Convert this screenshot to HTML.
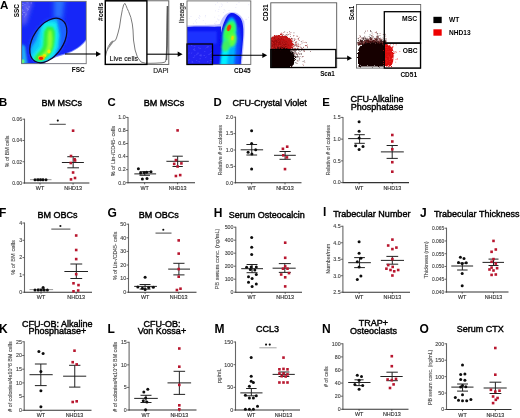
<!DOCTYPE html>
<html><head><meta charset="utf-8"><style>
html,body{margin:0;padding:0;background:#fff;}
svg{display:block;font-family:"Liberation Sans", sans-serif;}
.ttl{stroke:#000;stroke-width:0.42px;}
.tk{stroke:#444;stroke-width:0.12px;}
.gl{stroke:#333;stroke-width:0.15px;}
</style></head><body>
<svg width="520" height="418" viewBox="0 0 520 418">
<defs><filter id="soft" x="0" y="0" width="520" height="418" filterUnits="userSpaceOnUse"><feGaussianBlur stdDeviation="0.28"/></filter></defs>
<rect width="520" height="418" fill="#fff"/>
<g filter="url(#soft)">
<defs>
<filter id="b1" x="-50%" y="-50%" width="200%" height="200%"><feGaussianBlur stdDeviation="1.2"/></filter>
<filter id="b2" x="-50%" y="-50%" width="200%" height="200%"><feGaussianBlur stdDeviation="2.2"/></filter>
<filter id="b3" x="-50%" y="-50%" width="200%" height="200%"><feGaussianBlur stdDeviation="0.7"/></filter>
<filter id="b4" x="-50%" y="-50%" width="200%" height="200%"><feGaussianBlur stdDeviation="3.5"/></filter>
<filter id="b5" x="-50%" y="-50%" width="200%" height="200%"><feGaussianBlur stdDeviation="1.7"/></filter>
<filter id="rough" x="-20%" y="-20%" width="140%" height="140%"><feTurbulence type="fractalNoise" baseFrequency="0.9" numOctaves="2" seed="3" result="n"/><feDisplacementMap in="SourceGraphic" in2="n" scale="3.2" xChannelSelector="R" yChannelSelector="G"/></filter>
<clipPath id="c1"><rect x="21.5" y="1.2" width="64.5" height="62.5"/></clipPath>
<clipPath id="c1e"><ellipse cx="48.3" cy="40.5" rx="14.6" ry="24.2" transform="rotate(33.6 48.3 40.5)"/></clipPath>
<clipPath id="c3"><rect x="187" y="0.8" width="63.8" height="63.6"/></clipPath>
<clipPath id="c4"><rect x="270.8" y="2.8" width="65.2" height="64.7"/></clipPath>
<clipPath id="c5"><rect x="356.5" y="4.5" width="64" height="63.5"/></clipPath>
</defs>
<text x="-0.10" y="9.20" font-size="11.6" text-anchor="start" font-weight="bold" fill="#000" >A</text>
<g clip-path="url(#c1)">
<rect x="21.5" y="1.2" width="64.5" height="62.5" fill="#1428f8"/>
<path d="M54,-2 L65,-2 L62,22 L54,24 Z" fill="#2a70ff" filter="url(#b2)"/>
<path d="M21.5,1.2 L33,1.2 C31,8 29,14 26,24 L21.5,26 Z" fill="#5c5cf2" filter="url(#b2)"/>
<rect x="24.6" y="4.0" width="0.7" height="0.7" fill="#9a9af8"/><rect x="27.7" y="2.6" width="0.7" height="0.7" fill="#9a9af8"/><rect x="26.6" y="8.1" width="0.7" height="0.7" fill="#9a9af8"/><rect x="22.1" y="10.7" width="0.7" height="0.7" fill="#9a9af8"/><rect x="21.9" y="9.4" width="0.7" height="0.7" fill="#9a9af8"/><rect x="22.2" y="2.9" width="0.7" height="0.7" fill="#9a9af8"/><rect x="22.7" y="5.4" width="0.7" height="0.7" fill="#9a9af8"/><rect x="27.0" y="8.7" width="0.7" height="0.7" fill="#9a9af8"/><rect x="30.8" y="2.1" width="0.7" height="0.7" fill="#9a9af8"/><rect x="22.9" y="3.4" width="0.7" height="0.7" fill="#9a9af8"/><rect x="24.4" y="16.5" width="0.7" height="0.7" fill="#9a9af8"/><rect x="23.2" y="12.1" width="0.7" height="0.7" fill="#9a9af8"/><rect x="27.6" y="8.2" width="0.7" height="0.7" fill="#9a9af8"/><rect x="26.7" y="2.4" width="0.7" height="0.7" fill="#9a9af8"/><rect x="22.1" y="5.1" width="0.7" height="0.7" fill="#9a9af8"/><rect x="28.0" y="9.2" width="0.7" height="0.7" fill="#9a9af8"/><rect x="24.5" y="12.2" width="0.7" height="0.7" fill="#9a9af8"/><rect x="25.8" y="6.8" width="0.7" height="0.7" fill="#9a9af8"/><rect x="23.8" y="12.0" width="0.7" height="0.7" fill="#9a9af8"/><rect x="28.4" y="6.6" width="0.7" height="0.7" fill="#9a9af8"/><rect x="30.8" y="3.4" width="0.7" height="0.7" fill="#9a9af8"/><rect x="25.5" y="15.4" width="0.7" height="0.7" fill="#9a9af8"/><rect x="22.9" y="10.4" width="0.7" height="0.7" fill="#9a9af8"/><rect x="21.9" y="13.8" width="0.7" height="0.7" fill="#9a9af8"/><rect x="27.0" y="9.8" width="0.7" height="0.7" fill="#9a9af8"/><rect x="26.0" y="13.7" width="0.7" height="0.7" fill="#9a9af8"/><rect x="22.1" y="14.4" width="0.7" height="0.7" fill="#9a9af8"/><rect x="29.3" y="6.6" width="0.7" height="0.7" fill="#9a9af8"/><rect x="25.2" y="13.8" width="0.7" height="0.7" fill="#9a9af8"/><rect x="21.7" y="9.9" width="0.7" height="0.7" fill="#9a9af8"/>
<path d="M21.5,44 L25,46 L27.5,64 L21.5,64 Z" fill="#20b0f0" filter="url(#b1)"/>
<ellipse cx="23" cy="61.5" rx="1.5" ry="2.3" fill="#60f080" filter="url(#b3)"/>
<ellipse cx="48.3" cy="40.5" rx="16.5" ry="26" transform="rotate(33.6 48.3 40.5)" fill="#1a3cff" filter="url(#b1)"/>
<path d="M88,36.5 C82,46 74,50.5 65,53.5 C57,55.5 51,57 45,61 L41,66 L88,66 Z" fill="#7a86ff" filter="url(#b3)"/>
<path d="M88,38 C82,47 74,51.5 65,54.5 C58,56.5 52,58 46,62 L42,66 L88,66 Z" fill="#fff" filter="url(#b3)"/>
</g>
<g clip-path="url(#c1e)">
<rect x="20" y="10" width="60" height="60" fill="#1a62ff"/>
<path d="M44,19 L57,19 L60,35 L59,48 L55,56 L48,62 L36,64 L29,58 L31,48 L36,40 L40,28 Z" fill="#08c8fa" filter="url(#b5)"/>
<path d="M45,22 L56,23 L58,35 L57,47 L53,56 L45,61 L35,62 L32,57 L36,51 L40,46 L41,35 L42,27 Z" fill="#18eef0" filter="url(#b1)"/>
<path d="M47,26.5 L53,27 L55,32 L54.8,40 L54,46 L52.5,50.5 L50,54.5 L46.5,58 L42,61 L36,61.5 L34,58.5 L37,54 L41,50 L43,46 L43.5,40 L44,32 Z" fill="#30f040" filter="url(#b1)"/>
<path d="M48.5,30 L51.5,30.5 L52.5,38 L52,46 L50.5,51 L47,55.5 L42,58.5 L39,58 L42,54.5 L46,50 L47.5,45 L47.5,37 Z" fill="#90ff30" filter="url(#b1)"/>
<ellipse cx="49" cy="51.5" rx="1.6" ry="2" fill="#f0f000" filter="url(#b3)"/>
<ellipse cx="44.5" cy="55.5" rx="1.8" ry="1.5" fill="#e8f000" filter="url(#b3)"/>
<ellipse cx="41.5" cy="57.8" rx="3.4" ry="2.4" fill="#f0c000" filter="url(#b3)"/>
<ellipse cx="41" cy="58.3" rx="2.3" ry="1.6" fill="#f02800" filter="url(#b3)"/>
</g>
<rect x="21.6" y="1.3" width="64.6" height="62.4" fill="none" stroke="#666" stroke-width="0.8"/>
<ellipse cx="48.3" cy="40.5" rx="15.1" ry="24.7" transform="rotate(33.6 48.3 40.5)" fill="none" stroke="#0a0a28" stroke-width="1.2"/>
<line x1="65.00" y1="54.00" x2="97.00" y2="54.00" stroke="#000" stroke-width="1.1"/>
<path d="M96,51.3 L101,54 L96,56.7 Z" fill="#000"/>
<text transform="translate(19.4,10.7) rotate(-90)" font-size="6.4" font-weight="bold" text-anchor="middle">SSC</text>
<text x="78.30" y="71.80" font-size="6.5" text-anchor="middle" font-weight="bold" fill="#000" >FSC</text>
<rect x="105.3" y="0.8" width="63.5" height="63.6" fill="none" stroke="#555" stroke-width="0.9"/>
<path d="M105.6,56.0 L106.5,52.0 L108.3,46.5 L110.5,43.0 L112.0,41.3 L114.0,41.2 L115.3,40.5 L116.5,38.0 L118.0,33.0 L119.5,27.0 L121.0,17.0 L122.4,9.5 L123.6,5.0 L124.8,3.3 L126.0,5.5 L127.2,8.5 L128.6,11.5 L130.8,17.3 L132.3,24.0 L133.0,30.0 L133.5,40.0 L135.1,50.0 L137.4,57.0 L141.0,62.0 L145.5,63.2 L150.0,63.3 L155.0,63.2 L162.0,62.8 L165.2,62.0 L166.4,59.0 L167.0,45.0 L167.3,20.0 L167.5,8.0" fill="none" stroke="#7a7a7a" stroke-width="1"/>
<path d="M106.5,52 L108.5,47.2 L110.5,43 L112,41.3 L114,41.2 L112,44 L109,48 Z" fill="#888"/>
<path d="M166.4,60 L167,45 L167.3,20 L167.5,6" fill="none" stroke="#555" stroke-width="1.6"/>
<rect x="105.3" y="0.8" width="41.6" height="63.6" fill="none" stroke="#000" stroke-width="1.4"/>
<text x="109.60" y="61.10" font-size="6.9" text-anchor="start" font-weight="normal" fill="#000" class="gl">Live cells</text>
<line x1="146.90" y1="54.20" x2="178.00" y2="54.20" stroke="#000" stroke-width="1.1"/>
<path d="M177.7,51.6 L182.6,54.2 L177.7,56.8 Z" fill="#000"/>
<text transform="translate(103.4,11.8) rotate(-90)" font-size="6.6" font-weight="bold" text-anchor="middle">#cells</text>
<text x="161.00" y="72.90" font-size="6.6" text-anchor="middle" font-weight="normal" fill="#111" class="gl">DAPI</text>
<g clip-path="url(#c3)">
<rect x="187" y="0.8" width="64" height="64" fill="#fff"/>
<rect x="220.9" y="3.7" width="0.6" height="0.6" fill="#c8c8f4"/><rect x="217.1" y="18.7" width="0.6" height="0.6" fill="#c8c8f4"/><rect x="219.5" y="6.7" width="0.6" height="0.6" fill="#c8c8f4"/><rect x="228.7" y="21.0" width="0.6" height="0.6" fill="#c8c8f4"/><rect x="217.8" y="11.3" width="0.6" height="0.6" fill="#c8c8f4"/><rect x="234.2" y="21.3" width="0.6" height="0.6" fill="#c8c8f4"/><rect x="243.7" y="20.9" width="0.6" height="0.6" fill="#c8c8f4"/><rect x="224.7" y="10.6" width="0.6" height="0.6" fill="#c8c8f4"/><rect x="227.6" y="21.3" width="0.6" height="0.6" fill="#c8c8f4"/><rect x="248.5" y="4.5" width="0.6" height="0.6" fill="#c8c8f4"/><rect x="221.2" y="6.3" width="0.6" height="0.6" fill="#c8c8f4"/><rect x="223.2" y="12.2" width="0.6" height="0.6" fill="#c8c8f4"/><rect x="235.6" y="7.0" width="0.6" height="0.6" fill="#c8c8f4"/><rect x="215.1" y="10.6" width="0.6" height="0.6" fill="#c8c8f4"/><rect x="227.9" y="14.0" width="0.6" height="0.6" fill="#c8c8f4"/><rect x="248.4" y="16.9" width="0.6" height="0.6" fill="#c8c8f4"/><rect x="233.0" y="15.2" width="0.6" height="0.6" fill="#c8c8f4"/><rect x="238.7" y="2.2" width="0.6" height="0.6" fill="#c8c8f4"/><rect x="246.5" y="18.9" width="0.6" height="0.6" fill="#c8c8f4"/><rect x="245.6" y="19.4" width="0.6" height="0.6" fill="#c8c8f4"/><rect x="228.7" y="10.2" width="0.6" height="0.6" fill="#c8c8f4"/><rect x="218.6" y="15.6" width="0.6" height="0.6" fill="#c8c8f4"/><rect x="217.2" y="2.5" width="0.6" height="0.6" fill="#c8c8f4"/><rect x="222.3" y="4.7" width="0.6" height="0.6" fill="#c8c8f4"/><rect x="226.9" y="2.2" width="0.6" height="0.6" fill="#c8c8f4"/><rect x="215.0" y="4.5" width="0.6" height="0.6" fill="#c8c8f4"/><rect x="218.6" y="9.4" width="0.6" height="0.6" fill="#c8c8f4"/><rect x="215.9" y="21.1" width="0.6" height="0.6" fill="#c8c8f4"/><rect x="236.5" y="4.4" width="0.6" height="0.6" fill="#c8c8f4"/><rect x="223.8" y="9.0" width="0.6" height="0.6" fill="#c8c8f4"/><rect x="199.7" y="16.4" width="0.6" height="0.6" fill="#c8c8f4"/><rect x="215.2" y="25.9" width="0.6" height="0.6" fill="#c8c8f4"/><rect x="202.9" y="20.3" width="0.6" height="0.6" fill="#c8c8f4"/><rect x="190.7" y="16.1" width="0.6" height="0.6" fill="#c8c8f4"/><rect x="199.0" y="17.9" width="0.6" height="0.6" fill="#c8c8f4"/><rect x="214.5" y="16.8" width="0.6" height="0.6" fill="#c8c8f4"/><rect x="188.7" y="25.5" width="0.6" height="0.6" fill="#c8c8f4"/><rect x="204.9" y="16.6" width="0.6" height="0.6" fill="#c8c8f4"/><rect x="205.4" y="15.3" width="0.6" height="0.6" fill="#c8c8f4"/><rect x="204.9" y="25.8" width="0.6" height="0.6" fill="#c8c8f4"/><rect x="215.6" y="22.7" width="0.6" height="0.6" fill="#c8c8f4"/><rect x="196.4" y="19.0" width="0.6" height="0.6" fill="#c8c8f4"/><rect x="193.3" y="23.5" width="0.6" height="0.6" fill="#c8c8f4"/><rect x="205.0" y="23.6" width="0.6" height="0.6" fill="#c8c8f4"/><rect x="198.5" y="17.5" width="0.6" height="0.6" fill="#c8c8f4"/><rect x="214.0" y="25.8" width="0.6" height="0.6" fill="#c8c8f4"/><rect x="215.3" y="23.9" width="0.6" height="0.6" fill="#c8c8f4"/><rect x="214.2" y="23.1" width="0.6" height="0.6" fill="#c8c8f4"/><rect x="195.3" y="20.7" width="0.6" height="0.6" fill="#c8c8f4"/><rect x="199.4" y="15.3" width="0.6" height="0.6" fill="#c8c8f4"/><rect x="188.9" y="18.1" width="0.6" height="0.6" fill="#c8c8f4"/><rect x="196.3" y="22.6" width="0.6" height="0.6" fill="#c8c8f4"/><rect x="218.6" y="19.9" width="0.6" height="0.6" fill="#c8c8f4"/><rect x="218.0" y="25.9" width="0.6" height="0.6" fill="#c8c8f4"/><rect x="218.6" y="19.0" width="0.6" height="0.6" fill="#c8c8f4"/>
<path d="M187,25.5 C200,24.5 212,25.5 219.8,24 C222,17 226,12 232,12 C237,12 242,15 244.3,22 C245.5,30 243.8,45 241.8,66 L187,66 Z" fill="#c4c4ff" filter="url(#b3)"/>
<path d="M187,27 C200,26 212,27 221,26.5 L221,66 L187,66 Z" fill="#0c14f2"/>
<path d="M219,47 C220,36 222,26 225,20 C227,15.5 229,13 232,13 C235,13 238,15 240.5,18 C243,22 244,29 243,40 L240.5,66 L219,66 Z" fill="#0c14f2" filter="url(#b3)"/>
<path d="M187,31 L217,31 L217,44 L187,44 Z" fill="#1a32ff" filter="url(#b1)"/>
<path d="M228,66 C230,50 236,35 239,25 L241,40 L239.5,66 Z" fill="#1048ff" filter="url(#b1)"/>
<path d="M220.5,66 C221.5,50 224,30 229,19 C231,16 234,17 235,21 C237,32 236,50 234,66 Z" fill="#00b0ff" filter="url(#b1)"/>
<path d="M220.5,66 C221,56 223,48 225.5,43 L230,45 C228.5,52 227.5,58 227,66 Z" fill="#00f0ff" filter="url(#b1)"/>
<ellipse cx="229.5" cy="33" rx="6.2" ry="13" transform="rotate(15 229.5 33)" fill="#20f0a0" filter="url(#b1)"/>
<ellipse cx="229.5" cy="31" rx="4.6" ry="9" transform="rotate(18 229.5 31)" fill="#40ff40" filter="url(#b1)"/>
<ellipse cx="232" cy="40" rx="4.4" ry="7" transform="rotate(12 232 40)" fill="#60ff40" filter="url(#b1)"/>
<ellipse cx="226" cy="46" rx="4" ry="5.5" transform="rotate(15 226 46)" fill="#40f060" filter="url(#b1)"/>
<ellipse cx="229" cy="27.8" rx="1.9" ry="3.4" transform="rotate(20 229 27.8)" fill="#f03800" filter="url(#b3)"/>
<ellipse cx="232.5" cy="38" rx="1.4" ry="2.5" transform="rotate(12 232.5 38)" fill="#e8e000" filter="url(#b3)"/>
<rect x="187" y="44" width="25.5" height="20.5" fill="#2222f2"/>
<rect x="193.3" y="49.3" width="1.6" height="0.5" fill="#5050ff" transform="rotate(-36 193.3 49.3)"/><rect x="192.9" y="56.9" width="1.6" height="0.5" fill="#5050ff" transform="rotate(13 192.9 56.9)"/><rect x="208.2" y="54.1" width="1.6" height="0.5" fill="#5050ff" transform="rotate(-4 208.2 54.1)"/><rect x="207.2" y="46.6" width="1.6" height="0.5" fill="#5050ff" transform="rotate(-4 207.2 46.6)"/><rect x="209.8" y="59.9" width="1.6" height="0.5" fill="#5050ff" transform="rotate(3 209.8 59.9)"/><rect x="199.5" y="48.4" width="1.6" height="0.5" fill="#5050ff" transform="rotate(5 199.5 48.4)"/><rect x="196.0" y="60.2" width="1.6" height="0.5" fill="#5050ff" transform="rotate(18 196.0 60.2)"/><rect x="197.5" y="52.6" width="1.6" height="0.5" fill="#5050ff" transform="rotate(16 197.5 52.6)"/><rect x="205.4" y="48.2" width="1.6" height="0.5" fill="#5050ff" transform="rotate(-41 205.4 48.2)"/><rect x="191.6" y="62.2" width="1.6" height="0.5" fill="#5050ff" transform="rotate(6 191.6 62.2)"/><rect x="191.5" y="60.7" width="1.6" height="0.5" fill="#5050ff" transform="rotate(19 191.5 60.7)"/><rect x="203.8" y="51.7" width="1.6" height="0.5" fill="#5050ff" transform="rotate(-12 203.8 51.7)"/><rect x="191.1" y="45.3" width="1.6" height="0.5" fill="#5050ff" transform="rotate(18 191.1 45.3)"/><rect x="203.6" y="55.0" width="1.6" height="0.5" fill="#5050ff" transform="rotate(15 203.6 55.0)"/><rect x="198.4" y="61.6" width="1.6" height="0.5" fill="#5050ff" transform="rotate(8 198.4 61.6)"/><rect x="193.1" y="49.8" width="1.6" height="0.5" fill="#5050ff" transform="rotate(-29 193.1 49.8)"/><rect x="193.8" y="56.1" width="1.6" height="0.5" fill="#5050ff" transform="rotate(-32 193.8 56.1)"/><rect x="198.1" y="47.5" width="1.6" height="0.5" fill="#5050ff" transform="rotate(14 198.1 47.5)"/><rect x="196.5" y="53.7" width="1.6" height="0.5" fill="#5050ff" transform="rotate(-9 196.5 53.7)"/><rect x="209.7" y="53.0" width="1.6" height="0.5" fill="#5050ff" transform="rotate(14 209.7 53.0)"/><rect x="200.0" y="55.1" width="1.6" height="0.5" fill="#5050ff" transform="rotate(-13 200.0 55.1)"/><rect x="188.4" y="53.4" width="1.6" height="0.5" fill="#5050ff" transform="rotate(-37 188.4 53.4)"/><rect x="188.1" y="60.2" width="1.6" height="0.5" fill="#5050ff" transform="rotate(-38 188.1 60.2)"/><rect x="199.4" y="58.8" width="1.6" height="0.5" fill="#5050ff" transform="rotate(-11 199.4 58.8)"/><rect x="195.8" y="54.8" width="1.6" height="0.5" fill="#5050ff" transform="rotate(-11 195.8 54.8)"/><rect x="206.8" y="47.0" width="1.6" height="0.5" fill="#5050ff" transform="rotate(-11 206.8 47.0)"/><rect x="194.0" y="50.3" width="1.6" height="0.5" fill="#5050ff" transform="rotate(4 194.0 50.3)"/><rect x="200.2" y="55.7" width="1.6" height="0.5" fill="#5050ff" transform="rotate(3 200.2 55.7)"/><rect x="209.9" y="53.4" width="1.6" height="0.5" fill="#5050ff" transform="rotate(-7 209.9 53.4)"/><rect x="200.1" y="54.7" width="1.6" height="0.5" fill="#5050ff" transform="rotate(-2 200.1 54.7)"/><rect x="198.9" y="55.1" width="1.6" height="0.5" fill="#5050ff" transform="rotate(-17 198.9 55.1)"/><rect x="210.6" y="58.3" width="1.6" height="0.5" fill="#5050ff" transform="rotate(11 210.6 58.3)"/><rect x="210.6" y="49.9" width="1.6" height="0.5" fill="#5050ff" transform="rotate(-11 210.6 49.9)"/><rect x="210.6" y="61.0" width="1.6" height="0.5" fill="#5050ff" transform="rotate(-40 210.6 61.0)"/><rect x="190.9" y="53.4" width="1.6" height="0.5" fill="#5050ff" transform="rotate(-45 190.9 53.4)"/><rect x="193.8" y="46.4" width="1.6" height="0.5" fill="#5050ff" transform="rotate(-3 193.8 46.4)"/><rect x="206.8" y="62.0" width="1.6" height="0.5" fill="#5050ff" transform="rotate(-39 206.8 62.0)"/><rect x="205.2" y="57.5" width="1.6" height="0.5" fill="#5050ff" transform="rotate(-40 205.2 57.5)"/><rect x="209.2" y="63.4" width="1.6" height="0.5" fill="#5050ff" transform="rotate(-35 209.2 63.4)"/><rect x="210.9" y="52.6" width="1.6" height="0.5" fill="#5050ff" transform="rotate(-16 210.9 52.6)"/>
</g>
<rect x="187" y="0.9" width="63.8" height="63.5" fill="none" stroke="#666" stroke-width="0.9"/>
<rect x="187" y="44" width="25.5" height="20.5" fill="none" stroke="#000" stroke-width="1.3"/>
<line x1="212.50" y1="55.30" x2="263.00" y2="55.30" stroke="#000" stroke-width="1.1"/>
<path d="M262.3,52.7 L267.2,55.3 L262.3,57.9 Z" fill="#000"/>
<text transform="translate(184.2,12.8) rotate(-90)" font-size="6.3" text-anchor="middle" fill="#111" class="gl">lineage</text>
<text x="242.40" y="72.90" font-size="6.5" text-anchor="middle" font-weight="bold" fill="#000" >CD45</text>
<g clip-path="url(#c4)">
<rect x="290.2" y="39.8" width="0.7" height="0.7" fill="#b02020"/><rect x="297.7" y="42.9" width="0.7" height="0.7" fill="#502020"/><rect x="281.7" y="59.1" width="0.7" height="0.7" fill="#301010"/><rect x="284.7" y="59.8" width="0.7" height="0.7" fill="#200808"/><rect x="291.3" y="65.9" width="0.7" height="0.7" fill="#200808"/><rect x="284.8" y="66.8" width="0.7" height="0.7" fill="#301010"/><rect x="294.6" y="53.7" width="0.7" height="0.7" fill="#301010"/><rect x="297.6" y="48.1" width="0.7" height="0.7" fill="#c05050"/><rect x="291.1" y="53.1" width="0.7" height="0.7" fill="#301010"/><rect x="292.1" y="38.5" width="0.7" height="0.7" fill="#c05050"/><rect x="290.1" y="46.3" width="0.7" height="0.7" fill="#b02020"/><rect x="281.6" y="34.9" width="0.7" height="0.7" fill="#502020"/><rect x="294.0" y="39.7" width="0.7" height="0.7" fill="#502020"/><rect x="299.3" y="57.5" width="0.7" height="0.7" fill="#a05050"/><rect x="285.3" y="42.1" width="0.7" height="0.7" fill="#c05050"/><rect x="291.8" y="48.2" width="0.7" height="0.7" fill="#502020"/><rect x="291.8" y="41.3" width="0.7" height="0.7" fill="#8a2020"/><rect x="288.4" y="44.9" width="0.7" height="0.7" fill="#c05050"/><rect x="282.3" y="62.1" width="0.7" height="0.7" fill="#301010"/><rect x="291.1" y="45.6" width="0.7" height="0.7" fill="#8a2020"/><rect x="287.8" y="58.2" width="0.7" height="0.7" fill="#200808"/><rect x="300.8" y="54.2" width="0.7" height="0.7" fill="#200808"/><rect x="286.6" y="56.5" width="0.7" height="0.7" fill="#602020"/><rect x="283.6" y="42.1" width="0.7" height="0.7" fill="#b02020"/><rect x="291.0" y="58.0" width="0.7" height="0.7" fill="#200808"/><rect x="298.6" y="49.7" width="0.7" height="0.7" fill="#a05050"/><rect x="295.7" y="62.6" width="0.7" height="0.7" fill="#301010"/><rect x="296.8" y="53.9" width="0.7" height="0.7" fill="#a05050"/><rect x="292.7" y="53.6" width="0.7" height="0.7" fill="#200808"/><rect x="298.3" y="38.1" width="0.7" height="0.7" fill="#502020"/><rect x="293.3" y="49.0" width="0.7" height="0.7" fill="#8a2020"/><rect x="290.7" y="45.0" width="0.7" height="0.7" fill="#c05050"/><rect x="307.2" y="47.4" width="0.7" height="0.7" fill="#502020"/><rect x="280.8" y="63.3" width="0.7" height="0.7" fill="#602020"/><rect x="283.5" y="41.3" width="0.7" height="0.7" fill="#c05050"/><rect x="282.5" y="59.4" width="0.7" height="0.7" fill="#a05050"/><rect x="280.6" y="35.1" width="0.7" height="0.7" fill="#c05050"/><rect x="286.8" y="38.3" width="0.7" height="0.7" fill="#c05050"/><rect x="286.8" y="58.2" width="0.7" height="0.7" fill="#301010"/><rect x="285.5" y="61.4" width="0.7" height="0.7" fill="#200808"/><rect x="286.2" y="68.4" width="0.7" height="0.7" fill="#a05050"/><rect x="283.6" y="61.1" width="0.7" height="0.7" fill="#a05050"/><rect x="290.5" y="39.0" width="0.7" height="0.7" fill="#b02020"/><rect x="293.3" y="64.3" width="0.7" height="0.7" fill="#602020"/><rect x="289.4" y="55.3" width="0.7" height="0.7" fill="#200808"/><rect x="292.9" y="53.4" width="0.7" height="0.7" fill="#200808"/><rect x="295.1" y="55.8" width="0.7" height="0.7" fill="#200808"/><rect x="297.5" y="48.1" width="0.7" height="0.7" fill="#502020"/><rect x="291.3" y="45.7" width="0.7" height="0.7" fill="#c05050"/><rect x="287.6" y="62.3" width="0.7" height="0.7" fill="#602020"/><rect x="303.6" y="50.2" width="0.7" height="0.7" fill="#602020"/><rect x="305.6" y="45.5" width="0.7" height="0.7" fill="#502020"/><rect x="280.5" y="36.6" width="0.7" height="0.7" fill="#502020"/><rect x="290.2" y="36.3" width="0.7" height="0.7" fill="#502020"/><rect x="299.7" y="51.3" width="0.7" height="0.7" fill="#301010"/><rect x="285.0" y="34.9" width="0.7" height="0.7" fill="#502020"/><rect x="284.3" y="39.4" width="0.7" height="0.7" fill="#c05050"/><rect x="287.9" y="43.9" width="0.7" height="0.7" fill="#502020"/><rect x="295.0" y="49.9" width="0.7" height="0.7" fill="#602020"/><rect x="290.4" y="41.8" width="0.7" height="0.7" fill="#c05050"/><rect x="288.1" y="34.0" width="0.7" height="0.7" fill="#8a2020"/><rect x="291.7" y="56.4" width="0.7" height="0.7" fill="#a05050"/><rect x="303.0" y="65.2" width="0.7" height="0.7" fill="#a05050"/><rect x="297.1" y="48.7" width="0.7" height="0.7" fill="#c05050"/><rect x="283.5" y="41.5" width="0.7" height="0.7" fill="#b02020"/><rect x="291.6" y="59.2" width="0.7" height="0.7" fill="#301010"/><rect x="284.1" y="60.1" width="0.7" height="0.7" fill="#200808"/><rect x="282.2" y="36.4" width="0.7" height="0.7" fill="#502020"/><rect x="282.1" y="42.0" width="0.7" height="0.7" fill="#b02020"/><rect x="298.8" y="36.9" width="0.7" height="0.7" fill="#c05050"/><rect x="296.1" y="44.7" width="0.7" height="0.7" fill="#b02020"/><rect x="288.6" y="45.0" width="0.7" height="0.7" fill="#b02020"/><rect x="281.7" y="39.0" width="0.7" height="0.7" fill="#502020"/><rect x="300.4" y="46.7" width="0.7" height="0.7" fill="#8a2020"/><rect x="291.6" y="55.6" width="0.7" height="0.7" fill="#a05050"/><rect x="294.1" y="51.4" width="0.7" height="0.7" fill="#301010"/><rect x="286.5" y="35.6" width="0.7" height="0.7" fill="#502020"/><rect x="287.3" y="41.8" width="0.7" height="0.7" fill="#8a2020"/><rect x="298.1" y="52.8" width="0.7" height="0.7" fill="#602020"/><rect x="294.5" y="48.0" width="0.7" height="0.7" fill="#c05050"/><rect x="281.0" y="59.0" width="0.7" height="0.7" fill="#602020"/><rect x="290.8" y="44.3" width="0.7" height="0.7" fill="#8a2020"/><rect x="284.4" y="62.8" width="0.7" height="0.7" fill="#200808"/><rect x="280.8" y="32.9" width="0.7" height="0.7" fill="#c05050"/><rect x="289.8" y="40.8" width="0.7" height="0.7" fill="#8a2020"/><rect x="282.4" y="35.1" width="0.7" height="0.7" fill="#502020"/><rect x="286.2" y="37.2" width="0.7" height="0.7" fill="#b02020"/><rect x="284.4" y="31.5" width="0.7" height="0.7" fill="#502020"/><rect x="307.3" y="44.6" width="0.7" height="0.7" fill="#c05050"/><rect x="296.9" y="56.0" width="0.7" height="0.7" fill="#301010"/><rect x="286.6" y="42.6" width="0.7" height="0.7" fill="#8a2020"/><rect x="285.0" y="61.8" width="0.7" height="0.7" fill="#200808"/><rect x="286.9" y="32.4" width="0.7" height="0.7" fill="#8a2020"/><rect x="294.0" y="53.7" width="0.7" height="0.7" fill="#602020"/><rect x="292.7" y="45.8" width="0.7" height="0.7" fill="#8a2020"/><rect x="283.2" y="34.1" width="0.7" height="0.7" fill="#b02020"/><rect x="295.2" y="56.3" width="0.7" height="0.7" fill="#200808"/><rect x="297.5" y="56.9" width="0.7" height="0.7" fill="#301010"/><rect x="303.0" y="47.2" width="0.7" height="0.7" fill="#8a2020"/><rect x="296.6" y="44.3" width="0.7" height="0.7" fill="#b02020"/><rect x="282.3" y="40.6" width="0.7" height="0.7" fill="#c05050"/><rect x="298.6" y="50.2" width="0.7" height="0.7" fill="#602020"/><rect x="281.6" y="41.5" width="0.7" height="0.7" fill="#b02020"/><rect x="285.6" y="61.1" width="0.7" height="0.7" fill="#602020"/><rect x="293.8" y="45.8" width="0.7" height="0.7" fill="#c05050"/><rect x="288.5" y="57.3" width="0.7" height="0.7" fill="#a05050"/><rect x="282.5" y="64.3" width="0.7" height="0.7" fill="#301010"/><rect x="295.5" y="38.9" width="0.7" height="0.7" fill="#c05050"/><rect x="288.8" y="59.7" width="0.7" height="0.7" fill="#a05050"/><rect x="290.9" y="46.5" width="0.7" height="0.7" fill="#b02020"/><rect x="281.4" y="42.5" width="0.7" height="0.7" fill="#b02020"/><rect x="291.2" y="44.4" width="0.7" height="0.7" fill="#502020"/><rect x="285.7" y="43.2" width="0.7" height="0.7" fill="#8a2020"/><rect x="292.1" y="48.7" width="0.7" height="0.7" fill="#c05050"/><rect x="297.9" y="56.4" width="0.7" height="0.7" fill="#200808"/><rect x="289.2" y="68.2" width="0.7" height="0.7" fill="#301010"/><rect x="298.3" y="44.5" width="0.7" height="0.7" fill="#b02020"/><rect x="302.6" y="40.6" width="0.7" height="0.7" fill="#c05050"/><rect x="292.9" y="57.2" width="0.7" height="0.7" fill="#200808"/><rect x="304.5" y="61.9" width="0.7" height="0.7" fill="#a05050"/><rect x="284.6" y="57.2" width="0.7" height="0.7" fill="#602020"/><rect x="284.3" y="60.1" width="0.7" height="0.7" fill="#602020"/><rect x="306.1" y="42.4" width="0.7" height="0.7" fill="#502020"/><rect x="281.9" y="40.8" width="0.7" height="0.7" fill="#8a2020"/><rect x="283.5" y="32.2" width="0.7" height="0.7" fill="#b02020"/><rect x="289.2" y="55.8" width="0.7" height="0.7" fill="#a05050"/><rect x="287.2" y="43.5" width="0.7" height="0.7" fill="#b02020"/><rect x="284.4" y="41.4" width="0.7" height="0.7" fill="#8a2020"/><rect x="292.9" y="50.5" width="0.7" height="0.7" fill="#301010"/><rect x="295.2" y="51.3" width="0.7" height="0.7" fill="#301010"/><rect x="296.3" y="52.8" width="0.7" height="0.7" fill="#602020"/><rect x="291.5" y="45.8" width="0.7" height="0.7" fill="#8a2020"/><rect x="282.7" y="66.3" width="0.7" height="0.7" fill="#a05050"/><rect x="293.8" y="52.4" width="0.7" height="0.7" fill="#602020"/><rect x="293.2" y="50.0" width="0.7" height="0.7" fill="#301010"/><rect x="296.0" y="41.8" width="0.7" height="0.7" fill="#8a2020"/><rect x="301.5" y="48.1" width="0.7" height="0.7" fill="#b02020"/><rect x="291.6" y="65.5" width="0.7" height="0.7" fill="#602020"/><rect x="291.9" y="40.5" width="0.7" height="0.7" fill="#8a2020"/><rect x="296.3" y="50.3" width="0.7" height="0.7" fill="#602020"/><rect x="282.7" y="61.3" width="0.7" height="0.7" fill="#301010"/><rect x="286.7" y="41.3" width="0.7" height="0.7" fill="#c05050"/><rect x="294.6" y="47.8" width="0.7" height="0.7" fill="#b02020"/><rect x="281.6" y="38.7" width="0.7" height="0.7" fill="#b02020"/><rect x="296.8" y="36.0" width="0.7" height="0.7" fill="#8a2020"/><rect x="305.8" y="45.1" width="0.7" height="0.7" fill="#8a2020"/><rect x="293.9" y="40.1" width="0.7" height="0.7" fill="#502020"/><rect x="304.2" y="51.0" width="0.7" height="0.7" fill="#a05050"/><rect x="292.2" y="60.4" width="0.7" height="0.7" fill="#301010"/><rect x="287.2" y="34.6" width="0.7" height="0.7" fill="#502020"/><rect x="303.8" y="50.7" width="0.7" height="0.7" fill="#a05050"/><rect x="295.8" y="57.4" width="0.7" height="0.7" fill="#301010"/><rect x="297.6" y="61.2" width="0.7" height="0.7" fill="#a05050"/><rect x="298.8" y="46.4" width="0.7" height="0.7" fill="#c05050"/><rect x="292.8" y="52.3" width="0.7" height="0.7" fill="#200808"/><rect x="290.6" y="32.2" width="0.7" height="0.7" fill="#8a2020"/><rect x="282.5" y="62.7" width="0.7" height="0.7" fill="#200808"/><rect x="296.8" y="48.8" width="0.7" height="0.7" fill="#8a2020"/><rect x="293.1" y="61.3" width="0.7" height="0.7" fill="#602020"/><rect x="281.2" y="42.3" width="0.7" height="0.7" fill="#c05050"/><rect x="289.4" y="43.5" width="0.7" height="0.7" fill="#8a2020"/><rect x="291.2" y="37.9" width="0.7" height="0.7" fill="#8a2020"/><rect x="288.0" y="65.8" width="0.7" height="0.7" fill="#a05050"/><rect x="294.4" y="59.8" width="0.7" height="0.7" fill="#301010"/><rect x="292.2" y="49.8" width="0.7" height="0.7" fill="#602020"/><rect x="296.4" y="41.2" width="0.7" height="0.7" fill="#b02020"/><rect x="290.0" y="39.0" width="0.7" height="0.7" fill="#b02020"/><rect x="303.2" y="56.1" width="0.7" height="0.7" fill="#a05050"/><rect x="287.5" y="57.4" width="0.7" height="0.7" fill="#602020"/><rect x="301.4" y="48.7" width="0.7" height="0.7" fill="#8a2020"/><rect x="283.2" y="38.3" width="0.7" height="0.7" fill="#502020"/><rect x="290.9" y="60.0" width="0.7" height="0.7" fill="#a05050"/><rect x="280.7" y="63.5" width="0.7" height="0.7" fill="#200808"/><rect x="291.9" y="51.2" width="0.7" height="0.7" fill="#301010"/><rect x="288.4" y="56.3" width="0.7" height="0.7" fill="#200808"/><rect x="302.0" y="56.2" width="0.7" height="0.7" fill="#301010"/><rect x="289.0" y="56.7" width="0.7" height="0.7" fill="#301010"/><rect x="292.6" y="47.8" width="0.7" height="0.7" fill="#b02020"/><rect x="305.2" y="41.9" width="0.7" height="0.7" fill="#c05050"/><rect x="281.8" y="34.0" width="0.7" height="0.7" fill="#b02020"/><rect x="301.4" y="49.9" width="0.7" height="0.7" fill="#200808"/><rect x="281.3" y="36.7" width="0.7" height="0.7" fill="#8a2020"/><rect x="281.2" y="42.4" width="0.7" height="0.7" fill="#b02020"/><rect x="299.6" y="53.1" width="0.7" height="0.7" fill="#301010"/><rect x="303.7" y="42.2" width="0.7" height="0.7" fill="#8a2020"/><rect x="289.7" y="55.9" width="0.7" height="0.7" fill="#200808"/><rect x="281.4" y="32.7" width="0.7" height="0.7" fill="#b02020"/><rect x="296.2" y="45.8" width="0.7" height="0.7" fill="#502020"/><rect x="296.3" y="54.2" width="0.7" height="0.7" fill="#200808"/><rect x="294.3" y="49.0" width="0.7" height="0.7" fill="#b02020"/><rect x="301.7" y="42.7" width="0.7" height="0.7" fill="#502020"/><rect x="298.1" y="39.1" width="0.7" height="0.7" fill="#c05050"/><rect x="281.7" y="61.2" width="0.7" height="0.7" fill="#200808"/><rect x="288.7" y="45.2" width="0.7" height="0.7" fill="#502020"/><rect x="293.6" y="61.6" width="0.7" height="0.7" fill="#200808"/><rect x="289.1" y="58.6" width="0.7" height="0.7" fill="#602020"/><rect x="290.1" y="45.2" width="0.7" height="0.7" fill="#8a2020"/><rect x="300.4" y="44.4" width="0.7" height="0.7" fill="#c05050"/><rect x="290.4" y="58.4" width="0.7" height="0.7" fill="#a05050"/><rect x="287.8" y="64.5" width="0.7" height="0.7" fill="#602020"/><rect x="288.5" y="41.3" width="0.7" height="0.7" fill="#c05050"/><rect x="297.1" y="53.9" width="0.7" height="0.7" fill="#301010"/><rect x="284.8" y="39.8" width="0.7" height="0.7" fill="#502020"/><rect x="294.7" y="52.9" width="0.7" height="0.7" fill="#a05050"/><rect x="283.6" y="42.0" width="0.7" height="0.7" fill="#502020"/><rect x="307.9" y="49.1" width="0.7" height="0.7" fill="#502020"/><rect x="291.2" y="56.5" width="0.7" height="0.7" fill="#a05050"/><rect x="284.5" y="61.1" width="0.7" height="0.7" fill="#200808"/><rect x="282.9" y="40.4" width="0.7" height="0.7" fill="#8a2020"/><rect x="294.5" y="56.4" width="0.7" height="0.7" fill="#301010"/><rect x="298.4" y="48.8" width="0.7" height="0.7" fill="#c05050"/><rect x="294.3" y="49.4" width="0.7" height="0.7" fill="#8a2020"/><rect x="286.6" y="57.6" width="0.7" height="0.7" fill="#a05050"/><rect x="285.1" y="59.1" width="0.7" height="0.7" fill="#301010"/><rect x="289.1" y="43.1" width="0.7" height="0.7" fill="#c05050"/><rect x="288.0" y="43.5" width="0.7" height="0.7" fill="#8a2020"/><rect x="293.7" y="48.1" width="0.7" height="0.7" fill="#8a2020"/><rect x="288.0" y="39.7" width="0.7" height="0.7" fill="#c05050"/><rect x="303.6" y="50.7" width="0.7" height="0.7" fill="#602020"/><rect x="291.7" y="42.3" width="0.7" height="0.7" fill="#502020"/><rect x="292.9" y="57.9" width="0.7" height="0.7" fill="#301010"/><rect x="300.8" y="47.2" width="0.7" height="0.7" fill="#502020"/><rect x="291.0" y="38.2" width="0.7" height="0.7" fill="#8a2020"/><rect x="291.3" y="43.3" width="0.7" height="0.7" fill="#8a2020"/><rect x="291.6" y="43.0" width="0.7" height="0.7" fill="#8a2020"/><rect x="294.4" y="59.2" width="0.7" height="0.7" fill="#301010"/><rect x="293.9" y="55.7" width="0.7" height="0.7" fill="#a05050"/><rect x="288.1" y="61.7" width="0.7" height="0.7" fill="#301010"/><rect x="289.5" y="32.9" width="0.7" height="0.7" fill="#c05050"/><rect x="288.1" y="57.9" width="0.7" height="0.7" fill="#301010"/><rect x="281.6" y="33.5" width="0.7" height="0.7" fill="#8a2020"/><rect x="290.6" y="55.5" width="0.7" height="0.7" fill="#602020"/><rect x="282.4" y="40.7" width="0.7" height="0.7" fill="#c05050"/><rect x="284.9" y="41.2" width="0.7" height="0.7" fill="#8a2020"/><rect x="286.2" y="58.9" width="0.7" height="0.7" fill="#200808"/><rect x="293.6" y="32.5" width="0.7" height="0.7" fill="#502020"/><rect x="298.9" y="59.6" width="0.7" height="0.7" fill="#301010"/><rect x="293.9" y="44.5" width="0.7" height="0.7" fill="#502020"/><rect x="290.7" y="64.2" width="0.7" height="0.7" fill="#a05050"/><rect x="310.1" y="51.2" width="0.7" height="0.7" fill="#602020"/><rect x="285.3" y="40.2" width="0.7" height="0.7" fill="#8a2020"/><rect x="291.4" y="50.1" width="0.7" height="0.7" fill="#200808"/><rect x="296.2" y="67.4" width="0.7" height="0.7" fill="#301010"/><rect x="289.7" y="65.5" width="0.7" height="0.7" fill="#a05050"/><rect x="288.2" y="44.0" width="0.7" height="0.7" fill="#c05050"/><rect x="292.1" y="54.2" width="0.7" height="0.7" fill="#a05050"/><rect x="286.2" y="34.1" width="0.7" height="0.7" fill="#502020"/><rect x="285.5" y="41.2" width="0.7" height="0.7" fill="#502020"/><rect x="296.0" y="52.8" width="0.7" height="0.7" fill="#a05050"/><rect x="291.3" y="64.7" width="0.7" height="0.7" fill="#200808"/><rect x="293.2" y="43.7" width="0.7" height="0.7" fill="#502020"/><rect x="282.2" y="63.4" width="0.7" height="0.7" fill="#602020"/><rect x="286.9" y="60.1" width="0.7" height="0.7" fill="#200808"/><rect x="282.6" y="42.3" width="0.7" height="0.7" fill="#c05050"/><rect x="292.0" y="48.4" width="0.7" height="0.7" fill="#502020"/><rect x="281.1" y="67.7" width="0.7" height="0.7" fill="#200808"/><rect x="295.8" y="43.6" width="0.7" height="0.7" fill="#c05050"/><rect x="291.5" y="63.1" width="0.7" height="0.7" fill="#200808"/><rect x="297.7" y="38.6" width="0.7" height="0.7" fill="#8a2020"/><rect x="292.6" y="47.5" width="0.7" height="0.7" fill="#b02020"/><rect x="305.8" y="45.0" width="0.7" height="0.7" fill="#b02020"/><rect x="298.6" y="44.6" width="0.7" height="0.7" fill="#c05050"/><rect x="295.0" y="41.8" width="0.7" height="0.7" fill="#502020"/><rect x="290.0" y="53.5" width="0.7" height="0.7" fill="#200808"/><rect x="295.8" y="45.5" width="0.7" height="0.7" fill="#8a2020"/><rect x="289.6" y="60.7" width="0.7" height="0.7" fill="#602020"/><rect x="282.4" y="60.5" width="0.7" height="0.7" fill="#301010"/><rect x="281.8" y="38.7" width="0.7" height="0.7" fill="#c05050"/><rect x="280.5" y="65.3" width="0.7" height="0.7" fill="#200808"/><rect x="297.1" y="45.5" width="0.7" height="0.7" fill="#c05050"/><rect x="291.1" y="48.9" width="0.7" height="0.7" fill="#8a2020"/><rect x="286.0" y="37.4" width="0.7" height="0.7" fill="#8a2020"/><rect x="303.1" y="46.8" width="0.7" height="0.7" fill="#c05050"/><rect x="292.1" y="44.2" width="0.7" height="0.7" fill="#c05050"/><rect x="302.7" y="61.3" width="0.7" height="0.7" fill="#200808"/><rect x="299.7" y="56.3" width="0.7" height="0.7" fill="#602020"/><rect x="294.8" y="50.2" width="0.7" height="0.7" fill="#301010"/><rect x="282.9" y="36.4" width="0.7" height="0.7" fill="#c05050"/><rect x="297.5" y="59.9" width="0.7" height="0.7" fill="#200808"/><rect x="291.0" y="64.5" width="0.7" height="0.7" fill="#602020"/><rect x="286.8" y="40.5" width="0.7" height="0.7" fill="#8a2020"/><rect x="284.8" y="40.4" width="0.7" height="0.7" fill="#502020"/><rect x="289.8" y="43.9" width="0.7" height="0.7" fill="#b02020"/><rect x="282.9" y="64.0" width="0.7" height="0.7" fill="#602020"/><rect x="289.3" y="42.3" width="0.7" height="0.7" fill="#8a2020"/><rect x="298.8" y="40.3" width="0.7" height="0.7" fill="#502020"/><rect x="281.4" y="58.5" width="0.7" height="0.7" fill="#602020"/><rect x="298.3" y="46.3" width="0.7" height="0.7" fill="#b02020"/><rect x="293.3" y="45.5" width="0.7" height="0.7" fill="#c05050"/><rect x="297.3" y="45.8" width="0.7" height="0.7" fill="#502020"/><rect x="300.9" y="41.3" width="0.7" height="0.7" fill="#502020"/><rect x="307.3" y="46.4" width="0.7" height="0.7" fill="#8a2020"/><rect x="294.1" y="45.6" width="0.7" height="0.7" fill="#8a2020"/><rect x="290.7" y="66.1" width="0.7" height="0.7" fill="#a05050"/><rect x="298.9" y="54.3" width="0.7" height="0.7" fill="#602020"/><rect x="291.6" y="66.7" width="0.7" height="0.7" fill="#301010"/><rect x="292.0" y="47.0" width="0.7" height="0.7" fill="#8a2020"/><rect x="297.9" y="52.5" width="0.7" height="0.7" fill="#a05050"/><rect x="301.7" y="56.7" width="0.7" height="0.7" fill="#a05050"/><rect x="289.8" y="38.8" width="0.7" height="0.7" fill="#c05050"/><rect x="284.1" y="57.5" width="0.7" height="0.7" fill="#200808"/><rect x="287.1" y="67.9" width="0.7" height="0.7" fill="#301010"/><rect x="289.9" y="57.2" width="0.7" height="0.7" fill="#a05050"/><rect x="293.8" y="38.5" width="0.7" height="0.7" fill="#502020"/><rect x="299.4" y="58.4" width="0.7" height="0.7" fill="#301010"/><rect x="289.5" y="58.6" width="0.7" height="0.7" fill="#301010"/><rect x="305.0" y="45.1" width="0.7" height="0.7" fill="#8a2020"/><rect x="290.0" y="44.3" width="0.7" height="0.7" fill="#502020"/><rect x="297.5" y="47.7" width="0.7" height="0.7" fill="#502020"/><rect x="303.9" y="60.6" width="0.7" height="0.7" fill="#200808"/><rect x="288.3" y="56.1" width="0.7" height="0.7" fill="#a05050"/><rect x="287.7" y="41.4" width="0.7" height="0.7" fill="#8a2020"/><rect x="291.5" y="44.6" width="0.7" height="0.7" fill="#502020"/><rect x="290.9" y="41.7" width="0.7" height="0.7" fill="#502020"/><rect x="289.8" y="34.2" width="0.7" height="0.7" fill="#8a2020"/><rect x="285.3" y="59.1" width="0.7" height="0.7" fill="#a05050"/><rect x="292.3" y="53.7" width="0.7" height="0.7" fill="#602020"/><rect x="292.1" y="55.3" width="0.7" height="0.7" fill="#200808"/><rect x="287.0" y="58.0" width="0.7" height="0.7" fill="#a05050"/><rect x="291.9" y="49.7" width="0.7" height="0.7" fill="#a05050"/><rect x="286.4" y="38.3" width="0.7" height="0.7" fill="#c05050"/><rect x="292.7" y="58.9" width="0.7" height="0.7" fill="#a05050"/><rect x="286.2" y="66.7" width="0.7" height="0.7" fill="#a05050"/><rect x="291.2" y="54.1" width="0.7" height="0.7" fill="#301010"/><rect x="293.2" y="35.6" width="0.7" height="0.7" fill="#8a2020"/><rect x="297.4" y="54.8" width="0.7" height="0.7" fill="#a05050"/><rect x="295.6" y="42.9" width="0.7" height="0.7" fill="#c05050"/><rect x="289.0" y="31.4" width="0.7" height="0.7" fill="#502020"/><rect x="294.1" y="50.0" width="0.7" height="0.7" fill="#301010"/><rect x="297.3" y="55.7" width="0.7" height="0.7" fill="#200808"/><rect x="295.3" y="49.3" width="0.7" height="0.7" fill="#b02020"/><rect x="293.5" y="68.0" width="0.7" height="0.7" fill="#200808"/><rect x="301.8" y="48.4" width="0.7" height="0.7" fill="#502020"/><rect x="282.8" y="71.1" width="0.7" height="0.7" fill="#200808"/><rect x="283.1" y="66.7" width="0.7" height="0.7" fill="#301010"/><rect x="293.6" y="58.2" width="0.7" height="0.7" fill="#200808"/><rect x="283.4" y="64.6" width="0.7" height="0.7" fill="#a05050"/><rect x="289.1" y="64.2" width="0.7" height="0.7" fill="#602020"/><rect x="296.6" y="35.6" width="0.7" height="0.7" fill="#8a2020"/><rect x="296.2" y="56.4" width="0.7" height="0.7" fill="#200808"/><rect x="294.3" y="45.2" width="0.7" height="0.7" fill="#c05050"/><rect x="285.5" y="40.4" width="0.7" height="0.7" fill="#b02020"/><rect x="293.6" y="35.2" width="0.7" height="0.7" fill="#8a2020"/><rect x="295.3" y="51.9" width="0.7" height="0.7" fill="#301010"/><rect x="291.2" y="66.0" width="0.7" height="0.7" fill="#602020"/><rect x="289.3" y="64.5" width="0.7" height="0.7" fill="#301010"/><rect x="282.0" y="60.3" width="0.7" height="0.7" fill="#301010"/><rect x="294.6" y="53.2" width="0.7" height="0.7" fill="#602020"/><rect x="288.9" y="64.8" width="0.7" height="0.7" fill="#a05050"/><rect x="296.7" y="63.2" width="0.7" height="0.7" fill="#301010"/><rect x="294.6" y="38.7" width="0.7" height="0.7" fill="#c05050"/><rect x="289.2" y="55.3" width="0.7" height="0.7" fill="#301010"/><rect x="295.8" y="44.5" width="0.7" height="0.7" fill="#b02020"/><rect x="291.5" y="38.2" width="0.7" height="0.7" fill="#502020"/><rect x="284.4" y="42.6" width="0.7" height="0.7" fill="#c05050"/><rect x="288.5" y="64.5" width="0.7" height="0.7" fill="#a05050"/><rect x="282.4" y="57.6" width="0.7" height="0.7" fill="#602020"/><rect x="286.4" y="57.6" width="0.7" height="0.7" fill="#200808"/><rect x="295.4" y="48.2" width="0.7" height="0.7" fill="#b02020"/><rect x="291.5" y="46.9" width="0.7" height="0.7" fill="#c05050"/><rect x="301.1" y="53.4" width="0.7" height="0.7" fill="#301010"/><rect x="291.6" y="38.6" width="0.7" height="0.7" fill="#b02020"/><rect x="295.2" y="45.0" width="0.7" height="0.7" fill="#8a2020"/><rect x="294.4" y="56.6" width="0.7" height="0.7" fill="#a05050"/><rect x="295.3" y="43.9" width="0.7" height="0.7" fill="#502020"/><rect x="280.8" y="59.8" width="0.7" height="0.7" fill="#200808"/><rect x="298.1" y="46.0" width="0.7" height="0.7" fill="#8a2020"/><rect x="293.4" y="52.6" width="0.7" height="0.7" fill="#a05050"/><rect x="296.7" y="60.5" width="0.7" height="0.7" fill="#a05050"/><rect x="283.8" y="39.9" width="0.7" height="0.7" fill="#8a2020"/><rect x="294.8" y="42.5" width="0.7" height="0.7" fill="#502020"/><rect x="302.6" y="63.9" width="0.7" height="0.7" fill="#a05050"/><rect x="285.5" y="61.1" width="0.7" height="0.7" fill="#301010"/>
<ellipse cx="280" cy="44" rx="13" ry="9" fill="#c41212" filter="url(#rough)"/>
<ellipse cx="279" cy="45" rx="9" ry="5" fill="#a80e0e" filter="url(#b1)"/>
<ellipse cx="280.5" cy="59" rx="14.5" ry="12" fill="#0c0303" filter="url(#rough)"/>
<rect x="270.8" y="50" width="14" height="18" fill="#0c0303"/>
<rect x="273.8" y="49.2" width="0.7" height="0.7" fill="#801010"/><rect x="274.8" y="41.6" width="0.7" height="0.7" fill="#c01818"/><rect x="275.8" y="40.2" width="0.7" height="0.7" fill="#a01010"/><rect x="273.9" y="48.0" width="0.7" height="0.7" fill="#d03030"/><rect x="271.2" y="48.8" width="0.7" height="0.7" fill="#d03030"/><rect x="288.9" y="46.6" width="0.7" height="0.7" fill="#d03030"/><rect x="276.5" y="47.5" width="0.7" height="0.7" fill="#d03030"/><rect x="272.4" y="48.4" width="0.7" height="0.7" fill="#801010"/><rect x="282.2" y="44.3" width="0.7" height="0.7" fill="#d03030"/><rect x="279.2" y="38.8" width="0.7" height="0.7" fill="#c01818"/><rect x="281.6" y="45.1" width="0.7" height="0.7" fill="#801010"/><rect x="280.1" y="48.9" width="0.7" height="0.7" fill="#801010"/><rect x="272.4" y="48.4" width="0.7" height="0.7" fill="#d03030"/><rect x="295.5" y="42.4" width="0.7" height="0.7" fill="#c01818"/><rect x="283.2" y="44.6" width="0.7" height="0.7" fill="#d03030"/><rect x="272.0" y="48.4" width="0.7" height="0.7" fill="#a01010"/><rect x="280.6" y="41.4" width="0.7" height="0.7" fill="#c01818"/><rect x="276.3" y="45.0" width="0.7" height="0.7" fill="#d03030"/><rect x="282.6" y="47.5" width="0.7" height="0.7" fill="#a01010"/><rect x="277.7" y="42.6" width="0.7" height="0.7" fill="#d03030"/><rect x="272.6" y="41.1" width="0.7" height="0.7" fill="#801010"/><rect x="272.3" y="39.1" width="0.7" height="0.7" fill="#d03030"/><rect x="277.6" y="43.2" width="0.7" height="0.7" fill="#801010"/><rect x="278.9" y="47.3" width="0.7" height="0.7" fill="#d03030"/><rect x="271.8" y="48.8" width="0.7" height="0.7" fill="#801010"/><rect x="284.3" y="43.0" width="0.7" height="0.7" fill="#d03030"/><rect x="278.4" y="42.5" width="0.7" height="0.7" fill="#801010"/><rect x="271.2" y="46.8" width="0.7" height="0.7" fill="#c01818"/><rect x="274.3" y="47.2" width="0.7" height="0.7" fill="#a01010"/><rect x="276.4" y="48.1" width="0.7" height="0.7" fill="#d03030"/><rect x="272.5" y="36.5" width="0.7" height="0.7" fill="#a01010"/><rect x="279.2" y="48.4" width="0.7" height="0.7" fill="#a01010"/><rect x="287.7" y="45.1" width="0.7" height="0.7" fill="#a01010"/><rect x="276.4" y="45.2" width="0.7" height="0.7" fill="#801010"/><rect x="278.7" y="48.1" width="0.7" height="0.7" fill="#c01818"/><rect x="282.4" y="43.3" width="0.7" height="0.7" fill="#c01818"/><rect x="278.0" y="37.0" width="0.7" height="0.7" fill="#d03030"/><rect x="281.8" y="46.6" width="0.7" height="0.7" fill="#801010"/><rect x="278.3" y="46.2" width="0.7" height="0.7" fill="#a01010"/><rect x="272.8" y="49.2" width="0.7" height="0.7" fill="#801010"/><rect x="271.4" y="43.8" width="0.7" height="0.7" fill="#d03030"/><rect x="271.7" y="40.8" width="0.7" height="0.7" fill="#d03030"/><rect x="278.7" y="44.6" width="0.7" height="0.7" fill="#a01010"/><rect x="291.8" y="47.4" width="0.7" height="0.7" fill="#d03030"/><rect x="275.7" y="48.5" width="0.7" height="0.7" fill="#d03030"/><rect x="272.6" y="44.1" width="0.7" height="0.7" fill="#801010"/><rect x="275.7" y="46.1" width="0.7" height="0.7" fill="#d03030"/><rect x="276.0" y="42.0" width="0.7" height="0.7" fill="#801010"/><rect x="271.7" y="47.5" width="0.7" height="0.7" fill="#a01010"/><rect x="279.7" y="41.5" width="0.7" height="0.7" fill="#c01818"/><rect x="274.3" y="37.6" width="0.7" height="0.7" fill="#a01010"/><rect x="275.5" y="48.1" width="0.7" height="0.7" fill="#d03030"/><rect x="277.4" y="39.4" width="0.7" height="0.7" fill="#a01010"/><rect x="272.2" y="49.3" width="0.7" height="0.7" fill="#d03030"/><rect x="279.6" y="41.4" width="0.7" height="0.7" fill="#c01818"/><rect x="271.1" y="42.7" width="0.7" height="0.7" fill="#801010"/><rect x="277.9" y="46.5" width="0.7" height="0.7" fill="#801010"/><rect x="289.5" y="38.1" width="0.7" height="0.7" fill="#c01818"/><rect x="276.2" y="47.3" width="0.7" height="0.7" fill="#c01818"/><rect x="281.4" y="47.7" width="0.7" height="0.7" fill="#a01010"/><rect x="283.4" y="45.2" width="0.7" height="0.7" fill="#c01818"/><rect x="289.2" y="45.6" width="0.7" height="0.7" fill="#c01818"/><rect x="274.3" y="47.3" width="0.7" height="0.7" fill="#801010"/><rect x="281.8" y="48.1" width="0.7" height="0.7" fill="#c01818"/><rect x="276.9" y="41.2" width="0.7" height="0.7" fill="#a01010"/><rect x="278.6" y="43.8" width="0.7" height="0.7" fill="#c01818"/><rect x="287.9" y="47.3" width="0.7" height="0.7" fill="#c01818"/><rect x="274.7" y="46.0" width="0.7" height="0.7" fill="#a01010"/><rect x="271.8" y="44.6" width="0.7" height="0.7" fill="#a01010"/><rect x="278.1" y="48.9" width="0.7" height="0.7" fill="#c01818"/><rect x="271.9" y="47.6" width="0.7" height="0.7" fill="#d03030"/><rect x="271.9" y="44.1" width="0.7" height="0.7" fill="#c01818"/><rect x="277.4" y="43.2" width="0.7" height="0.7" fill="#d03030"/><rect x="280.4" y="33.5" width="0.7" height="0.7" fill="#d03030"/><rect x="277.4" y="46.3" width="0.7" height="0.7" fill="#801010"/><rect x="274.8" y="47.1" width="0.7" height="0.7" fill="#801010"/><rect x="283.0" y="42.1" width="0.7" height="0.7" fill="#c01818"/><rect x="271.7" y="42.3" width="0.7" height="0.7" fill="#d03030"/><rect x="276.0" y="40.3" width="0.7" height="0.7" fill="#a01010"/><rect x="277.1" y="41.5" width="0.7" height="0.7" fill="#c01818"/><rect x="279.7" y="40.6" width="0.7" height="0.7" fill="#c01818"/><rect x="280.6" y="45.1" width="0.7" height="0.7" fill="#801010"/><rect x="278.5" y="47.8" width="0.7" height="0.7" fill="#c01818"/><rect x="283.8" y="48.0" width="0.7" height="0.7" fill="#801010"/><rect x="283.0" y="48.9" width="0.7" height="0.7" fill="#801010"/><rect x="272.2" y="41.0" width="0.7" height="0.7" fill="#801010"/><rect x="273.0" y="47.7" width="0.7" height="0.7" fill="#d03030"/><rect x="281.3" y="43.5" width="0.7" height="0.7" fill="#d03030"/><rect x="285.5" y="44.7" width="0.7" height="0.7" fill="#a01010"/><rect x="284.6" y="44.7" width="0.7" height="0.7" fill="#d03030"/><rect x="279.6" y="45.7" width="0.7" height="0.7" fill="#d03030"/><rect x="281.1" y="48.5" width="0.7" height="0.7" fill="#a01010"/><rect x="274.3" y="49.4" width="0.7" height="0.7" fill="#d03030"/><rect x="281.9" y="48.3" width="0.7" height="0.7" fill="#d03030"/><rect x="271.4" y="45.7" width="0.7" height="0.7" fill="#801010"/><rect x="280.6" y="36.3" width="0.7" height="0.7" fill="#c01818"/><rect x="274.7" y="44.3" width="0.7" height="0.7" fill="#801010"/><rect x="274.7" y="47.0" width="0.7" height="0.7" fill="#d03030"/><rect x="277.1" y="45.4" width="0.7" height="0.7" fill="#d03030"/><rect x="274.7" y="48.6" width="0.7" height="0.7" fill="#801010"/><rect x="273.5" y="43.1" width="0.7" height="0.7" fill="#c01818"/><rect x="280.8" y="47.3" width="0.7" height="0.7" fill="#a01010"/><rect x="271.3" y="46.0" width="0.7" height="0.7" fill="#a01010"/><rect x="278.3" y="44.0" width="0.7" height="0.7" fill="#a01010"/><rect x="278.9" y="44.3" width="0.7" height="0.7" fill="#801010"/><rect x="271.2" y="41.8" width="0.7" height="0.7" fill="#c01818"/><rect x="273.8" y="48.5" width="0.7" height="0.7" fill="#a01010"/><rect x="274.9" y="42.3" width="0.7" height="0.7" fill="#d03030"/><rect x="271.2" y="44.7" width="0.7" height="0.7" fill="#801010"/><rect x="281.7" y="44.8" width="0.7" height="0.7" fill="#c01818"/><rect x="273.8" y="43.4" width="0.7" height="0.7" fill="#d03030"/><rect x="277.4" y="45.5" width="0.7" height="0.7" fill="#c01818"/><rect x="272.8" y="43.7" width="0.7" height="0.7" fill="#c01818"/><rect x="272.8" y="44.5" width="0.7" height="0.7" fill="#801010"/><rect x="282.2" y="46.0" width="0.7" height="0.7" fill="#d03030"/><rect x="276.3" y="44.7" width="0.7" height="0.7" fill="#a01010"/><rect x="276.2" y="47.6" width="0.7" height="0.7" fill="#d03030"/><rect x="276.6" y="47.8" width="0.7" height="0.7" fill="#c01818"/><rect x="279.6" y="46.3" width="0.7" height="0.7" fill="#801010"/><rect x="281.4" y="48.3" width="0.7" height="0.7" fill="#c01818"/><rect x="280.0" y="44.6" width="0.7" height="0.7" fill="#801010"/><rect x="273.9" y="43.3" width="0.7" height="0.7" fill="#801010"/><rect x="272.5" y="47.4" width="0.7" height="0.7" fill="#801010"/><rect x="281.8" y="49.0" width="0.7" height="0.7" fill="#c01818"/><rect x="278.1" y="40.8" width="0.7" height="0.7" fill="#801010"/><rect x="290.8" y="45.9" width="0.7" height="0.7" fill="#d03030"/><rect x="285.5" y="46.0" width="0.7" height="0.7" fill="#801010"/><rect x="275.7" y="46.5" width="0.7" height="0.7" fill="#c01818"/><rect x="272.4" y="48.9" width="0.7" height="0.7" fill="#801010"/><rect x="283.8" y="44.1" width="0.7" height="0.7" fill="#801010"/><rect x="283.8" y="46.3" width="0.7" height="0.7" fill="#d03030"/><rect x="274.0" y="49.2" width="0.7" height="0.7" fill="#801010"/><rect x="273.7" y="46.7" width="0.7" height="0.7" fill="#801010"/><rect x="278.4" y="38.3" width="0.7" height="0.7" fill="#a01010"/><rect x="273.5" y="45.9" width="0.7" height="0.7" fill="#c01818"/><rect x="275.4" y="42.5" width="0.7" height="0.7" fill="#d03030"/><rect x="278.6" y="46.3" width="0.7" height="0.7" fill="#d03030"/><rect x="281.1" y="46.9" width="0.7" height="0.7" fill="#801010"/><rect x="274.2" y="44.7" width="0.7" height="0.7" fill="#a01010"/><rect x="281.8" y="41.4" width="0.7" height="0.7" fill="#d03030"/><rect x="272.6" y="46.4" width="0.7" height="0.7" fill="#a01010"/><rect x="279.5" y="48.1" width="0.7" height="0.7" fill="#801010"/><rect x="278.9" y="41.5" width="0.7" height="0.7" fill="#a01010"/><rect x="281.8" y="41.3" width="0.7" height="0.7" fill="#a01010"/><rect x="284.6" y="46.9" width="0.7" height="0.7" fill="#c01818"/><rect x="271.2" y="48.6" width="0.7" height="0.7" fill="#c01818"/><rect x="280.8" y="45.2" width="0.7" height="0.7" fill="#d03030"/><rect x="277.2" y="48.5" width="0.7" height="0.7" fill="#801010"/><rect x="274.7" y="40.3" width="0.7" height="0.7" fill="#801010"/><rect x="283.1" y="44.0" width="0.7" height="0.7" fill="#a01010"/><rect x="273.2" y="48.0" width="0.7" height="0.7" fill="#801010"/><rect x="273.9" y="47.0" width="0.7" height="0.7" fill="#a01010"/><rect x="273.3" y="47.6" width="0.7" height="0.7" fill="#801010"/><rect x="279.6" y="37.1" width="0.7" height="0.7" fill="#a01010"/><rect x="284.5" y="49.3" width="0.7" height="0.7" fill="#d03030"/><rect x="274.6" y="42.4" width="0.7" height="0.7" fill="#a01010"/><rect x="283.3" y="38.8" width="0.7" height="0.7" fill="#a01010"/><rect x="281.0" y="48.7" width="0.7" height="0.7" fill="#a01010"/><rect x="275.7" y="35.0" width="0.7" height="0.7" fill="#801010"/><rect x="273.8" y="38.2" width="0.7" height="0.7" fill="#801010"/><rect x="273.0" y="46.2" width="0.7" height="0.7" fill="#c01818"/><rect x="275.3" y="47.9" width="0.7" height="0.7" fill="#a01010"/><rect x="274.9" y="45.1" width="0.7" height="0.7" fill="#a01010"/><rect x="282.3" y="41.8" width="0.7" height="0.7" fill="#a01010"/><rect x="273.5" y="45.1" width="0.7" height="0.7" fill="#a01010"/><rect x="280.3" y="40.6" width="0.7" height="0.7" fill="#a01010"/><rect x="272.8" y="48.4" width="0.7" height="0.7" fill="#801010"/><rect x="275.2" y="45.3" width="0.7" height="0.7" fill="#c01818"/><rect x="272.6" y="46.2" width="0.7" height="0.7" fill="#a01010"/><rect x="283.3" y="45.5" width="0.7" height="0.7" fill="#c01818"/><rect x="279.1" y="48.1" width="0.7" height="0.7" fill="#a01010"/><rect x="292.3" y="49.1" width="0.7" height="0.7" fill="#c01818"/><rect x="273.1" y="44.0" width="0.7" height="0.7" fill="#801010"/><rect x="286.3" y="40.9" width="0.7" height="0.7" fill="#a01010"/><rect x="288.9" y="48.3" width="0.7" height="0.7" fill="#c01818"/><rect x="274.1" y="42.9" width="0.7" height="0.7" fill="#a01010"/><rect x="277.7" y="47.0" width="0.7" height="0.7" fill="#c01818"/><rect x="279.1" y="48.3" width="0.7" height="0.7" fill="#a01010"/><rect x="272.6" y="47.8" width="0.7" height="0.7" fill="#d03030"/><rect x="277.1" y="43.8" width="0.7" height="0.7" fill="#d03030"/><rect x="271.3" y="45.6" width="0.7" height="0.7" fill="#d03030"/><rect x="276.2" y="40.4" width="0.7" height="0.7" fill="#801010"/><rect x="280.4" y="45.1" width="0.7" height="0.7" fill="#a01010"/><rect x="279.3" y="45.6" width="0.7" height="0.7" fill="#c01818"/><rect x="282.5" y="47.5" width="0.7" height="0.7" fill="#801010"/><rect x="273.9" y="46.9" width="0.7" height="0.7" fill="#d03030"/><rect x="283.9" y="44.9" width="0.7" height="0.7" fill="#a01010"/><rect x="279.4" y="42.6" width="0.7" height="0.7" fill="#c01818"/><rect x="279.5" y="39.4" width="0.7" height="0.7" fill="#801010"/><rect x="273.3" y="45.0" width="0.7" height="0.7" fill="#c01818"/><rect x="274.3" y="47.3" width="0.7" height="0.7" fill="#801010"/><rect x="272.4" y="42.0" width="0.7" height="0.7" fill="#d03030"/><rect x="276.3" y="48.7" width="0.7" height="0.7" fill="#c01818"/><rect x="279.6" y="49.2" width="0.7" height="0.7" fill="#a01010"/><rect x="273.4" y="41.9" width="0.7" height="0.7" fill="#a01010"/><rect x="283.2" y="44.1" width="0.7" height="0.7" fill="#a01010"/><rect x="272.2" y="48.7" width="0.7" height="0.7" fill="#c01818"/><rect x="286.9" y="48.6" width="0.7" height="0.7" fill="#a01010"/><rect x="273.4" y="45.4" width="0.7" height="0.7" fill="#a01010"/><rect x="275.0" y="45.5" width="0.7" height="0.7" fill="#c01818"/><rect x="282.2" y="45.5" width="0.7" height="0.7" fill="#c01818"/><rect x="275.9" y="37.2" width="0.7" height="0.7" fill="#c01818"/><rect x="274.2" y="45.8" width="0.7" height="0.7" fill="#a01010"/><rect x="284.0" y="43.5" width="0.7" height="0.7" fill="#c01818"/><rect x="272.5" y="47.3" width="0.7" height="0.7" fill="#d03030"/><rect x="273.6" y="49.2" width="0.7" height="0.7" fill="#a01010"/><rect x="274.3" y="44.4" width="0.7" height="0.7" fill="#801010"/><rect x="275.8" y="47.3" width="0.7" height="0.7" fill="#d03030"/><rect x="279.6" y="47.1" width="0.7" height="0.7" fill="#801010"/><rect x="286.5" y="47.3" width="0.7" height="0.7" fill="#a01010"/><rect x="272.4" y="40.4" width="0.7" height="0.7" fill="#a01010"/><rect x="275.6" y="39.6" width="0.7" height="0.7" fill="#a01010"/><rect x="273.0" y="45.4" width="0.7" height="0.7" fill="#d03030"/><rect x="271.9" y="47.2" width="0.7" height="0.7" fill="#c01818"/><rect x="273.7" y="42.8" width="0.7" height="0.7" fill="#801010"/><rect x="279.0" y="48.5" width="0.7" height="0.7" fill="#c01818"/><rect x="271.1" y="40.9" width="0.7" height="0.7" fill="#a01010"/><rect x="272.9" y="48.0" width="0.7" height="0.7" fill="#d03030"/><rect x="271.9" y="46.8" width="0.7" height="0.7" fill="#d03030"/><rect x="285.1" y="44.0" width="0.7" height="0.7" fill="#801010"/><rect x="277.9" y="40.6" width="0.7" height="0.7" fill="#a01010"/><rect x="271.8" y="40.2" width="0.7" height="0.7" fill="#d03030"/><rect x="283.3" y="43.8" width="0.7" height="0.7" fill="#a01010"/><rect x="286.4" y="45.0" width="0.7" height="0.7" fill="#d03030"/><rect x="271.1" y="41.3" width="0.7" height="0.7" fill="#c01818"/><rect x="285.3" y="45.1" width="0.7" height="0.7" fill="#d03030"/><rect x="271.1" y="37.8" width="0.7" height="0.7" fill="#a01010"/><rect x="274.2" y="43.1" width="0.7" height="0.7" fill="#a01010"/><rect x="279.5" y="43.9" width="0.7" height="0.7" fill="#c01818"/><rect x="283.3" y="42.8" width="0.7" height="0.7" fill="#d03030"/><rect x="275.2" y="44.0" width="0.7" height="0.7" fill="#c01818"/><rect x="272.8" y="40.5" width="0.7" height="0.7" fill="#d03030"/><rect x="281.1" y="38.3" width="0.7" height="0.7" fill="#801010"/><rect x="271.2" y="48.9" width="0.7" height="0.7" fill="#801010"/><rect x="288.6" y="40.5" width="0.7" height="0.7" fill="#801010"/><rect x="281.7" y="45.4" width="0.7" height="0.7" fill="#801010"/><rect x="277.9" y="43.4" width="0.7" height="0.7" fill="#c01818"/><rect x="281.5" y="40.2" width="0.7" height="0.7" fill="#c01818"/><rect x="272.0" y="46.9" width="0.7" height="0.7" fill="#d03030"/><rect x="278.3" y="37.8" width="0.7" height="0.7" fill="#801010"/><rect x="279.7" y="40.2" width="0.7" height="0.7" fill="#c01818"/><rect x="273.7" y="41.2" width="0.7" height="0.7" fill="#801010"/><rect x="273.5" y="46.0" width="0.7" height="0.7" fill="#d03030"/><rect x="273.6" y="46.4" width="0.7" height="0.7" fill="#a01010"/><rect x="274.1" y="37.0" width="0.7" height="0.7" fill="#801010"/><rect x="273.8" y="44.5" width="0.7" height="0.7" fill="#a01010"/><rect x="285.7" y="37.1" width="0.7" height="0.7" fill="#801010"/><rect x="271.2" y="49.4" width="0.7" height="0.7" fill="#a01010"/><rect x="276.4" y="46.7" width="0.7" height="0.7" fill="#d03030"/><rect x="272.1" y="40.4" width="0.7" height="0.7" fill="#801010"/><rect x="281.0" y="41.9" width="0.7" height="0.7" fill="#d03030"/><rect x="272.8" y="47.3" width="0.7" height="0.7" fill="#d03030"/><rect x="292.3" y="44.2" width="0.7" height="0.7" fill="#d03030"/><rect x="275.8" y="40.5" width="0.7" height="0.7" fill="#801010"/><rect x="286.1" y="45.2" width="0.7" height="0.7" fill="#c01818"/><rect x="279.8" y="45.5" width="0.7" height="0.7" fill="#d03030"/><rect x="271.6" y="48.3" width="0.7" height="0.7" fill="#c01818"/><rect x="280.2" y="47.1" width="0.7" height="0.7" fill="#a01010"/><rect x="273.0" y="39.5" width="0.7" height="0.7" fill="#c01818"/><rect x="280.8" y="47.2" width="0.7" height="0.7" fill="#c01818"/><rect x="289.1" y="45.7" width="0.7" height="0.7" fill="#a01010"/><rect x="278.7" y="37.0" width="0.7" height="0.7" fill="#c01818"/><rect x="276.6" y="49.3" width="0.7" height="0.7" fill="#d03030"/><rect x="275.7" y="46.2" width="0.7" height="0.7" fill="#c01818"/><rect x="292.9" y="41.5" width="0.7" height="0.7" fill="#c01818"/><rect x="275.6" y="40.9" width="0.7" height="0.7" fill="#801010"/><rect x="295.4" y="48.7" width="0.7" height="0.7" fill="#d03030"/><rect x="273.6" y="44.9" width="0.7" height="0.7" fill="#a01010"/><rect x="276.3" y="43.3" width="0.7" height="0.7" fill="#c01818"/><rect x="273.3" y="44.1" width="0.7" height="0.7" fill="#a01010"/><rect x="276.0" y="39.0" width="0.7" height="0.7" fill="#c01818"/><rect x="278.7" y="41.0" width="0.7" height="0.7" fill="#a01010"/><rect x="279.2" y="37.5" width="0.7" height="0.7" fill="#d03030"/><rect x="286.3" y="47.5" width="0.7" height="0.7" fill="#d03030"/><rect x="276.6" y="48.5" width="0.7" height="0.7" fill="#d03030"/><rect x="278.9" y="45.1" width="0.7" height="0.7" fill="#d03030"/><rect x="279.2" y="46.7" width="0.7" height="0.7" fill="#d03030"/><rect x="276.1" y="45.4" width="0.7" height="0.7" fill="#801010"/><rect x="271.6" y="45.4" width="0.7" height="0.7" fill="#801010"/><rect x="280.2" y="49.4" width="0.7" height="0.7" fill="#a01010"/><rect x="272.4" y="44.3" width="0.7" height="0.7" fill="#a01010"/><rect x="273.0" y="42.1" width="0.7" height="0.7" fill="#801010"/><rect x="271.1" y="44.6" width="0.7" height="0.7" fill="#d03030"/><rect x="272.8" y="43.5" width="0.7" height="0.7" fill="#d03030"/><rect x="273.7" y="46.9" width="0.7" height="0.7" fill="#801010"/><rect x="271.3" y="47.7" width="0.7" height="0.7" fill="#d03030"/><rect x="283.9" y="38.1" width="0.7" height="0.7" fill="#d03030"/><rect x="289.6" y="47.9" width="0.7" height="0.7" fill="#c01818"/><rect x="271.3" y="40.4" width="0.7" height="0.7" fill="#801010"/><rect x="278.2" y="41.2" width="0.7" height="0.7" fill="#d03030"/><rect x="273.8" y="46.2" width="0.7" height="0.7" fill="#c01818"/><rect x="272.4" y="43.5" width="0.7" height="0.7" fill="#d03030"/><rect x="279.6" y="45.2" width="0.7" height="0.7" fill="#d03030"/><rect x="274.4" y="46.3" width="0.7" height="0.7" fill="#a01010"/><rect x="281.7" y="48.0" width="0.7" height="0.7" fill="#d03030"/><rect x="276.5" y="45.3" width="0.7" height="0.7" fill="#c01818"/><rect x="274.0" y="48.4" width="0.7" height="0.7" fill="#c01818"/><rect x="279.0" y="42.3" width="0.7" height="0.7" fill="#801010"/><rect x="280.7" y="44.9" width="0.7" height="0.7" fill="#d03030"/><rect x="274.0" y="40.6" width="0.7" height="0.7" fill="#a01010"/>
</g>
<rect x="270.8" y="2.8" width="65.9" height="64.8" fill="none" stroke="#555" stroke-width="0.9"/>
<rect x="270.8" y="49.5" width="65" height="18" fill="none" stroke="#000" stroke-width="1.3"/>
<line x1="335.80" y1="58.20" x2="348.00" y2="58.20" stroke="#000" stroke-width="1.1"/>
<path d="M347.2,55.6 L352,58.2 L347.2,60.8 Z" fill="#000"/>
<text transform="translate(268.4,12.7) rotate(-90)" font-size="6.5" font-weight="bold" text-anchor="middle">CD31</text>
<text x="327.50" y="75.80" font-size="6.3" text-anchor="middle" font-weight="bold" fill="#000" >Sca1</text>
<g clip-path="url(#c5)">
<rect x="361.8" y="42.0" width="0.7" height="0.7" fill="#c09090"/><rect x="383.1" y="40.9" width="0.7" height="0.7" fill="#5a1515"/><rect x="382.5" y="41.8" width="0.7" height="0.7" fill="#3a0a0a"/><rect x="377.8" y="40.6" width="0.7" height="0.7" fill="#802020"/><rect x="365.3" y="43.0" width="0.7" height="0.7" fill="#1a0505"/><rect x="367.8" y="41.3" width="0.7" height="0.7" fill="#3a0a0a"/><rect x="363.7" y="39.4" width="0.7" height="0.7" fill="#5a1515"/><rect x="374.3" y="42.0" width="0.7" height="0.7" fill="#802020"/><rect x="381.1" y="42.8" width="0.7" height="0.7" fill="#3a0a0a"/><rect x="372.6" y="41.8" width="0.7" height="0.7" fill="#2a0808"/><rect x="365.5" y="40.0" width="0.7" height="0.7" fill="#2a0808"/><rect x="358.3" y="44.4" width="0.7" height="0.7" fill="#1a0505"/><rect x="384.7" y="45.1" width="0.7" height="0.7" fill="#802020"/><rect x="369.2" y="41.9" width="0.7" height="0.7" fill="#c09090"/><rect x="359.1" y="42.5" width="0.7" height="0.7" fill="#5a1515"/><rect x="373.9" y="40.8" width="0.7" height="0.7" fill="#c09090"/><rect x="382.6" y="43.4" width="0.7" height="0.7" fill="#2a0808"/><rect x="365.6" y="42.2" width="0.7" height="0.7" fill="#802020"/><rect x="358.0" y="44.2" width="0.7" height="0.7" fill="#2a0808"/><rect x="373.5" y="38.5" width="0.7" height="0.7" fill="#c09090"/><rect x="378.8" y="38.2" width="0.7" height="0.7" fill="#1a0505"/><rect x="367.6" y="41.3" width="0.7" height="0.7" fill="#802020"/><rect x="365.0" y="42.5" width="0.7" height="0.7" fill="#c09090"/><rect x="366.2" y="38.5" width="0.7" height="0.7" fill="#1a0505"/><rect x="380.4" y="42.9" width="0.7" height="0.7" fill="#5a1515"/><rect x="371.4" y="42.7" width="0.7" height="0.7" fill="#3a0a0a"/><rect x="371.1" y="42.4" width="0.7" height="0.7" fill="#802020"/><rect x="368.6" y="41.8" width="0.7" height="0.7" fill="#2a0808"/><rect x="377.7" y="36.7" width="0.7" height="0.7" fill="#5a1515"/><rect x="362.1" y="41.5" width="0.7" height="0.7" fill="#2a0808"/><rect x="357.9" y="44.3" width="0.7" height="0.7" fill="#1a0505"/><rect x="370.7" y="31.1" width="0.7" height="0.7" fill="#1a0505"/><rect x="382.0" y="42.7" width="0.7" height="0.7" fill="#2a0808"/><rect x="357.7" y="42.3" width="0.7" height="0.7" fill="#1a0505"/><rect x="360.3" y="39.9" width="0.7" height="0.7" fill="#5a1515"/><rect x="379.2" y="39.5" width="0.7" height="0.7" fill="#5a1515"/><rect x="362.3" y="40.9" width="0.7" height="0.7" fill="#5a1515"/><rect x="377.2" y="39.2" width="0.7" height="0.7" fill="#5a1515"/><rect x="374.6" y="41.4" width="0.7" height="0.7" fill="#5a1515"/><rect x="373.6" y="42.3" width="0.7" height="0.7" fill="#1a0505"/><rect x="364.4" y="35.9" width="0.7" height="0.7" fill="#2a0808"/><rect x="379.6" y="35.3" width="0.7" height="0.7" fill="#5a1515"/><rect x="365.0" y="43.1" width="0.7" height="0.7" fill="#1a0505"/><rect x="362.8" y="43.4" width="0.7" height="0.7" fill="#802020"/><rect x="366.7" y="36.7" width="0.7" height="0.7" fill="#c09090"/><rect x="359.6" y="35.1" width="0.7" height="0.7" fill="#802020"/><rect x="375.2" y="39.3" width="0.7" height="0.7" fill="#802020"/><rect x="375.0" y="40.6" width="0.7" height="0.7" fill="#802020"/><rect x="378.7" y="38.9" width="0.7" height="0.7" fill="#1a0505"/><rect x="377.7" y="42.8" width="0.7" height="0.7" fill="#1a0505"/><rect x="375.0" y="40.5" width="0.7" height="0.7" fill="#2a0808"/><rect x="381.7" y="42.8" width="0.7" height="0.7" fill="#3a0a0a"/><rect x="365.3" y="42.6" width="0.7" height="0.7" fill="#3a0a0a"/><rect x="379.4" y="40.1" width="0.7" height="0.7" fill="#802020"/><rect x="363.6" y="38.0" width="0.7" height="0.7" fill="#2a0808"/><rect x="383.6" y="40.0" width="0.7" height="0.7" fill="#1a0505"/><rect x="381.4" y="44.2" width="0.7" height="0.7" fill="#5a1515"/><rect x="380.3" y="43.4" width="0.7" height="0.7" fill="#3a0a0a"/><rect x="370.1" y="42.5" width="0.7" height="0.7" fill="#3a0a0a"/><rect x="368.4" y="41.2" width="0.7" height="0.7" fill="#5a1515"/><rect x="379.2" y="39.5" width="0.7" height="0.7" fill="#2a0808"/><rect x="357.9" y="37.9" width="0.7" height="0.7" fill="#802020"/><rect x="382.8" y="42.6" width="0.7" height="0.7" fill="#3a0a0a"/><rect x="380.1" y="42.9" width="0.7" height="0.7" fill="#3a0a0a"/><rect x="369.6" y="42.5" width="0.7" height="0.7" fill="#2a0808"/><rect x="372.6" y="42.2" width="0.7" height="0.7" fill="#5a1515"/><rect x="384.0" y="40.6" width="0.7" height="0.7" fill="#2a0808"/><rect x="365.7" y="42.8" width="0.7" height="0.7" fill="#3a0a0a"/><rect x="369.8" y="38.4" width="0.7" height="0.7" fill="#2a0808"/><rect x="377.2" y="39.2" width="0.7" height="0.7" fill="#2a0808"/><rect x="367.2" y="42.1" width="0.7" height="0.7" fill="#802020"/><rect x="385.0" y="45.1" width="0.7" height="0.7" fill="#1a0505"/><rect x="374.5" y="42.4" width="0.7" height="0.7" fill="#1a0505"/><rect x="359.6" y="42.5" width="0.7" height="0.7" fill="#5a1515"/><rect x="376.0" y="38.0" width="0.7" height="0.7" fill="#1a0505"/><rect x="364.8" y="43.1" width="0.7" height="0.7" fill="#2a0808"/><rect x="370.2" y="42.9" width="0.7" height="0.7" fill="#2a0808"/><rect x="358.4" y="43.8" width="0.7" height="0.7" fill="#2a0808"/><rect x="380.4" y="39.2" width="0.7" height="0.7" fill="#c09090"/><rect x="362.0" y="42.1" width="0.7" height="0.7" fill="#3a0a0a"/><rect x="362.6" y="43.1" width="0.7" height="0.7" fill="#1a0505"/><rect x="373.7" y="42.2" width="0.7" height="0.7" fill="#1a0505"/><rect x="365.1" y="37.9" width="0.7" height="0.7" fill="#2a0808"/><rect x="361.4" y="41.5" width="0.7" height="0.7" fill="#3a0a0a"/><rect x="362.2" y="41.2" width="0.7" height="0.7" fill="#5a1515"/><rect x="384.1" y="35.6" width="0.7" height="0.7" fill="#c09090"/><rect x="379.2" y="42.6" width="0.7" height="0.7" fill="#1a0505"/><rect x="358.9" y="43.2" width="0.7" height="0.7" fill="#2a0808"/><rect x="365.5" y="40.4" width="0.7" height="0.7" fill="#5a1515"/><rect x="360.2" y="43.9" width="0.7" height="0.7" fill="#2a0808"/><rect x="383.4" y="44.0" width="0.7" height="0.7" fill="#5a1515"/><rect x="370.9" y="42.6" width="0.7" height="0.7" fill="#1a0505"/><rect x="372.0" y="41.2" width="0.7" height="0.7" fill="#c09090"/><rect x="384.0" y="44.8" width="0.7" height="0.7" fill="#5a1515"/><rect x="372.5" y="42.9" width="0.7" height="0.7" fill="#1a0505"/><rect x="371.1" y="41.4" width="0.7" height="0.7" fill="#c09090"/><rect x="379.9" y="40.8" width="0.7" height="0.7" fill="#3a0a0a"/><rect x="376.4" y="39.9" width="0.7" height="0.7" fill="#5a1515"/><rect x="371.2" y="42.8" width="0.7" height="0.7" fill="#1a0505"/><rect x="375.8" y="42.9" width="0.7" height="0.7" fill="#2a0808"/><rect x="379.5" y="43.1" width="0.7" height="0.7" fill="#3a0a0a"/><rect x="378.6" y="42.5" width="0.7" height="0.7" fill="#2a0808"/><rect x="377.4" y="40.6" width="0.7" height="0.7" fill="#1a0505"/><rect x="365.6" y="43.1" width="0.7" height="0.7" fill="#3a0a0a"/><rect x="378.8" y="38.4" width="0.7" height="0.7" fill="#1a0505"/><rect x="367.8" y="40.0" width="0.7" height="0.7" fill="#3a0a0a"/><rect x="372.1" y="40.1" width="0.7" height="0.7" fill="#2a0808"/><rect x="363.0" y="42.8" width="0.7" height="0.7" fill="#5a1515"/><rect x="365.2" y="38.6" width="0.7" height="0.7" fill="#1a0505"/><rect x="373.7" y="42.4" width="0.7" height="0.7" fill="#1a0505"/><rect x="361.9" y="42.6" width="0.7" height="0.7" fill="#5a1515"/><rect x="361.4" y="40.8" width="0.7" height="0.7" fill="#5a1515"/><rect x="361.8" y="42.0" width="0.7" height="0.7" fill="#c09090"/><rect x="359.1" y="42.3" width="0.7" height="0.7" fill="#802020"/><rect x="380.9" y="43.7" width="0.7" height="0.7" fill="#2a0808"/><rect x="384.8" y="43.4" width="0.7" height="0.7" fill="#c09090"/><rect x="369.1" y="37.6" width="0.7" height="0.7" fill="#3a0a0a"/><rect x="359.5" y="42.7" width="0.7" height="0.7" fill="#2a0808"/><rect x="369.5" y="38.1" width="0.7" height="0.7" fill="#802020"/><rect x="374.1" y="42.2" width="0.7" height="0.7" fill="#802020"/><rect x="374.2" y="41.4" width="0.7" height="0.7" fill="#1a0505"/><rect x="374.4" y="37.9" width="0.7" height="0.7" fill="#3a0a0a"/><rect x="375.8" y="37.7" width="0.7" height="0.7" fill="#1a0505"/><rect x="375.3" y="39.8" width="0.7" height="0.7" fill="#1a0505"/><rect x="370.2" y="40.7" width="0.7" height="0.7" fill="#c09090"/><rect x="370.8" y="39.3" width="0.7" height="0.7" fill="#c09090"/><rect x="385.4" y="39.6" width="0.7" height="0.7" fill="#2a0808"/><rect x="383.2" y="41.1" width="0.7" height="0.7" fill="#3a0a0a"/><rect x="368.3" y="40.6" width="0.7" height="0.7" fill="#3a0a0a"/><rect x="360.7" y="44.2" width="0.7" height="0.7" fill="#c09090"/><rect x="375.1" y="41.4" width="0.7" height="0.7" fill="#802020"/><rect x="367.6" y="40.8" width="0.7" height="0.7" fill="#2a0808"/><rect x="380.6" y="42.7" width="0.7" height="0.7" fill="#1a0505"/><rect x="384.9" y="41.7" width="0.7" height="0.7" fill="#2a0808"/><rect x="375.6" y="41.4" width="0.7" height="0.7" fill="#3a0a0a"/><rect x="376.0" y="36.8" width="0.7" height="0.7" fill="#5a1515"/><rect x="381.7" y="41.9" width="0.7" height="0.7" fill="#802020"/><rect x="369.2" y="40.6" width="0.7" height="0.7" fill="#1a0505"/><rect x="381.4" y="42.6" width="0.7" height="0.7" fill="#2a0808"/><rect x="358.1" y="44.0" width="0.7" height="0.7" fill="#c09090"/><rect x="385.1" y="44.0" width="0.7" height="0.7" fill="#5a1515"/><rect x="378.8" y="41.8" width="0.7" height="0.7" fill="#1a0505"/><rect x="365.0" y="43.3" width="0.7" height="0.7" fill="#c09090"/><rect x="361.3" y="43.2" width="0.7" height="0.7" fill="#802020"/><rect x="371.5" y="40.7" width="0.7" height="0.7" fill="#2a0808"/><rect x="381.4" y="38.8" width="0.7" height="0.7" fill="#1a0505"/><rect x="364.0" y="42.2" width="0.7" height="0.7" fill="#2a0808"/><rect x="380.1" y="39.5" width="0.7" height="0.7" fill="#2a0808"/><rect x="375.2" y="41.9" width="0.7" height="0.7" fill="#802020"/><rect x="363.6" y="41.0" width="0.7" height="0.7" fill="#3a0a0a"/><rect x="371.8" y="40.7" width="0.7" height="0.7" fill="#1a0505"/><rect x="363.8" y="43.3" width="0.7" height="0.7" fill="#5a1515"/><rect x="375.0" y="41.8" width="0.7" height="0.7" fill="#3a0a0a"/><rect x="361.2" y="43.1" width="0.7" height="0.7" fill="#3a0a0a"/><rect x="381.1" y="42.8" width="0.7" height="0.7" fill="#3a0a0a"/><rect x="372.4" y="36.6" width="0.7" height="0.7" fill="#3a0a0a"/><rect x="360.0" y="41.5" width="0.7" height="0.7" fill="#c09090"/><rect x="382.5" y="43.6" width="0.7" height="0.7" fill="#1a0505"/><rect x="379.9" y="42.9" width="0.7" height="0.7" fill="#3a0a0a"/><rect x="379.6" y="38.7" width="0.7" height="0.7" fill="#5a1515"/><rect x="370.0" y="38.7" width="0.7" height="0.7" fill="#5a1515"/><rect x="384.2" y="43.2" width="0.7" height="0.7" fill="#802020"/><rect x="370.2" y="37.6" width="0.7" height="0.7" fill="#5a1515"/><rect x="360.0" y="41.8" width="0.7" height="0.7" fill="#802020"/><rect x="361.2" y="40.6" width="0.7" height="0.7" fill="#3a0a0a"/><rect x="370.0" y="42.2" width="0.7" height="0.7" fill="#1a0505"/><rect x="377.9" y="43.5" width="0.7" height="0.7" fill="#802020"/><rect x="360.5" y="43.7" width="0.7" height="0.7" fill="#802020"/><rect x="374.7" y="41.6" width="0.7" height="0.7" fill="#3a0a0a"/><rect x="367.8" y="42.1" width="0.7" height="0.7" fill="#802020"/><rect x="360.8" y="44.0" width="0.7" height="0.7" fill="#c09090"/><rect x="371.0" y="38.7" width="0.7" height="0.7" fill="#3a0a0a"/><rect x="379.1" y="42.4" width="0.7" height="0.7" fill="#5a1515"/><rect x="360.5" y="43.2" width="0.7" height="0.7" fill="#2a0808"/><rect x="358.3" y="40.2" width="0.7" height="0.7" fill="#c09090"/><rect x="375.0" y="42.8" width="0.7" height="0.7" fill="#3a0a0a"/><rect x="377.0" y="38.1" width="0.7" height="0.7" fill="#3a0a0a"/><rect x="374.8" y="42.4" width="0.7" height="0.7" fill="#c09090"/><rect x="366.8" y="40.4" width="0.7" height="0.7" fill="#3a0a0a"/><rect x="375.1" y="39.3" width="0.7" height="0.7" fill="#2a0808"/><rect x="357.9" y="43.1" width="0.7" height="0.7" fill="#2a0808"/><rect x="380.8" y="40.2" width="0.7" height="0.7" fill="#2a0808"/><rect x="379.0" y="43.0" width="0.7" height="0.7" fill="#3a0a0a"/><rect x="361.3" y="42.3" width="0.7" height="0.7" fill="#1a0505"/><rect x="367.3" y="40.4" width="0.7" height="0.7" fill="#802020"/><rect x="376.1" y="31.6" width="0.7" height="0.7" fill="#5a1515"/><rect x="384.5" y="42.3" width="0.7" height="0.7" fill="#3a0a0a"/><rect x="367.8" y="42.6" width="0.7" height="0.7" fill="#1a0505"/><rect x="383.2" y="42.3" width="0.7" height="0.7" fill="#1a0505"/><rect x="363.2" y="43.3" width="0.7" height="0.7" fill="#5a1515"/><rect x="384.7" y="43.9" width="0.7" height="0.7" fill="#3a0a0a"/><rect x="378.4" y="40.2" width="0.7" height="0.7" fill="#c09090"/><rect x="373.8" y="40.4" width="0.7" height="0.7" fill="#5a1515"/><rect x="370.2" y="30.4" width="0.7" height="0.7" fill="#2a0808"/><rect x="367.8" y="38.8" width="0.7" height="0.7" fill="#802020"/><rect x="358.5" y="39.9" width="0.7" height="0.7" fill="#2a0808"/><rect x="369.7" y="40.4" width="0.7" height="0.7" fill="#3a0a0a"/><rect x="360.4" y="42.6" width="0.7" height="0.7" fill="#1a0505"/><rect x="363.7" y="37.6" width="0.7" height="0.7" fill="#1a0505"/><rect x="384.0" y="39.6" width="0.7" height="0.7" fill="#3a0a0a"/><rect x="372.2" y="40.0" width="0.7" height="0.7" fill="#2a0808"/><rect x="374.7" y="42.6" width="0.7" height="0.7" fill="#2a0808"/><rect x="362.7" y="41.0" width="0.7" height="0.7" fill="#c09090"/><rect x="367.8" y="41.4" width="0.7" height="0.7" fill="#1a0505"/><rect x="383.2" y="42.3" width="0.7" height="0.7" fill="#5a1515"/><rect x="384.1" y="41.7" width="0.7" height="0.7" fill="#5a1515"/><rect x="380.4" y="40.9" width="0.7" height="0.7" fill="#5a1515"/><rect x="363.7" y="42.0" width="0.7" height="0.7" fill="#1a0505"/><rect x="380.4" y="42.8" width="0.7" height="0.7" fill="#2a0808"/><rect x="372.2" y="42.1" width="0.7" height="0.7" fill="#2a0808"/><rect x="385.3" y="45.2" width="0.7" height="0.7" fill="#2a0808"/><rect x="365.3" y="42.2" width="0.7" height="0.7" fill="#c09090"/><rect x="359.0" y="42.1" width="0.7" height="0.7" fill="#802020"/><rect x="376.8" y="42.4" width="0.7" height="0.7" fill="#2a0808"/><rect x="385.9" y="43.4" width="0.7" height="0.7" fill="#2a0808"/><rect x="382.3" y="40.7" width="0.7" height="0.7" fill="#3a0a0a"/><rect x="362.1" y="43.7" width="0.7" height="0.7" fill="#802020"/><rect x="365.9" y="42.2" width="0.7" height="0.7" fill="#802020"/><rect x="371.4" y="40.2" width="0.7" height="0.7" fill="#2a0808"/><rect x="371.8" y="42.0" width="0.7" height="0.7" fill="#5a1515"/><rect x="385.1" y="43.4" width="0.7" height="0.7" fill="#5a1515"/><rect x="375.9" y="41.9" width="0.7" height="0.7" fill="#802020"/><rect x="357.7" y="42.7" width="0.7" height="0.7" fill="#5a1515"/><rect x="384.6" y="41.8" width="0.7" height="0.7" fill="#1a0505"/><rect x="384.6" y="43.7" width="0.7" height="0.7" fill="#802020"/><rect x="373.8" y="41.1" width="0.7" height="0.7" fill="#2a0808"/><rect x="373.2" y="41.7" width="0.7" height="0.7" fill="#c09090"/><rect x="380.3" y="37.8" width="0.7" height="0.7" fill="#5a1515"/><rect x="365.3" y="42.9" width="0.7" height="0.7" fill="#3a0a0a"/><rect x="375.7" y="43.2" width="0.7" height="0.7" fill="#5a1515"/><rect x="374.9" y="32.2" width="0.7" height="0.7" fill="#802020"/><rect x="357.8" y="43.0" width="0.7" height="0.7" fill="#5a1515"/><rect x="362.1" y="43.8" width="0.7" height="0.7" fill="#2a0808"/><rect x="361.7" y="43.5" width="0.7" height="0.7" fill="#3a0a0a"/><rect x="361.0" y="38.6" width="0.7" height="0.7" fill="#802020"/><rect x="383.8" y="43.9" width="0.7" height="0.7" fill="#c09090"/><rect x="369.9" y="41.5" width="0.7" height="0.7" fill="#1a0505"/><rect x="375.4" y="39.2" width="0.7" height="0.7" fill="#2a0808"/><rect x="385.3" y="44.6" width="0.7" height="0.7" fill="#2a0808"/><rect x="360.7" y="44.1" width="0.7" height="0.7" fill="#802020"/><rect x="367.7" y="41.5" width="0.7" height="0.7" fill="#c09090"/><rect x="366.8" y="42.6" width="0.7" height="0.7" fill="#5a1515"/><rect x="385.3" y="41.4" width="0.7" height="0.7" fill="#2a0808"/><rect x="380.1" y="43.9" width="0.7" height="0.7" fill="#5a1515"/><rect x="372.6" y="42.7" width="0.7" height="0.7" fill="#802020"/><rect x="357.9" y="44.4" width="0.7" height="0.7" fill="#3a0a0a"/><rect x="376.3" y="32.5" width="0.7" height="0.7" fill="#5a1515"/><rect x="362.5" y="43.8" width="0.7" height="0.7" fill="#1a0505"/><rect x="371.8" y="39.4" width="0.7" height="0.7" fill="#3a0a0a"/><rect x="369.3" y="41.1" width="0.7" height="0.7" fill="#5a1515"/><rect x="367.0" y="39.8" width="0.7" height="0.7" fill="#5a1515"/><rect x="362.9" y="43.3" width="0.7" height="0.7" fill="#802020"/><rect x="380.9" y="40.2" width="0.7" height="0.7" fill="#3a0a0a"/><rect x="380.3" y="43.8" width="0.7" height="0.7" fill="#802020"/><rect x="371.4" y="42.1" width="0.7" height="0.7" fill="#c09090"/><rect x="379.1" y="38.0" width="0.7" height="0.7" fill="#802020"/><rect x="369.3" y="42.2" width="0.7" height="0.7" fill="#802020"/><rect x="379.6" y="40.9" width="0.7" height="0.7" fill="#1a0505"/><rect x="374.8" y="38.2" width="0.7" height="0.7" fill="#5a1515"/><rect x="376.0" y="41.2" width="0.7" height="0.7" fill="#3a0a0a"/><rect x="363.6" y="42.5" width="0.7" height="0.7" fill="#c09090"/><rect x="384.4" y="43.4" width="0.7" height="0.7" fill="#802020"/><rect x="377.2" y="42.2" width="0.7" height="0.7" fill="#5a1515"/><rect x="384.8" y="33.9" width="0.7" height="0.7" fill="#3a0a0a"/><rect x="359.0" y="41.5" width="0.7" height="0.7" fill="#5a1515"/><rect x="382.0" y="44.2" width="0.7" height="0.7" fill="#5a1515"/><rect x="371.1" y="38.7" width="0.7" height="0.7" fill="#5a1515"/><rect x="374.6" y="40.5" width="0.7" height="0.7" fill="#3a0a0a"/><rect x="367.3" y="41.6" width="0.7" height="0.7" fill="#1a0505"/><rect x="375.9" y="42.6" width="0.7" height="0.7" fill="#2a0808"/><rect x="362.2" y="41.3" width="0.7" height="0.7" fill="#1a0505"/><rect x="363.8" y="42.4" width="0.7" height="0.7" fill="#1a0505"/><rect x="375.5" y="38.2" width="0.7" height="0.7" fill="#5a1515"/><rect x="380.5" y="43.0" width="0.7" height="0.7" fill="#2a0808"/><rect x="376.1" y="40.1" width="0.7" height="0.7" fill="#802020"/><rect x="377.0" y="43.0" width="0.7" height="0.7" fill="#2a0808"/><rect x="383.6" y="42.5" width="0.7" height="0.7" fill="#1a0505"/><rect x="373.3" y="41.3" width="0.7" height="0.7" fill="#2a0808"/><rect x="367.3" y="41.1" width="0.7" height="0.7" fill="#c09090"/><rect x="371.7" y="41.6" width="0.7" height="0.7" fill="#802020"/><rect x="373.1" y="42.8" width="0.7" height="0.7" fill="#3a0a0a"/><rect x="370.5" y="42.4" width="0.7" height="0.7" fill="#3a0a0a"/><rect x="371.2" y="41.4" width="0.7" height="0.7" fill="#2a0808"/><rect x="367.8" y="42.4" width="0.7" height="0.7" fill="#2a0808"/><rect x="377.7" y="41.2" width="0.7" height="0.7" fill="#802020"/><rect x="372.0" y="41.6" width="0.7" height="0.7" fill="#1a0505"/><rect x="377.0" y="36.2" width="0.7" height="0.7" fill="#1a0505"/><rect x="365.1" y="39.8" width="0.7" height="0.7" fill="#3a0a0a"/><rect x="366.4" y="42.9" width="0.7" height="0.7" fill="#c09090"/><rect x="374.3" y="43.0" width="0.7" height="0.7" fill="#2a0808"/><rect x="385.7" y="44.0" width="0.7" height="0.7" fill="#802020"/><rect x="382.6" y="43.6" width="0.7" height="0.7" fill="#5a1515"/><rect x="369.0" y="42.7" width="0.7" height="0.7" fill="#c09090"/><rect x="360.6" y="43.4" width="0.7" height="0.7" fill="#2a0808"/><rect x="369.7" y="39.5" width="0.7" height="0.7" fill="#802020"/><rect x="376.1" y="42.9" width="0.7" height="0.7" fill="#802020"/><rect x="361.3" y="41.9" width="0.7" height="0.7" fill="#2a0808"/><rect x="361.8" y="42.8" width="0.7" height="0.7" fill="#2a0808"/><rect x="366.3" y="42.2" width="0.7" height="0.7" fill="#1a0505"/><rect x="378.2" y="43.1" width="0.7" height="0.7" fill="#1a0505"/><rect x="364.4" y="42.7" width="0.7" height="0.7" fill="#5a1515"/><rect x="369.7" y="41.3" width="0.7" height="0.7" fill="#1a0505"/><rect x="370.4" y="37.1" width="0.7" height="0.7" fill="#1a0505"/><rect x="364.9" y="43.3" width="0.7" height="0.7" fill="#3a0a0a"/><rect x="376.0" y="41.3" width="0.7" height="0.7" fill="#c09090"/><rect x="364.5" y="42.5" width="0.7" height="0.7" fill="#3a0a0a"/><rect x="384.0" y="42.6" width="0.7" height="0.7" fill="#5a1515"/><rect x="361.0" y="42.3" width="0.7" height="0.7" fill="#2a0808"/><rect x="380.8" y="40.7" width="0.7" height="0.7" fill="#2a0808"/><rect x="372.1" y="41.0" width="0.7" height="0.7" fill="#5a1515"/><rect x="364.9" y="41.6" width="0.7" height="0.7" fill="#5a1515"/><rect x="360.4" y="43.8" width="0.7" height="0.7" fill="#3a0a0a"/><rect x="385.8" y="44.6" width="0.7" height="0.7" fill="#5a1515"/><rect x="369.4" y="41.3" width="0.7" height="0.7" fill="#1a0505"/><rect x="359.5" y="36.9" width="0.7" height="0.7" fill="#802020"/><rect x="376.9" y="41.3" width="0.7" height="0.7" fill="#5a1515"/><rect x="373.5" y="42.2" width="0.7" height="0.7" fill="#c09090"/><rect x="361.1" y="43.9" width="0.7" height="0.7" fill="#1a0505"/><rect x="377.4" y="33.3" width="0.7" height="0.7" fill="#1a0505"/><rect x="380.4" y="40.7" width="0.7" height="0.7" fill="#3a0a0a"/><rect x="367.4" y="42.3" width="0.7" height="0.7" fill="#5a1515"/><rect x="370.0" y="39.1" width="0.7" height="0.7" fill="#2a0808"/><rect x="375.6" y="40.3" width="0.7" height="0.7" fill="#5a1515"/><rect x="360.1" y="40.1" width="0.7" height="0.7" fill="#3a0a0a"/><rect x="359.9" y="43.3" width="0.7" height="0.7" fill="#802020"/><rect x="382.2" y="41.2" width="0.7" height="0.7" fill="#c09090"/><rect x="375.9" y="40.1" width="0.7" height="0.7" fill="#5a1515"/><rect x="378.2" y="42.5" width="0.7" height="0.7" fill="#802020"/><rect x="374.3" y="42.8" width="0.7" height="0.7" fill="#5a1515"/><rect x="369.7" y="41.0" width="0.7" height="0.7" fill="#3a0a0a"/><rect x="365.4" y="42.9" width="0.7" height="0.7" fill="#2a0808"/><rect x="377.6" y="39.5" width="0.7" height="0.7" fill="#802020"/><rect x="365.8" y="40.0" width="0.7" height="0.7" fill="#2a0808"/><rect x="378.3" y="41.3" width="0.7" height="0.7" fill="#5a1515"/><rect x="367.7" y="43.0" width="0.7" height="0.7" fill="#5a1515"/><rect x="376.2" y="39.1" width="0.7" height="0.7" fill="#1a0505"/><rect x="365.3" y="30.8" width="0.7" height="0.7" fill="#3a0a0a"/><rect x="380.4" y="43.1" width="0.7" height="0.7" fill="#1a0505"/><rect x="378.0" y="43.5" width="0.7" height="0.7" fill="#5a1515"/><rect x="358.7" y="43.1" width="0.7" height="0.7" fill="#5a1515"/><rect x="382.2" y="42.0" width="0.7" height="0.7" fill="#c09090"/><rect x="362.7" y="42.8" width="0.7" height="0.7" fill="#2a0808"/><rect x="366.9" y="39.9" width="0.7" height="0.7" fill="#3a0a0a"/><rect x="372.0" y="38.6" width="0.7" height="0.7" fill="#802020"/><rect x="368.8" y="36.2" width="0.7" height="0.7" fill="#1a0505"/><rect x="378.5" y="42.5" width="0.7" height="0.7" fill="#2a0808"/><rect x="376.9" y="33.7" width="0.7" height="0.7" fill="#3a0a0a"/><rect x="360.3" y="43.2" width="0.7" height="0.7" fill="#2a0808"/><rect x="364.2" y="40.6" width="0.7" height="0.7" fill="#3a0a0a"/><rect x="372.2" y="41.3" width="0.7" height="0.7" fill="#5a1515"/><rect x="361.0" y="43.7" width="0.7" height="0.7" fill="#2a0808"/><rect x="360.8" y="42.1" width="0.7" height="0.7" fill="#5a1515"/><rect x="364.4" y="32.6" width="0.7" height="0.7" fill="#3a0a0a"/><rect x="370.9" y="41.7" width="0.7" height="0.7" fill="#1a0505"/><rect x="359.0" y="43.3" width="0.7" height="0.7" fill="#5a1515"/><rect x="373.1" y="41.8" width="0.7" height="0.7" fill="#1a0505"/><rect x="385.4" y="45.3" width="0.7" height="0.7" fill="#c09090"/><rect x="366.4" y="38.9" width="0.7" height="0.7" fill="#1a0505"/><rect x="360.2" y="42.3" width="0.7" height="0.7" fill="#3a0a0a"/><rect x="383.7" y="43.6" width="0.7" height="0.7" fill="#2a0808"/><rect x="360.4" y="43.1" width="0.7" height="0.7" fill="#2a0808"/><rect x="382.5" y="44.4" width="0.7" height="0.7" fill="#802020"/><rect x="373.4" y="42.4" width="0.7" height="0.7" fill="#1a0505"/><rect x="367.9" y="38.8" width="0.7" height="0.7" fill="#2a0808"/><rect x="366.9" y="41.9" width="0.7" height="0.7" fill="#c09090"/><rect x="367.8" y="41.2" width="0.7" height="0.7" fill="#2a0808"/><rect x="376.4" y="40.9" width="0.7" height="0.7" fill="#5a1515"/><rect x="362.2" y="43.1" width="0.7" height="0.7" fill="#1a0505"/><rect x="358.3" y="43.7" width="0.7" height="0.7" fill="#5a1515"/><rect x="373.1" y="36.6" width="0.7" height="0.7" fill="#1a0505"/><rect x="375.9" y="42.6" width="0.7" height="0.7" fill="#802020"/><rect x="379.5" y="42.0" width="0.7" height="0.7" fill="#c09090"/><rect x="365.8" y="39.3" width="0.7" height="0.7" fill="#3a0a0a"/><rect x="366.3" y="42.4" width="0.7" height="0.7" fill="#802020"/><rect x="379.9" y="39.4" width="0.7" height="0.7" fill="#3a0a0a"/><rect x="373.7" y="41.3" width="0.7" height="0.7" fill="#5a1515"/><rect x="373.2" y="42.6" width="0.7" height="0.7" fill="#802020"/><rect x="358.4" y="44.1" width="0.7" height="0.7" fill="#c09090"/><rect x="378.3" y="43.1" width="0.7" height="0.7" fill="#802020"/><rect x="358.2" y="40.0" width="0.7" height="0.7" fill="#1a0505"/><rect x="381.2" y="43.0" width="0.7" height="0.7" fill="#3a0a0a"/><rect x="374.7" y="40.2" width="0.7" height="0.7" fill="#1a0505"/><rect x="358.1" y="44.8" width="0.7" height="0.7" fill="#3a0a0a"/><rect x="383.7" y="44.1" width="0.7" height="0.7" fill="#c09090"/><rect x="385.7" y="41.3" width="0.7" height="0.7" fill="#c09090"/><rect x="380.6" y="42.4" width="0.7" height="0.7" fill="#1a0505"/><rect x="384.5" y="43.6" width="0.7" height="0.7" fill="#c09090"/><rect x="368.4" y="40.5" width="0.7" height="0.7" fill="#5a1515"/><rect x="381.1" y="42.5" width="0.7" height="0.7" fill="#c09090"/><rect x="372.0" y="42.3" width="0.7" height="0.7" fill="#1a0505"/><rect x="363.9" y="42.3" width="0.7" height="0.7" fill="#802020"/><rect x="371.3" y="36.7" width="0.7" height="0.7" fill="#3a0a0a"/><rect x="368.9" y="41.4" width="0.7" height="0.7" fill="#c09090"/><rect x="362.0" y="41.4" width="0.7" height="0.7" fill="#2a0808"/><rect x="370.9" y="38.4" width="0.7" height="0.7" fill="#3a0a0a"/><rect x="373.8" y="42.9" width="0.7" height="0.7" fill="#3a0a0a"/><rect x="375.6" y="40.7" width="0.7" height="0.7" fill="#5a1515"/><rect x="380.5" y="43.8" width="0.7" height="0.7" fill="#2a0808"/><rect x="373.2" y="40.1" width="0.7" height="0.7" fill="#3a0a0a"/><rect x="376.7" y="41.2" width="0.7" height="0.7" fill="#c09090"/><rect x="369.9" y="38.2" width="0.7" height="0.7" fill="#1a0505"/><rect x="361.9" y="43.0" width="0.7" height="0.7" fill="#c09090"/><rect x="366.6" y="41.5" width="0.7" height="0.7" fill="#802020"/><rect x="381.5" y="42.1" width="0.7" height="0.7" fill="#2a0808"/><rect x="370.0" y="30.7" width="0.7" height="0.7" fill="#1a0505"/><rect x="382.9" y="44.6" width="0.7" height="0.7" fill="#5a1515"/><rect x="363.7" y="43.2" width="0.7" height="0.7" fill="#802020"/><rect x="362.4" y="41.7" width="0.7" height="0.7" fill="#1a0505"/><rect x="385.5" y="44.3" width="0.7" height="0.7" fill="#1a0505"/><rect x="359.2" y="42.8" width="0.7" height="0.7" fill="#c09090"/><rect x="363.1" y="43.2" width="0.7" height="0.7" fill="#2a0808"/><rect x="364.6" y="41.6" width="0.7" height="0.7" fill="#3a0a0a"/><rect x="364.4" y="41.6" width="0.7" height="0.7" fill="#c09090"/><rect x="360.8" y="42.4" width="0.7" height="0.7" fill="#5a1515"/><rect x="379.7" y="33.3" width="0.7" height="0.7" fill="#802020"/><rect x="368.7" y="43.0" width="0.7" height="0.7" fill="#802020"/><rect x="378.8" y="42.2" width="0.7" height="0.7" fill="#3a0a0a"/><rect x="362.6" y="40.8" width="0.7" height="0.7" fill="#c09090"/><rect x="369.1" y="41.3" width="0.7" height="0.7" fill="#2a0808"/><rect x="385.9" y="42.8" width="0.7" height="0.7" fill="#3a0a0a"/><rect x="383.1" y="44.4" width="0.7" height="0.7" fill="#2a0808"/><rect x="381.5" y="44.2" width="0.7" height="0.7" fill="#3a0a0a"/><rect x="369.9" y="39.0" width="0.7" height="0.7" fill="#1a0505"/><rect x="376.2" y="35.9" width="0.7" height="0.7" fill="#802020"/><rect x="364.1" y="42.8" width="0.7" height="0.7" fill="#3a0a0a"/><rect x="366.2" y="42.9" width="0.7" height="0.7" fill="#1a0505"/><rect x="360.1" y="39.1" width="0.7" height="0.7" fill="#3a0a0a"/><rect x="377.6" y="36.8" width="0.7" height="0.7" fill="#5a1515"/><rect x="383.0" y="42.6" width="0.7" height="0.7" fill="#1a0505"/><rect x="369.9" y="41.1" width="0.7" height="0.7" fill="#c09090"/><rect x="366.7" y="40.2" width="0.7" height="0.7" fill="#3a0a0a"/><rect x="381.3" y="40.4" width="0.7" height="0.7" fill="#3a0a0a"/><rect x="382.4" y="43.7" width="0.7" height="0.7" fill="#2a0808"/><rect x="374.7" y="40.5" width="0.7" height="0.7" fill="#3a0a0a"/><rect x="383.1" y="44.5" width="0.7" height="0.7" fill="#5a1515"/><rect x="376.4" y="40.0" width="0.7" height="0.7" fill="#c09090"/><rect x="370.0" y="42.9" width="0.7" height="0.7" fill="#802020"/><rect x="377.9" y="36.8" width="0.7" height="0.7" fill="#5a1515"/><rect x="360.0" y="41.4" width="0.7" height="0.7" fill="#802020"/><rect x="363.0" y="43.2" width="0.7" height="0.7" fill="#5a1515"/><rect x="370.1" y="41.1" width="0.7" height="0.7" fill="#1a0505"/><rect x="373.0" y="41.9" width="0.7" height="0.7" fill="#1a0505"/><rect x="382.1" y="43.7" width="0.7" height="0.7" fill="#3a0a0a"/><rect x="376.8" y="42.8" width="0.7" height="0.7" fill="#1a0505"/><rect x="365.5" y="41.5" width="0.7" height="0.7" fill="#1a0505"/><rect x="360.2" y="43.3" width="0.7" height="0.7" fill="#3a0a0a"/><rect x="360.8" y="41.2" width="0.7" height="0.7" fill="#5a1515"/><rect x="383.5" y="44.7" width="0.7" height="0.7" fill="#802020"/><rect x="382.9" y="38.5" width="0.7" height="0.7" fill="#802020"/><rect x="380.3" y="43.7" width="0.7" height="0.7" fill="#2a0808"/><rect x="380.6" y="43.1" width="0.7" height="0.7" fill="#3a0a0a"/><rect x="377.2" y="43.1" width="0.7" height="0.7" fill="#2a0808"/><rect x="377.8" y="40.4" width="0.7" height="0.7" fill="#802020"/><rect x="377.1" y="38.5" width="0.7" height="0.7" fill="#c09090"/><rect x="368.6" y="40.8" width="0.7" height="0.7" fill="#3a0a0a"/><rect x="369.0" y="41.9" width="0.7" height="0.7" fill="#2a0808"/><rect x="368.6" y="41.1" width="0.7" height="0.7" fill="#1a0505"/><rect x="381.4" y="41.9" width="0.7" height="0.7" fill="#802020"/><rect x="384.2" y="42.4" width="0.7" height="0.7" fill="#5a1515"/><rect x="367.0" y="38.6" width="0.7" height="0.7" fill="#c09090"/><rect x="382.9" y="43.4" width="0.7" height="0.7" fill="#802020"/><rect x="372.6" y="40.0" width="0.7" height="0.7" fill="#c09090"/><rect x="372.5" y="41.0" width="0.7" height="0.7" fill="#3a0a0a"/><rect x="366.1" y="40.7" width="0.7" height="0.7" fill="#1a0505"/><rect x="384.6" y="44.7" width="0.7" height="0.7" fill="#1a0505"/><rect x="360.2" y="41.5" width="0.7" height="0.7" fill="#2a0808"/><rect x="358.2" y="41.7" width="0.7" height="0.7" fill="#2a0808"/><rect x="370.3" y="40.6" width="0.7" height="0.7" fill="#802020"/><rect x="385.7" y="44.6" width="0.7" height="0.7" fill="#802020"/><rect x="380.6" y="43.2" width="0.7" height="0.7" fill="#5a1515"/><rect x="361.9" y="42.0" width="0.7" height="0.7" fill="#802020"/><rect x="379.9" y="43.4" width="0.7" height="0.7" fill="#5a1515"/><rect x="383.8" y="43.7" width="0.7" height="0.7" fill="#c09090"/><rect x="368.1" y="40.0" width="0.7" height="0.7" fill="#3a0a0a"/><rect x="376.4" y="39.2" width="0.7" height="0.7" fill="#802020"/><rect x="366.6" y="41.5" width="0.7" height="0.7" fill="#1a0505"/><rect x="364.6" y="41.3" width="0.7" height="0.7" fill="#5a1515"/><rect x="376.5" y="38.3" width="0.7" height="0.7" fill="#5a1515"/><rect x="371.2" y="38.3" width="0.7" height="0.7" fill="#5a1515"/><rect x="359.7" y="43.1" width="0.7" height="0.7" fill="#5a1515"/><rect x="378.7" y="42.6" width="0.7" height="0.7" fill="#1a0505"/><rect x="374.2" y="43.1" width="0.7" height="0.7" fill="#5a1515"/><rect x="369.3" y="39.7" width="0.7" height="0.7" fill="#5a1515"/><rect x="363.3" y="41.8" width="0.7" height="0.7" fill="#1a0505"/><rect x="381.5" y="41.2" width="0.7" height="0.7" fill="#3a0a0a"/><rect x="381.4" y="40.2" width="0.7" height="0.7" fill="#1a0505"/><rect x="384.8" y="43.4" width="0.7" height="0.7" fill="#802020"/><rect x="368.2" y="41.2" width="0.7" height="0.7" fill="#1a0505"/><rect x="371.7" y="32.7" width="0.7" height="0.7" fill="#3a0a0a"/><rect x="358.8" y="43.5" width="0.7" height="0.7" fill="#3a0a0a"/><rect x="376.5" y="40.4" width="0.7" height="0.7" fill="#5a1515"/><rect x="368.3" y="43.0" width="0.7" height="0.7" fill="#802020"/><rect x="359.0" y="44.1" width="0.7" height="0.7" fill="#802020"/><rect x="380.3" y="42.2" width="0.7" height="0.7" fill="#802020"/><rect x="375.6" y="42.0" width="0.7" height="0.7" fill="#802020"/><rect x="358.8" y="44.1" width="0.7" height="0.7" fill="#2a0808"/><rect x="366.6" y="42.6" width="0.7" height="0.7" fill="#2a0808"/><rect x="380.3" y="43.4" width="0.7" height="0.7" fill="#2a0808"/><rect x="378.8" y="42.3" width="0.7" height="0.7" fill="#2a0808"/><rect x="384.7" y="38.1" width="0.7" height="0.7" fill="#c09090"/><rect x="364.5" y="40.9" width="0.7" height="0.7" fill="#2a0808"/><rect x="381.6" y="44.1" width="0.7" height="0.7" fill="#3a0a0a"/><rect x="358.0" y="44.6" width="0.7" height="0.7" fill="#1a0505"/><rect x="368.8" y="40.1" width="0.7" height="0.7" fill="#c09090"/><rect x="359.3" y="43.9" width="0.7" height="0.7" fill="#1a0505"/><rect x="374.0" y="41.8" width="0.7" height="0.7" fill="#802020"/><rect x="378.9" y="38.8" width="0.7" height="0.7" fill="#c09090"/><rect x="361.9" y="43.6" width="0.7" height="0.7" fill="#c09090"/><rect x="359.0" y="43.0" width="0.7" height="0.7" fill="#5a1515"/><rect x="375.6" y="42.2" width="0.7" height="0.7" fill="#c09090"/><rect x="366.8" y="40.3" width="0.7" height="0.7" fill="#2a0808"/><rect x="381.7" y="39.3" width="0.7" height="0.7" fill="#3a0a0a"/><rect x="374.7" y="41.7" width="0.7" height="0.7" fill="#1a0505"/><rect x="376.7" y="40.1" width="0.7" height="0.7" fill="#1a0505"/><rect x="366.2" y="41.5" width="0.7" height="0.7" fill="#802020"/><rect x="362.0" y="42.7" width="0.7" height="0.7" fill="#2a0808"/><rect x="362.1" y="40.1" width="0.7" height="0.7" fill="#1a0505"/><rect x="361.1" y="42.2" width="0.7" height="0.7" fill="#5a1515"/><rect x="375.3" y="41.3" width="0.7" height="0.7" fill="#5a1515"/><rect x="377.9" y="41.8" width="0.7" height="0.7" fill="#2a0808"/><rect x="382.5" y="42.1" width="0.7" height="0.7" fill="#5a1515"/><rect x="366.8" y="42.1" width="0.7" height="0.7" fill="#c09090"/><rect x="375.7" y="40.7" width="0.7" height="0.7" fill="#c09090"/><rect x="370.3" y="42.7" width="0.7" height="0.7" fill="#c09090"/><rect x="364.8" y="43.4" width="0.7" height="0.7" fill="#2a0808"/><rect x="372.1" y="41.8" width="0.7" height="0.7" fill="#5a1515"/><rect x="381.3" y="42.0" width="0.7" height="0.7" fill="#1a0505"/><rect x="383.8" y="44.4" width="0.7" height="0.7" fill="#802020"/><rect x="361.2" y="42.0" width="0.7" height="0.7" fill="#c09090"/><rect x="379.6" y="39.5" width="0.7" height="0.7" fill="#802020"/><rect x="361.5" y="40.8" width="0.7" height="0.7" fill="#1a0505"/><rect x="365.3" y="41.6" width="0.7" height="0.7" fill="#2a0808"/><rect x="369.7" y="34.5" width="0.7" height="0.7" fill="#1a0505"/><rect x="360.0" y="43.4" width="0.7" height="0.7" fill="#5a1515"/><rect x="363.3" y="41.1" width="0.7" height="0.7" fill="#5a1515"/><rect x="367.9" y="40.3" width="0.7" height="0.7" fill="#802020"/><rect x="360.8" y="44.2" width="0.7" height="0.7" fill="#802020"/><rect x="369.4" y="38.6" width="0.7" height="0.7" fill="#c09090"/><rect x="374.3" y="40.5" width="0.7" height="0.7" fill="#5a1515"/><rect x="378.3" y="35.7" width="0.7" height="0.7" fill="#1a0505"/><rect x="380.7" y="42.1" width="0.7" height="0.7" fill="#5a1515"/><rect x="379.7" y="43.2" width="0.7" height="0.7" fill="#802020"/><rect x="359.7" y="44.4" width="0.7" height="0.7" fill="#2a0808"/><rect x="383.7" y="43.3" width="0.7" height="0.7" fill="#1a0505"/><rect x="361.5" y="42.8" width="0.7" height="0.7" fill="#3a0a0a"/><rect x="358.5" y="42.4" width="0.7" height="0.7" fill="#3a0a0a"/><rect x="368.1" y="41.1" width="0.7" height="0.7" fill="#5a1515"/><rect x="384.5" y="45.0" width="0.7" height="0.7" fill="#2a0808"/><rect x="374.5" y="41.7" width="0.7" height="0.7" fill="#3a0a0a"/><rect x="376.7" y="41.2" width="0.7" height="0.7" fill="#1a0505"/><rect x="373.3" y="40.4" width="0.7" height="0.7" fill="#5a1515"/><rect x="379.8" y="41.5" width="0.7" height="0.7" fill="#2a0808"/><rect x="373.8" y="42.8" width="0.7" height="0.7" fill="#5a1515"/><rect x="373.8" y="41.3" width="0.7" height="0.7" fill="#c09090"/><rect x="368.3" y="42.7" width="0.7" height="0.7" fill="#802020"/><rect x="377.2" y="43.4" width="0.7" height="0.7" fill="#5a1515"/><rect x="363.4" y="43.0" width="0.7" height="0.7" fill="#1a0505"/><rect x="370.9" y="39.8" width="0.7" height="0.7" fill="#1a0505"/><rect x="377.3" y="42.4" width="0.7" height="0.7" fill="#802020"/><rect x="376.6" y="39.5" width="0.7" height="0.7" fill="#802020"/><rect x="362.7" y="37.4" width="0.7" height="0.7" fill="#3a0a0a"/><rect x="367.4" y="38.9" width="0.7" height="0.7" fill="#2a0808"/><rect x="369.3" y="42.5" width="0.7" height="0.7" fill="#c09090"/><rect x="366.1" y="40.8" width="0.7" height="0.7" fill="#5a1515"/><rect x="384.2" y="44.2" width="0.7" height="0.7" fill="#3a0a0a"/><rect x="376.3" y="39.1" width="0.7" height="0.7" fill="#2a0808"/><rect x="366.9" y="42.5" width="0.7" height="0.7" fill="#c09090"/><rect x="358.2" y="43.4" width="0.7" height="0.7" fill="#1a0505"/><rect x="372.1" y="41.7" width="0.7" height="0.7" fill="#3a0a0a"/><rect x="360.9" y="43.8" width="0.7" height="0.7" fill="#802020"/><rect x="383.8" y="42.5" width="0.7" height="0.7" fill="#1a0505"/><rect x="367.3" y="43.1" width="0.7" height="0.7" fill="#802020"/><rect x="362.7" y="38.1" width="0.7" height="0.7" fill="#1a0505"/><rect x="364.2" y="43.5" width="0.7" height="0.7" fill="#2a0808"/><rect x="377.5" y="43.3" width="0.7" height="0.7" fill="#5a1515"/><rect x="368.1" y="39.9" width="0.7" height="0.7" fill="#2a0808"/><rect x="369.6" y="41.4" width="0.7" height="0.7" fill="#3a0a0a"/><rect x="367.5" y="43.0" width="0.7" height="0.7" fill="#2a0808"/><rect x="384.7" y="43.1" width="0.7" height="0.7" fill="#3a0a0a"/><rect x="363.7" y="41.3" width="0.7" height="0.7" fill="#5a1515"/><rect x="367.1" y="37.9" width="0.7" height="0.7" fill="#c09090"/><rect x="382.9" y="40.8" width="0.7" height="0.7" fill="#1a0505"/><rect x="377.1" y="36.9" width="0.7" height="0.7" fill="#3a0a0a"/><rect x="384.8" y="43.6" width="0.7" height="0.7" fill="#3a0a0a"/><rect x="367.8" y="42.0" width="0.7" height="0.7" fill="#5a1515"/><rect x="380.5" y="43.5" width="0.7" height="0.7" fill="#3a0a0a"/><rect x="366.1" y="42.7" width="0.7" height="0.7" fill="#3a0a0a"/><rect x="376.8" y="43.2" width="0.7" height="0.7" fill="#c09090"/><rect x="384.5" y="44.1" width="0.7" height="0.7" fill="#802020"/><rect x="361.1" y="43.9" width="0.7" height="0.7" fill="#802020"/><rect x="376.3" y="43.2" width="0.7" height="0.7" fill="#802020"/><rect x="358.7" y="39.0" width="0.7" height="0.7" fill="#c09090"/><rect x="378.6" y="43.3" width="0.7" height="0.7" fill="#802020"/><rect x="365.2" y="42.0" width="0.7" height="0.7" fill="#1a0505"/><rect x="369.9" y="42.0" width="0.7" height="0.7" fill="#802020"/><rect x="381.5" y="41.4" width="0.7" height="0.7" fill="#2a0808"/><rect x="371.5" y="41.5" width="0.7" height="0.7" fill="#2a0808"/><rect x="371.9" y="42.9" width="0.7" height="0.7" fill="#1a0505"/><rect x="364.3" y="39.9" width="0.7" height="0.7" fill="#c09090"/><rect x="372.1" y="42.1" width="0.7" height="0.7" fill="#c09090"/><rect x="363.6" y="41.3" width="0.7" height="0.7" fill="#5a1515"/><rect x="362.7" y="43.6" width="0.7" height="0.7" fill="#2a0808"/><rect x="379.1" y="42.5" width="0.7" height="0.7" fill="#802020"/><rect x="370.7" y="39.0" width="0.7" height="0.7" fill="#802020"/><rect x="381.0" y="41.8" width="0.7" height="0.7" fill="#1a0505"/><rect x="360.8" y="37.5" width="0.7" height="0.7" fill="#802020"/><rect x="379.7" y="40.6" width="0.7" height="0.7" fill="#3a0a0a"/><rect x="374.3" y="42.8" width="0.7" height="0.7" fill="#802020"/><rect x="359.0" y="43.0" width="0.7" height="0.7" fill="#802020"/><rect x="367.8" y="39.9" width="0.7" height="0.7" fill="#3a0a0a"/><rect x="366.0" y="41.1" width="0.7" height="0.7" fill="#5a1515"/><rect x="370.3" y="41.2" width="0.7" height="0.7" fill="#2a0808"/><rect x="373.6" y="42.6" width="0.7" height="0.7" fill="#c09090"/><rect x="376.7" y="42.7" width="0.7" height="0.7" fill="#c09090"/><rect x="364.2" y="42.2" width="0.7" height="0.7" fill="#c09090"/><rect x="383.2" y="42.3" width="0.7" height="0.7" fill="#2a0808"/><rect x="380.3" y="40.7" width="0.7" height="0.7" fill="#5a1515"/><rect x="383.6" y="41.0" width="0.7" height="0.7" fill="#2a0808"/><rect x="359.5" y="43.2" width="0.7" height="0.7" fill="#c09090"/><rect x="384.1" y="41.5" width="0.7" height="0.7" fill="#802020"/><rect x="357.7" y="42.5" width="0.7" height="0.7" fill="#c09090"/><rect x="374.2" y="41.5" width="0.7" height="0.7" fill="#3a0a0a"/><rect x="360.1" y="40.6" width="0.7" height="0.7" fill="#1a0505"/><rect x="366.8" y="40.0" width="0.7" height="0.7" fill="#5a1515"/><rect x="384.2" y="43.7" width="0.7" height="0.7" fill="#3a0a0a"/><rect x="373.5" y="40.3" width="0.7" height="0.7" fill="#802020"/><rect x="361.7" y="42.0" width="0.7" height="0.7" fill="#5a1515"/><rect x="379.8" y="43.7" width="0.7" height="0.7" fill="#5a1515"/><rect x="363.6" y="41.0" width="0.7" height="0.7" fill="#c09090"/><rect x="378.2" y="41.4" width="0.7" height="0.7" fill="#3a0a0a"/><rect x="369.0" y="40.5" width="0.7" height="0.7" fill="#c09090"/><rect x="369.6" y="42.6" width="0.7" height="0.7" fill="#802020"/><rect x="367.0" y="41.2" width="0.7" height="0.7" fill="#3a0a0a"/><rect x="386.0" y="38.6" width="0.7" height="0.7" fill="#802020"/><rect x="363.4" y="42.7" width="0.7" height="0.7" fill="#1a0505"/><rect x="376.7" y="41.3" width="0.7" height="0.7" fill="#3a0a0a"/><rect x="360.1" y="42.7" width="0.7" height="0.7" fill="#3a0a0a"/><rect x="381.0" y="42.8" width="0.7" height="0.7" fill="#1a0505"/><rect x="377.4" y="40.7" width="0.7" height="0.7" fill="#2a0808"/><rect x="373.6" y="40.6" width="0.7" height="0.7" fill="#802020"/><rect x="382.2" y="43.4" width="0.7" height="0.7" fill="#5a1515"/><rect x="358.8" y="42.0" width="0.7" height="0.7" fill="#1a0505"/><rect x="368.8" y="42.2" width="0.7" height="0.7" fill="#2a0808"/><rect x="384.6" y="40.8" width="0.7" height="0.7" fill="#3a0a0a"/><rect x="365.5" y="43.2" width="0.7" height="0.7" fill="#802020"/><rect x="368.4" y="42.0" width="0.7" height="0.7" fill="#3a0a0a"/><rect x="384.0" y="45.0" width="0.7" height="0.7" fill="#802020"/><rect x="365.9" y="41.8" width="0.7" height="0.7" fill="#c09090"/><rect x="373.3" y="40.6" width="0.7" height="0.7" fill="#5a1515"/><rect x="383.0" y="44.2" width="0.7" height="0.7" fill="#1a0505"/><rect x="358.0" y="44.4" width="0.7" height="0.7" fill="#2a0808"/><rect x="366.2" y="42.0" width="0.7" height="0.7" fill="#c09090"/><rect x="385.0" y="43.8" width="0.7" height="0.7" fill="#802020"/><rect x="376.3" y="43.3" width="0.7" height="0.7" fill="#2a0808"/><rect x="370.2" y="42.1" width="0.7" height="0.7" fill="#2a0808"/><rect x="369.0" y="41.0" width="0.7" height="0.7" fill="#3a0a0a"/><rect x="374.8" y="39.0" width="0.7" height="0.7" fill="#802020"/><rect x="379.9" y="42.8" width="0.7" height="0.7" fill="#3a0a0a"/><rect x="374.9" y="41.8" width="0.7" height="0.7" fill="#1a0505"/><rect x="360.4" y="42.5" width="0.7" height="0.7" fill="#3a0a0a"/><rect x="366.5" y="40.5" width="0.7" height="0.7" fill="#3a0a0a"/><rect x="376.1" y="39.8" width="0.7" height="0.7" fill="#1a0505"/><rect x="367.2" y="41.8" width="0.7" height="0.7" fill="#c09090"/><rect x="367.6" y="40.3" width="0.7" height="0.7" fill="#3a0a0a"/><rect x="379.2" y="41.5" width="0.7" height="0.7" fill="#c09090"/><rect x="380.3" y="43.2" width="0.7" height="0.7" fill="#2a0808"/><rect x="376.2" y="42.7" width="0.7" height="0.7" fill="#802020"/><rect x="362.6" y="43.5" width="0.7" height="0.7" fill="#2a0808"/><rect x="383.7" y="43.8" width="0.7" height="0.7" fill="#1a0505"/><rect x="384.0" y="44.2" width="0.7" height="0.7" fill="#2a0808"/><rect x="379.0" y="41.5" width="0.7" height="0.7" fill="#802020"/><rect x="382.0" y="43.3" width="0.7" height="0.7" fill="#5a1515"/><rect x="380.6" y="39.1" width="0.7" height="0.7" fill="#802020"/><rect x="378.4" y="43.5" width="0.7" height="0.7" fill="#3a0a0a"/><rect x="369.9" y="40.5" width="0.7" height="0.7" fill="#802020"/><rect x="366.9" y="40.6" width="0.7" height="0.7" fill="#5a1515"/><rect x="373.2" y="42.7" width="0.7" height="0.7" fill="#5a1515"/><rect x="368.1" y="43.0" width="0.7" height="0.7" fill="#1a0505"/><rect x="383.6" y="43.8" width="0.7" height="0.7" fill="#5a1515"/><rect x="376.0" y="43.1" width="0.7" height="0.7" fill="#802020"/><rect x="384.1" y="42.2" width="0.7" height="0.7" fill="#2a0808"/><rect x="381.0" y="42.7" width="0.7" height="0.7" fill="#3a0a0a"/><rect x="377.8" y="37.9" width="0.7" height="0.7" fill="#2a0808"/><rect x="363.8" y="42.1" width="0.7" height="0.7" fill="#3a0a0a"/><rect x="365.7" y="40.6" width="0.7" height="0.7" fill="#5a1515"/><rect x="374.5" y="42.9" width="0.7" height="0.7" fill="#2a0808"/><rect x="370.9" y="35.3" width="0.7" height="0.7" fill="#2a0808"/><rect x="375.6" y="42.8" width="0.7" height="0.7" fill="#5a1515"/><rect x="382.2" y="44.2" width="0.7" height="0.7" fill="#3a0a0a"/><rect x="357.7" y="42.7" width="0.7" height="0.7" fill="#802020"/><rect x="378.9" y="38.7" width="0.7" height="0.7" fill="#3a0a0a"/><rect x="361.6" y="42.3" width="0.7" height="0.7" fill="#1a0505"/><rect x="370.7" y="40.8" width="0.7" height="0.7" fill="#1a0505"/><rect x="368.1" y="42.9" width="0.7" height="0.7" fill="#3a0a0a"/><rect x="364.7" y="37.3" width="0.7" height="0.7" fill="#3a0a0a"/><rect x="359.6" y="43.6" width="0.7" height="0.7" fill="#5a1515"/><rect x="382.5" y="37.4" width="0.7" height="0.7" fill="#c09090"/><rect x="364.8" y="38.6" width="0.7" height="0.7" fill="#2a0808"/><rect x="373.2" y="40.2" width="0.7" height="0.7" fill="#802020"/><rect x="377.4" y="43.0" width="0.7" height="0.7" fill="#1a0505"/><rect x="378.7" y="42.6" width="0.7" height="0.7" fill="#2a0808"/><rect x="383.9" y="40.1" width="0.7" height="0.7" fill="#802020"/><rect x="367.2" y="41.9" width="0.7" height="0.7" fill="#802020"/><rect x="373.4" y="40.4" width="0.7" height="0.7" fill="#1a0505"/><rect x="373.0" y="42.5" width="0.7" height="0.7" fill="#3a0a0a"/><rect x="362.8" y="43.1" width="0.7" height="0.7" fill="#5a1515"/><rect x="363.0" y="41.8" width="0.7" height="0.7" fill="#5a1515"/><rect x="380.5" y="39.7" width="0.7" height="0.7" fill="#c09090"/><rect x="362.5" y="39.5" width="0.7" height="0.7" fill="#1a0505"/><rect x="359.2" y="44.5" width="0.7" height="0.7" fill="#1a0505"/><rect x="385.4" y="45.2" width="0.7" height="0.7" fill="#2a0808"/><rect x="360.3" y="43.4" width="0.7" height="0.7" fill="#5a1515"/><rect x="366.5" y="41.7" width="0.7" height="0.7" fill="#3a0a0a"/><rect x="368.3" y="42.8" width="0.7" height="0.7" fill="#1a0505"/><rect x="370.4" y="41.9" width="0.7" height="0.7" fill="#3a0a0a"/><rect x="381.8" y="43.8" width="0.7" height="0.7" fill="#5a1515"/><rect x="371.0" y="39.1" width="0.7" height="0.7" fill="#2a0808"/><rect x="384.0" y="44.3" width="0.7" height="0.7" fill="#802020"/><rect x="385.9" y="43.5" width="0.7" height="0.7" fill="#2a0808"/><rect x="364.6" y="42.7" width="0.7" height="0.7" fill="#c09090"/><rect x="368.7" y="40.5" width="0.7" height="0.7" fill="#c09090"/><rect x="363.3" y="42.7" width="0.7" height="0.7" fill="#c09090"/><rect x="359.4" y="43.6" width="0.7" height="0.7" fill="#5a1515"/><rect x="357.5" y="42.4" width="0.7" height="0.7" fill="#5a1515"/><rect x="362.9" y="37.7" width="0.7" height="0.7" fill="#3a0a0a"/><rect x="369.3" y="42.4" width="0.7" height="0.7" fill="#802020"/><rect x="363.0" y="42.2" width="0.7" height="0.7" fill="#c09090"/><rect x="384.7" y="44.5" width="0.7" height="0.7" fill="#1a0505"/><rect x="358.5" y="43.8" width="0.7" height="0.7" fill="#5a1515"/><rect x="385.3" y="42.0" width="0.7" height="0.7" fill="#3a0a0a"/><rect x="385.7" y="40.5" width="0.7" height="0.7" fill="#2a0808"/><rect x="374.3" y="40.3" width="0.7" height="0.7" fill="#5a1515"/><rect x="366.4" y="42.6" width="0.7" height="0.7" fill="#3a0a0a"/><rect x="382.9" y="34.0" width="0.7" height="0.7" fill="#5a1515"/><rect x="380.7" y="41.4" width="0.7" height="0.7" fill="#1a0505"/><rect x="380.1" y="43.9" width="0.7" height="0.7" fill="#1a0505"/><rect x="382.5" y="41.0" width="0.7" height="0.7" fill="#2a0808"/><rect x="360.9" y="43.5" width="0.7" height="0.7" fill="#802020"/><rect x="369.3" y="42.4" width="0.7" height="0.7" fill="#c09090"/><rect x="379.6" y="39.2" width="0.7" height="0.7" fill="#c09090"/><rect x="359.8" y="44.5" width="0.7" height="0.7" fill="#1a0505"/><rect x="367.4" y="41.3" width="0.7" height="0.7" fill="#5a1515"/><rect x="363.2" y="43.6" width="0.7" height="0.7" fill="#c09090"/><rect x="363.4" y="43.4" width="0.7" height="0.7" fill="#c09090"/><rect x="364.1" y="41.3" width="0.7" height="0.7" fill="#802020"/><rect x="368.5" y="42.5" width="0.7" height="0.7" fill="#802020"/><rect x="361.0" y="40.3" width="0.7" height="0.7" fill="#2a0808"/><rect x="358.5" y="43.6" width="0.7" height="0.7" fill="#c09090"/><rect x="372.6" y="41.1" width="0.7" height="0.7" fill="#3a0a0a"/><rect x="375.5" y="41.4" width="0.7" height="0.7" fill="#3a0a0a"/><rect x="384.9" y="40.3" width="0.7" height="0.7" fill="#3a0a0a"/><rect x="383.4" y="43.8" width="0.7" height="0.7" fill="#802020"/><rect x="380.0" y="40.4" width="0.7" height="0.7" fill="#2a0808"/><rect x="359.6" y="43.3" width="0.7" height="0.7" fill="#2a0808"/><rect x="381.6" y="43.5" width="0.7" height="0.7" fill="#2a0808"/><rect x="371.3" y="41.7" width="0.7" height="0.7" fill="#3a0a0a"/><rect x="361.3" y="43.9" width="0.7" height="0.7" fill="#3a0a0a"/><rect x="378.5" y="41.4" width="0.7" height="0.7" fill="#2a0808"/><rect x="359.8" y="40.8" width="0.7" height="0.7" fill="#2a0808"/><rect x="361.0" y="43.5" width="0.7" height="0.7" fill="#1a0505"/><rect x="357.6" y="43.8" width="0.7" height="0.7" fill="#5a1515"/><rect x="372.6" y="40.1" width="0.7" height="0.7" fill="#802020"/><rect x="382.1" y="43.6" width="0.7" height="0.7" fill="#3a0a0a"/><rect x="360.8" y="43.7" width="0.7" height="0.7" fill="#c09090"/><rect x="384.1" y="43.0" width="0.7" height="0.7" fill="#1a0505"/><rect x="376.7" y="43.1" width="0.7" height="0.7" fill="#1a0505"/><rect x="369.6" y="41.5" width="0.7" height="0.7" fill="#2a0808"/><rect x="372.5" y="42.7" width="0.7" height="0.7" fill="#2a0808"/><rect x="371.6" y="41.3" width="0.7" height="0.7" fill="#5a1515"/><rect x="367.5" y="42.6" width="0.7" height="0.7" fill="#1a0505"/><rect x="385.4" y="35.7" width="0.7" height="0.7" fill="#802020"/><rect x="379.0" y="41.4" width="0.7" height="0.7" fill="#802020"/><rect x="369.5" y="40.6" width="0.7" height="0.7" fill="#802020"/><rect x="372.9" y="42.5" width="0.7" height="0.7" fill="#c09090"/><rect x="379.4" y="39.8" width="0.7" height="0.7" fill="#c09090"/><rect x="385.2" y="44.4" width="0.7" height="0.7" fill="#802020"/><rect x="368.9" y="40.7" width="0.7" height="0.7" fill="#1a0505"/><rect x="371.4" y="41.5" width="0.7" height="0.7" fill="#3a0a0a"/><rect x="385.7" y="40.9" width="0.7" height="0.7" fill="#5a1515"/><rect x="377.3" y="35.5" width="0.7" height="0.7" fill="#5a1515"/><rect x="362.2" y="42.8" width="0.7" height="0.7" fill="#2a0808"/><rect x="370.0" y="41.1" width="0.7" height="0.7" fill="#3a0a0a"/><rect x="372.6" y="34.4" width="0.7" height="0.7" fill="#c09090"/><rect x="365.5" y="42.5" width="0.7" height="0.7" fill="#5a1515"/><rect x="371.6" y="42.9" width="0.7" height="0.7" fill="#3a0a0a"/><rect x="363.9" y="43.3" width="0.7" height="0.7" fill="#802020"/><rect x="370.0" y="37.1" width="0.7" height="0.7" fill="#2a0808"/><rect x="367.0" y="30.6" width="0.7" height="0.7" fill="#802020"/><rect x="373.6" y="41.3" width="0.7" height="0.7" fill="#5a1515"/><rect x="383.7" y="43.6" width="0.7" height="0.7" fill="#2a0808"/><rect x="363.8" y="43.2" width="0.7" height="0.7" fill="#2a0808"/><rect x="370.9" y="40.0" width="0.7" height="0.7" fill="#c09090"/><rect x="371.9" y="42.3" width="0.7" height="0.7" fill="#1a0505"/><rect x="367.7" y="41.3" width="0.7" height="0.7" fill="#5a1515"/><rect x="368.0" y="39.7" width="0.7" height="0.7" fill="#2a0808"/><rect x="373.9" y="38.5" width="0.7" height="0.7" fill="#5a1515"/><rect x="365.1" y="40.8" width="0.7" height="0.7" fill="#2a0808"/><rect x="372.0" y="42.9" width="0.7" height="0.7" fill="#c09090"/><rect x="384.7" y="44.6" width="0.7" height="0.7" fill="#2a0808"/><rect x="375.9" y="42.8" width="0.7" height="0.7" fill="#c09090"/><rect x="384.7" y="45.0" width="0.7" height="0.7" fill="#3a0a0a"/><rect x="366.3" y="43.0" width="0.7" height="0.7" fill="#c09090"/><rect x="383.8" y="44.0" width="0.7" height="0.7" fill="#3a0a0a"/><rect x="379.7" y="43.8" width="0.7" height="0.7" fill="#2a0808"/><rect x="371.9" y="37.7" width="0.7" height="0.7" fill="#5a1515"/><rect x="366.7" y="42.1" width="0.7" height="0.7" fill="#2a0808"/><rect x="365.5" y="43.0" width="0.7" height="0.7" fill="#1a0505"/><rect x="369.6" y="43.0" width="0.7" height="0.7" fill="#1a0505"/><rect x="364.0" y="42.5" width="0.7" height="0.7" fill="#802020"/><rect x="367.6" y="42.8" width="0.7" height="0.7" fill="#802020"/><rect x="361.1" y="41.2" width="0.7" height="0.7" fill="#1a0505"/><rect x="381.2" y="44.1" width="0.7" height="0.7" fill="#1a0505"/><rect x="367.1" y="42.9" width="0.7" height="0.7" fill="#3a0a0a"/><rect x="382.1" y="41.0" width="0.7" height="0.7" fill="#5a1515"/><rect x="384.8" y="45.1" width="0.7" height="0.7" fill="#1a0505"/><rect x="374.9" y="40.2" width="0.7" height="0.7" fill="#c09090"/><rect x="357.8" y="38.1" width="0.7" height="0.7" fill="#1a0505"/><rect x="360.2" y="44.0" width="0.7" height="0.7" fill="#802020"/><rect x="381.1" y="43.5" width="0.7" height="0.7" fill="#1a0505"/><rect x="360.7" y="42.7" width="0.7" height="0.7" fill="#1a0505"/><rect x="378.6" y="42.7" width="0.7" height="0.7" fill="#5a1515"/><rect x="385.0" y="41.2" width="0.7" height="0.7" fill="#802020"/><rect x="370.4" y="39.3" width="0.7" height="0.7" fill="#802020"/><rect x="375.7" y="41.9" width="0.7" height="0.7" fill="#3a0a0a"/><rect x="374.1" y="41.6" width="0.7" height="0.7" fill="#802020"/><rect x="374.6" y="43.0" width="0.7" height="0.7" fill="#1a0505"/><rect x="365.7" y="43.2" width="0.7" height="0.7" fill="#5a1515"/><rect x="364.3" y="40.4" width="0.7" height="0.7" fill="#3a0a0a"/><rect x="383.2" y="43.0" width="0.7" height="0.7" fill="#1a0505"/><rect x="358.2" y="44.2" width="0.7" height="0.7" fill="#802020"/><rect x="370.1" y="42.4" width="0.7" height="0.7" fill="#5a1515"/><rect x="374.2" y="41.7" width="0.7" height="0.7" fill="#3a0a0a"/><rect x="382.0" y="43.2" width="0.7" height="0.7" fill="#5a1515"/><rect x="370.9" y="39.5" width="0.7" height="0.7" fill="#5a1515"/><rect x="359.0" y="42.3" width="0.7" height="0.7" fill="#c09090"/><rect x="360.0" y="36.0" width="0.7" height="0.7" fill="#2a0808"/><rect x="379.2" y="43.3" width="0.7" height="0.7" fill="#802020"/><rect x="371.8" y="35.5" width="0.7" height="0.7" fill="#802020"/><rect x="361.7" y="41.8" width="0.7" height="0.7" fill="#2a0808"/><rect x="377.6" y="40.3" width="0.7" height="0.7" fill="#c09090"/><rect x="375.9" y="42.9" width="0.7" height="0.7" fill="#3a0a0a"/><rect x="376.7" y="42.4" width="0.7" height="0.7" fill="#3a0a0a"/><rect x="357.7" y="42.1" width="0.7" height="0.7" fill="#1a0505"/><rect x="374.8" y="41.9" width="0.7" height="0.7" fill="#2a0808"/><rect x="383.1" y="43.4" width="0.7" height="0.7" fill="#2a0808"/><rect x="379.4" y="38.5" width="0.7" height="0.7" fill="#c09090"/><rect x="373.0" y="40.3" width="0.7" height="0.7" fill="#2a0808"/><rect x="380.0" y="42.8" width="0.7" height="0.7" fill="#2a0808"/><rect x="371.5" y="41.2" width="0.7" height="0.7" fill="#3a0a0a"/><rect x="383.7" y="41.5" width="0.7" height="0.7" fill="#2a0808"/><rect x="362.0" y="40.2" width="0.7" height="0.7" fill="#1a0505"/><rect x="365.1" y="43.0" width="0.7" height="0.7" fill="#1a0505"/><rect x="360.2" y="39.0" width="0.7" height="0.7" fill="#c09090"/><rect x="384.6" y="37.9" width="0.7" height="0.7" fill="#2a0808"/><rect x="372.4" y="41.4" width="0.7" height="0.7" fill="#1a0505"/><rect x="373.7" y="39.4" width="0.7" height="0.7" fill="#5a1515"/><rect x="361.2" y="40.6" width="0.7" height="0.7" fill="#3a0a0a"/><rect x="385.9" y="44.4" width="0.7" height="0.7" fill="#2a0808"/><rect x="371.4" y="42.9" width="0.7" height="0.7" fill="#3a0a0a"/><rect x="365.9" y="40.5" width="0.7" height="0.7" fill="#2a0808"/><rect x="364.8" y="41.4" width="0.7" height="0.7" fill="#c09090"/><rect x="377.0" y="42.1" width="0.7" height="0.7" fill="#5a1515"/><rect x="359.5" y="42.1" width="0.7" height="0.7" fill="#3a0a0a"/><rect x="381.5" y="41.2" width="0.7" height="0.7" fill="#1a0505"/><rect x="384.2" y="39.5" width="0.7" height="0.7" fill="#1a0505"/><rect x="360.3" y="40.4" width="0.7" height="0.7" fill="#1a0505"/><rect x="384.8" y="45.1" width="0.7" height="0.7" fill="#c09090"/><rect x="359.0" y="42.3" width="0.7" height="0.7" fill="#c09090"/><rect x="359.5" y="41.0" width="0.7" height="0.7" fill="#802020"/><rect x="368.0" y="42.0" width="0.7" height="0.7" fill="#802020"/><rect x="366.8" y="38.7" width="0.7" height="0.7" fill="#1a0505"/><rect x="371.5" y="42.8" width="0.7" height="0.7" fill="#802020"/><rect x="371.0" y="41.3" width="0.7" height="0.7" fill="#802020"/><rect x="372.1" y="42.7" width="0.7" height="0.7" fill="#3a0a0a"/><rect x="381.0" y="42.6" width="0.7" height="0.7" fill="#802020"/><rect x="362.6" y="37.7" width="0.7" height="0.7" fill="#2a0808"/><rect x="365.8" y="42.4" width="0.7" height="0.7" fill="#1a0505"/><rect x="374.0" y="43.1" width="0.7" height="0.7" fill="#c09090"/><rect x="367.9" y="41.5" width="0.7" height="0.7" fill="#802020"/><rect x="365.4" y="42.6" width="0.7" height="0.7" fill="#2a0808"/><rect x="363.4" y="42.6" width="0.7" height="0.7" fill="#5a1515"/><rect x="384.1" y="44.9" width="0.7" height="0.7" fill="#c09090"/><rect x="358.8" y="43.9" width="0.7" height="0.7" fill="#5a1515"/><rect x="369.9" y="41.8" width="0.7" height="0.7" fill="#802020"/><rect x="381.8" y="41.5" width="0.7" height="0.7" fill="#3a0a0a"/><rect x="363.0" y="42.6" width="0.7" height="0.7" fill="#3a0a0a"/><rect x="362.7" y="38.4" width="0.7" height="0.7" fill="#1a0505"/><rect x="365.5" y="41.2" width="0.7" height="0.7" fill="#3a0a0a"/><rect x="365.8" y="40.1" width="0.7" height="0.7" fill="#5a1515"/><rect x="369.5" y="42.1" width="0.7" height="0.7" fill="#3a0a0a"/><rect x="362.7" y="42.3" width="0.7" height="0.7" fill="#c09090"/><rect x="364.2" y="40.1" width="0.7" height="0.7" fill="#2a0808"/><rect x="377.5" y="43.4" width="0.7" height="0.7" fill="#5a1515"/><rect x="369.7" y="38.7" width="0.7" height="0.7" fill="#5a1515"/><rect x="378.6" y="42.0" width="0.7" height="0.7" fill="#1a0505"/><rect x="360.0" y="42.0" width="0.7" height="0.7" fill="#c09090"/><rect x="368.1" y="40.9" width="0.7" height="0.7" fill="#2a0808"/><rect x="359.3" y="42.4" width="0.7" height="0.7" fill="#3a0a0a"/><rect x="384.9" y="40.9" width="0.7" height="0.7" fill="#2a0808"/><rect x="363.0" y="39.3" width="0.7" height="0.7" fill="#3a0a0a"/>
<path d="M358,66.5 L358,52 C358,46 364,42.5 371,42.5 C378,42.5 384,44 385,47 L385,66.5 Z" fill="#140404" filter="url(#rough)"/>
<path d="M384,66 L384,45 C388,44 392,46 393,50 C394,56 393.5,62 392,66 Z" fill="#e00c0c" filter="url(#rough)"/>
<rect x="387.9" y="53.8" width="0.7" height="0.7" fill="#e01010"/><rect x="387.7" y="59.4" width="0.7" height="0.7" fill="#c00808"/><rect x="384.4" y="64.0" width="0.7" height="0.7" fill="#f03030"/><rect x="386.5" y="57.4" width="0.7" height="0.7" fill="#c00808"/><rect x="387.4" y="45.0" width="0.7" height="0.7" fill="#e01010"/><rect x="390.4" y="48.8" width="0.7" height="0.7" fill="#f03030"/><rect x="388.8" y="45.3" width="0.7" height="0.7" fill="#e01010"/><rect x="391.1" y="55.2" width="0.7" height="0.7" fill="#f03030"/><rect x="384.4" y="52.7" width="0.7" height="0.7" fill="#f03030"/><rect x="391.3" y="51.0" width="0.7" height="0.7" fill="#e01010"/><rect x="384.8" y="44.7" width="0.7" height="0.7" fill="#e01010"/><rect x="391.0" y="66.6" width="0.7" height="0.7" fill="#f03030"/><rect x="386.4" y="54.9" width="0.7" height="0.7" fill="#c00808"/><rect x="384.0" y="60.2" width="0.7" height="0.7" fill="#e01010"/><rect x="389.2" y="45.0" width="0.7" height="0.7" fill="#f03030"/><rect x="386.8" y="57.3" width="0.7" height="0.7" fill="#c00808"/><rect x="395.4" y="61.8" width="0.7" height="0.7" fill="#f03030"/><rect x="387.3" y="63.3" width="0.7" height="0.7" fill="#c00808"/><rect x="385.5" y="59.3" width="0.7" height="0.7" fill="#f03030"/><rect x="384.7" y="44.8" width="0.7" height="0.7" fill="#f03030"/><rect x="393.4" y="55.6" width="0.7" height="0.7" fill="#c00808"/><rect x="395.8" y="44.5" width="0.7" height="0.7" fill="#e01010"/><rect x="386.2" y="46.6" width="0.7" height="0.7" fill="#f03030"/><rect x="396.8" y="59.2" width="0.7" height="0.7" fill="#f03030"/><rect x="386.3" y="62.2" width="0.7" height="0.7" fill="#e01010"/><rect x="388.6" y="48.9" width="0.7" height="0.7" fill="#c00808"/><rect x="386.2" y="62.2" width="0.7" height="0.7" fill="#f03030"/><rect x="385.3" y="57.4" width="0.7" height="0.7" fill="#e01010"/><rect x="389.3" y="53.0" width="0.7" height="0.7" fill="#c00808"/><rect x="385.5" y="58.2" width="0.7" height="0.7" fill="#f03030"/><rect x="389.9" y="54.8" width="0.7" height="0.7" fill="#e01010"/><rect x="386.9" y="53.1" width="0.7" height="0.7" fill="#f03030"/><rect x="387.9" y="57.8" width="0.7" height="0.7" fill="#c00808"/><rect x="391.6" y="55.4" width="0.7" height="0.7" fill="#e01010"/><rect x="396.0" y="51.8" width="0.7" height="0.7" fill="#e01010"/><rect x="386.4" y="59.6" width="0.7" height="0.7" fill="#f03030"/><rect x="385.8" y="53.1" width="0.7" height="0.7" fill="#c00808"/><rect x="389.2" y="59.1" width="0.7" height="0.7" fill="#f03030"/><rect x="386.5" y="66.5" width="0.7" height="0.7" fill="#e01010"/><rect x="386.4" y="54.7" width="0.7" height="0.7" fill="#e01010"/><rect x="386.6" y="44.8" width="0.7" height="0.7" fill="#f03030"/><rect x="384.5" y="49.2" width="0.7" height="0.7" fill="#e01010"/><rect x="390.0" y="65.3" width="0.7" height="0.7" fill="#f03030"/><rect x="390.0" y="44.6" width="0.7" height="0.7" fill="#c00808"/><rect x="389.6" y="56.4" width="0.7" height="0.7" fill="#c00808"/><rect x="385.9" y="48.3" width="0.7" height="0.7" fill="#e01010"/><rect x="384.9" y="59.9" width="0.7" height="0.7" fill="#f03030"/><rect x="386.3" y="61.5" width="0.7" height="0.7" fill="#f03030"/><rect x="388.8" y="58.0" width="0.7" height="0.7" fill="#f03030"/><rect x="384.5" y="56.4" width="0.7" height="0.7" fill="#f03030"/><rect x="386.1" y="61.2" width="0.7" height="0.7" fill="#e01010"/><rect x="386.4" y="55.0" width="0.7" height="0.7" fill="#c00808"/><rect x="385.8" y="55.8" width="0.7" height="0.7" fill="#f03030"/><rect x="388.2" y="49.6" width="0.7" height="0.7" fill="#c00808"/><rect x="387.2" y="53.0" width="0.7" height="0.7" fill="#c00808"/><rect x="393.5" y="53.2" width="0.7" height="0.7" fill="#c00808"/><rect x="389.2" y="63.7" width="0.7" height="0.7" fill="#f03030"/><rect x="386.2" y="55.3" width="0.7" height="0.7" fill="#e01010"/><rect x="385.0" y="62.1" width="0.7" height="0.7" fill="#c00808"/><rect x="388.5" y="66.1" width="0.7" height="0.7" fill="#e01010"/><rect x="386.0" y="52.2" width="0.7" height="0.7" fill="#e01010"/><rect x="384.9" y="55.9" width="0.7" height="0.7" fill="#e01010"/><rect x="389.7" y="51.5" width="0.7" height="0.7" fill="#f03030"/><rect x="393.6" y="51.0" width="0.7" height="0.7" fill="#c00808"/><rect x="392.9" y="46.5" width="0.7" height="0.7" fill="#f03030"/><rect x="387.4" y="56.0" width="0.7" height="0.7" fill="#f03030"/><rect x="391.3" y="54.2" width="0.7" height="0.7" fill="#f03030"/><rect x="389.3" y="61.1" width="0.7" height="0.7" fill="#f03030"/><rect x="387.6" y="56.2" width="0.7" height="0.7" fill="#c00808"/><rect x="391.9" y="48.3" width="0.7" height="0.7" fill="#f03030"/><rect x="384.1" y="56.2" width="0.7" height="0.7" fill="#e01010"/><rect x="386.9" y="50.5" width="0.7" height="0.7" fill="#c00808"/><rect x="384.5" y="64.6" width="0.7" height="0.7" fill="#e01010"/><rect x="390.0" y="61.6" width="0.7" height="0.7" fill="#c00808"/><rect x="392.2" y="50.1" width="0.7" height="0.7" fill="#e01010"/><rect x="387.8" y="56.2" width="0.7" height="0.7" fill="#f03030"/><rect x="387.3" y="62.4" width="0.7" height="0.7" fill="#e01010"/><rect x="388.6" y="51.2" width="0.7" height="0.7" fill="#f03030"/><rect x="388.8" y="65.9" width="0.7" height="0.7" fill="#e01010"/><rect x="384.4" y="62.5" width="0.7" height="0.7" fill="#e01010"/><rect x="384.4" y="61.5" width="0.7" height="0.7" fill="#e01010"/><rect x="385.3" y="48.5" width="0.7" height="0.7" fill="#c00808"/><rect x="386.6" y="52.2" width="0.7" height="0.7" fill="#e01010"/><rect x="384.1" y="55.6" width="0.7" height="0.7" fill="#e01010"/><rect x="388.6" y="55.3" width="0.7" height="0.7" fill="#f03030"/><rect x="390.7" y="63.4" width="0.7" height="0.7" fill="#e01010"/><rect x="385.8" y="49.4" width="0.7" height="0.7" fill="#f03030"/><rect x="384.1" y="56.1" width="0.7" height="0.7" fill="#e01010"/><rect x="384.5" y="60.6" width="0.7" height="0.7" fill="#c00808"/><rect x="386.5" y="58.1" width="0.7" height="0.7" fill="#c00808"/><rect x="388.4" y="65.5" width="0.7" height="0.7" fill="#c00808"/><rect x="386.0" y="46.0" width="0.7" height="0.7" fill="#c00808"/><rect x="391.1" y="49.5" width="0.7" height="0.7" fill="#f03030"/><rect x="384.3" y="65.6" width="0.7" height="0.7" fill="#f03030"/><rect x="385.2" y="47.2" width="0.7" height="0.7" fill="#c00808"/><rect x="390.5" y="62.8" width="0.7" height="0.7" fill="#e01010"/><rect x="389.4" y="50.1" width="0.7" height="0.7" fill="#e01010"/><rect x="391.4" y="51.6" width="0.7" height="0.7" fill="#c00808"/><rect x="390.4" y="61.8" width="0.7" height="0.7" fill="#f03030"/><rect x="384.6" y="47.6" width="0.7" height="0.7" fill="#f03030"/><rect x="385.8" y="47.7" width="0.7" height="0.7" fill="#c00808"/><rect x="389.5" y="64.6" width="0.7" height="0.7" fill="#c00808"/><rect x="384.0" y="66.2" width="0.7" height="0.7" fill="#c00808"/><rect x="384.4" y="56.7" width="0.7" height="0.7" fill="#e01010"/><rect x="392.0" y="63.3" width="0.7" height="0.7" fill="#f03030"/><rect x="385.5" y="55.9" width="0.7" height="0.7" fill="#c00808"/><rect x="392.3" y="55.7" width="0.7" height="0.7" fill="#f03030"/><rect x="385.6" y="58.3" width="0.7" height="0.7" fill="#e01010"/><rect x="386.8" y="47.0" width="0.7" height="0.7" fill="#c00808"/><rect x="389.1" y="60.4" width="0.7" height="0.7" fill="#c00808"/><rect x="385.4" y="63.2" width="0.7" height="0.7" fill="#e01010"/><rect x="385.3" y="44.7" width="0.7" height="0.7" fill="#f03030"/><rect x="386.2" y="64.7" width="0.7" height="0.7" fill="#c00808"/><rect x="389.2" y="57.2" width="0.7" height="0.7" fill="#f03030"/><rect x="396.9" y="58.2" width="0.7" height="0.7" fill="#f03030"/><rect x="386.2" y="55.7" width="0.7" height="0.7" fill="#e01010"/><rect x="389.6" y="47.6" width="0.7" height="0.7" fill="#c00808"/><rect x="385.7" y="60.0" width="0.7" height="0.7" fill="#f03030"/><rect x="390.3" y="48.2" width="0.7" height="0.7" fill="#f03030"/><rect x="387.3" y="44.2" width="0.7" height="0.7" fill="#c00808"/><rect x="385.5" y="52.1" width="0.7" height="0.7" fill="#e01010"/><rect x="389.1" y="45.8" width="0.7" height="0.7" fill="#c00808"/><rect x="386.7" y="50.9" width="0.7" height="0.7" fill="#f03030"/><rect x="384.8" y="62.4" width="0.7" height="0.7" fill="#e01010"/><rect x="384.5" y="52.5" width="0.7" height="0.7" fill="#c00808"/><rect x="395.6" y="59.3" width="0.7" height="0.7" fill="#f03030"/><rect x="384.4" y="46.0" width="0.7" height="0.7" fill="#f03030"/><rect x="384.6" y="50.1" width="0.7" height="0.7" fill="#e01010"/><rect x="392.0" y="56.9" width="0.7" height="0.7" fill="#f03030"/><rect x="388.3" y="59.6" width="0.7" height="0.7" fill="#e01010"/><rect x="384.2" y="63.2" width="0.7" height="0.7" fill="#e01010"/><rect x="391.9" y="60.7" width="0.7" height="0.7" fill="#e01010"/><rect x="385.5" y="59.9" width="0.7" height="0.7" fill="#c00808"/><rect x="390.4" y="49.2" width="0.7" height="0.7" fill="#c00808"/><rect x="385.8" y="48.1" width="0.7" height="0.7" fill="#e01010"/><rect x="389.1" y="49.5" width="0.7" height="0.7" fill="#c00808"/><rect x="389.6" y="46.7" width="0.7" height="0.7" fill="#f03030"/><rect x="387.1" y="47.1" width="0.7" height="0.7" fill="#f03030"/><rect x="389.7" y="62.3" width="0.7" height="0.7" fill="#c00808"/><rect x="390.0" y="61.3" width="0.7" height="0.7" fill="#f03030"/><rect x="390.9" y="52.9" width="0.7" height="0.7" fill="#f03030"/><rect x="384.3" y="50.0" width="0.7" height="0.7" fill="#c00808"/><rect x="389.4" y="66.4" width="0.7" height="0.7" fill="#f03030"/><rect x="392.2" y="46.8" width="0.7" height="0.7" fill="#f03030"/><rect x="392.0" y="55.6" width="0.7" height="0.7" fill="#e01010"/><rect x="384.5" y="50.6" width="0.7" height="0.7" fill="#c00808"/><rect x="385.9" y="59.5" width="0.7" height="0.7" fill="#e01010"/><rect x="392.4" y="46.4" width="0.7" height="0.7" fill="#c00808"/><rect x="395.3" y="51.5" width="0.7" height="0.7" fill="#e01010"/><rect x="389.5" y="56.4" width="0.7" height="0.7" fill="#f03030"/><rect x="386.2" y="50.5" width="0.7" height="0.7" fill="#e01010"/><rect x="389.0" y="58.6" width="0.7" height="0.7" fill="#f03030"/><rect x="390.6" y="46.9" width="0.7" height="0.7" fill="#c00808"/><rect x="393.1" y="44.4" width="0.7" height="0.7" fill="#f03030"/><rect x="399.5" y="51.0" width="0.7" height="0.7" fill="#e01010"/><rect x="386.1" y="63.4" width="0.7" height="0.7" fill="#e01010"/><rect x="384.9" y="49.8" width="0.7" height="0.7" fill="#c00808"/><rect x="384.0" y="57.0" width="0.7" height="0.7" fill="#e01010"/><rect x="386.6" y="65.2" width="0.7" height="0.7" fill="#e01010"/><rect x="389.3" y="46.8" width="0.7" height="0.7" fill="#e01010"/><rect x="391.3" y="57.7" width="0.7" height="0.7" fill="#f03030"/><rect x="391.6" y="62.5" width="0.7" height="0.7" fill="#e01010"/><rect x="386.5" y="62.9" width="0.7" height="0.7" fill="#e01010"/><rect x="387.4" y="54.8" width="0.7" height="0.7" fill="#e01010"/><rect x="387.4" y="65.1" width="0.7" height="0.7" fill="#f03030"/><rect x="385.0" y="45.1" width="0.7" height="0.7" fill="#e01010"/><rect x="391.9" y="61.3" width="0.7" height="0.7" fill="#c00808"/><rect x="388.1" y="59.5" width="0.7" height="0.7" fill="#e01010"/><rect x="394.5" y="52.9" width="0.7" height="0.7" fill="#f03030"/><rect x="391.6" y="59.0" width="0.7" height="0.7" fill="#f03030"/><rect x="386.1" y="58.3" width="0.7" height="0.7" fill="#f03030"/><rect x="388.0" y="48.8" width="0.7" height="0.7" fill="#f03030"/><rect x="392.4" y="56.3" width="0.7" height="0.7" fill="#c00808"/><rect x="384.4" y="49.0" width="0.7" height="0.7" fill="#e01010"/><rect x="388.8" y="59.3" width="0.7" height="0.7" fill="#f03030"/><rect x="385.3" y="47.5" width="0.7" height="0.7" fill="#f03030"/><rect x="390.6" y="57.3" width="0.7" height="0.7" fill="#c00808"/><rect x="384.3" y="64.8" width="0.7" height="0.7" fill="#f03030"/><rect x="384.6" y="44.2" width="0.7" height="0.7" fill="#e01010"/><rect x="384.2" y="59.6" width="0.7" height="0.7" fill="#e01010"/><rect x="384.2" y="50.6" width="0.7" height="0.7" fill="#e01010"/><rect x="389.1" y="55.3" width="0.7" height="0.7" fill="#c00808"/><rect x="387.7" y="51.2" width="0.7" height="0.7" fill="#f03030"/><rect x="384.8" y="60.1" width="0.7" height="0.7" fill="#c00808"/><rect x="387.8" y="66.1" width="0.7" height="0.7" fill="#c00808"/><rect x="389.9" y="56.0" width="0.7" height="0.7" fill="#e01010"/><rect x="385.5" y="47.3" width="0.7" height="0.7" fill="#f03030"/><rect x="388.1" y="53.6" width="0.7" height="0.7" fill="#c00808"/><rect x="389.5" y="53.5" width="0.7" height="0.7" fill="#c00808"/><rect x="390.4" y="65.1" width="0.7" height="0.7" fill="#c00808"/><rect x="386.2" y="44.2" width="0.7" height="0.7" fill="#e01010"/><rect x="388.3" y="51.3" width="0.7" height="0.7" fill="#e01010"/><rect x="387.0" y="60.4" width="0.7" height="0.7" fill="#f03030"/><rect x="389.0" y="53.5" width="0.7" height="0.7" fill="#e01010"/><rect x="384.3" y="50.4" width="0.7" height="0.7" fill="#e01010"/><rect x="384.5" y="61.3" width="0.7" height="0.7" fill="#c00808"/><rect x="387.1" y="53.3" width="0.7" height="0.7" fill="#e01010"/><rect x="386.2" y="66.2" width="0.7" height="0.7" fill="#f03030"/><rect x="387.6" y="45.9" width="0.7" height="0.7" fill="#c00808"/><rect x="384.5" y="58.6" width="0.7" height="0.7" fill="#f03030"/>
</g>
<rect x="356.5" y="4.5" width="64.2" height="63.6" fill="none" stroke="#666" stroke-width="0.9"/>
<rect x="384.3" y="11.7" width="36.2" height="31.4" fill="none" stroke="#000" stroke-width="1.3"/>
<rect x="384.3" y="43.1" width="36.2" height="25" fill="none" stroke="#000" stroke-width="1.3"/>
<text x="417.20" y="20.80" font-size="6.8" text-anchor="end" font-weight="bold" fill="#000" >MSC</text>
<text x="417.60" y="52.60" font-size="6.7" text-anchor="end" font-weight="bold" fill="#000" >OBC</text>
<text x="408.70" y="77.10" font-size="6.5" text-anchor="middle" font-weight="bold" fill="#000" >CD51</text>
<text transform="translate(354.4,13) rotate(-90)" font-size="6.3" font-weight="bold" text-anchor="middle">Sca1</text>
<rect x="433.4" y="16.8" width="8.3" height="6.3" fill="#000"/>
<rect x="433.4" y="29.3" width="8.3" height="6.4" fill="#ee0000"/>
<text x="449.00" y="22.20" font-size="6.6" text-anchor="start" font-weight="bold" fill="#000" >WT</text>
<text x="449.00" y="34.70" font-size="6.6" text-anchor="start" font-weight="bold" fill="#000" >NHD13</text>
<text x="-1.00" y="106.40" font-size="11.4" text-anchor="start" font-weight="bold" fill="#000" >B</text>
<text x="61.70" y="106.10" font-size="9" text-anchor="middle" font-weight="normal" fill="#000" class="ttl">BM MSCs</text>
<line x1="24.50" y1="118.70" x2="24.50" y2="183.50" stroke="#666" stroke-width="1.1"/>
<line x1="23.95" y1="183.00" x2="89.40" y2="183.00" stroke="#333" stroke-width="1.05"/>
<line x1="22.50" y1="183.00" x2="24.50" y2="183.00" stroke="#555" stroke-width="0.9"/>
<text x="22.20" y="184.85" font-size="5.1" text-anchor="end" font-weight="normal" fill="#444" class="tk">0.00</text>
<line x1="22.50" y1="161.73" x2="24.50" y2="161.73" stroke="#555" stroke-width="0.9"/>
<text x="22.20" y="163.58" font-size="5.1" text-anchor="end" font-weight="normal" fill="#444" class="tk">0.02</text>
<line x1="22.50" y1="140.47" x2="24.50" y2="140.47" stroke="#555" stroke-width="0.9"/>
<text x="22.20" y="142.32" font-size="5.1" text-anchor="end" font-weight="normal" fill="#444" class="tk">0.04</text>
<line x1="22.50" y1="119.20" x2="24.50" y2="119.20" stroke="#555" stroke-width="0.9"/>
<text x="22.20" y="121.05" font-size="5.1" text-anchor="end" font-weight="normal" fill="#444" class="tk">0.06</text>
<line x1="40.00" y1="183.00" x2="40.00" y2="184.60" stroke="#333" stroke-width="0.8"/>
<line x1="73.10" y1="183.00" x2="73.10" y2="184.60" stroke="#333" stroke-width="0.8"/>
<text x="40.00" y="190.00" font-size="5.4" text-anchor="middle" font-weight="normal" fill="#333" class="gl">WT</text>
<text x="73.10" y="190.00" font-size="5.4" text-anchor="middle" font-weight="normal" fill="#333" class="gl">NHD13</text>
<text transform="translate(8.73,151.40) rotate(-90)" font-size="5.23" text-anchor="middle" fill="#555" class="tk">% of BM cells</text>
<line x1="40.00" y1="179.20" x2="40.00" y2="180.20" stroke="#222" stroke-width="1.0"/>
<line x1="36.00" y1="179.20" x2="44.00" y2="179.20" stroke="#222" stroke-width="1.0"/>
<line x1="36.00" y1="180.20" x2="44.00" y2="180.20" stroke="#222" stroke-width="1.0"/>
<line x1="30.00" y1="179.70" x2="51.50" y2="179.70" stroke="#999" stroke-width="1.0"/>
<line x1="73.15" y1="156.70" x2="73.15" y2="167.80" stroke="#222" stroke-width="1.0"/>
<line x1="67.30" y1="156.70" x2="79.00" y2="156.70" stroke="#222" stroke-width="1.0"/>
<line x1="67.30" y1="167.80" x2="79.00" y2="167.80" stroke="#222" stroke-width="1.0"/>
<line x1="61.90" y1="162.50" x2="83.90" y2="162.50" stroke="#222" stroke-width="1.0"/>
<circle cx="35.00" cy="179.70" r="1.5" fill="#111"/>
<circle cx="38.00" cy="179.70" r="1.5" fill="#111"/>
<circle cx="40.50" cy="179.70" r="1.5" fill="#111"/>
<circle cx="43.00" cy="179.70" r="1.5" fill="#111"/>
<circle cx="46.00" cy="179.70" r="1.5" fill="#111"/>
<rect x="71.80" y="129.40" width="2.60" height="2.60" fill="#b8162e"/>
<rect x="69.70" y="154.70" width="2.60" height="2.60" fill="#b8162e"/>
<rect x="73.30" y="158.00" width="2.60" height="2.60" fill="#b8162e"/>
<rect x="73.80" y="159.20" width="2.60" height="2.60" fill="#b8162e"/>
<rect x="69.50" y="161.70" width="2.60" height="2.60" fill="#b8162e"/>
<rect x="71.80" y="171.20" width="2.60" height="2.60" fill="#b8162e"/>
<rect x="73.70" y="176.70" width="2.60" height="2.60" fill="#b8162e"/>
<rect x="69.70" y="178.10" width="2.60" height="2.60" fill="#b8162e"/>
<circle cx="57.80" cy="120.60" r="1.05" fill="#111"/>
<line x1="49.50" y1="124.30" x2="65.80" y2="124.30" stroke="#333" stroke-width="0.9"/>
<text x="107.60" y="106.40" font-size="11.4" text-anchor="start" font-weight="bold" fill="#000" >C</text>
<text x="163.90" y="105.90" font-size="9" text-anchor="middle" font-weight="normal" fill="#000" class="ttl">BM MSCs</text>
<line x1="128.00" y1="116.90" x2="128.00" y2="183.20" stroke="#666" stroke-width="1.1"/>
<line x1="127.45" y1="182.70" x2="195.00" y2="182.70" stroke="#333" stroke-width="1.05"/>
<line x1="126.00" y1="182.70" x2="128.00" y2="182.70" stroke="#555" stroke-width="0.9"/>
<text x="125.70" y="184.55" font-size="5.3" text-anchor="end" font-weight="normal" fill="#444" class="tk">0.0</text>
<line x1="126.00" y1="169.64" x2="128.00" y2="169.64" stroke="#555" stroke-width="0.9"/>
<text x="125.70" y="171.49" font-size="5.3" text-anchor="end" font-weight="normal" fill="#444" class="tk">0.2</text>
<line x1="126.00" y1="156.58" x2="128.00" y2="156.58" stroke="#555" stroke-width="0.9"/>
<text x="125.70" y="158.43" font-size="5.3" text-anchor="end" font-weight="normal" fill="#444" class="tk">0.4</text>
<line x1="126.00" y1="143.52" x2="128.00" y2="143.52" stroke="#555" stroke-width="0.9"/>
<text x="125.70" y="145.37" font-size="5.3" text-anchor="end" font-weight="normal" fill="#444" class="tk">0.6</text>
<line x1="126.00" y1="130.46" x2="128.00" y2="130.46" stroke="#555" stroke-width="0.9"/>
<text x="125.70" y="132.31" font-size="5.3" text-anchor="end" font-weight="normal" fill="#444" class="tk">0.8</text>
<line x1="126.00" y1="117.40" x2="128.00" y2="117.40" stroke="#555" stroke-width="0.9"/>
<text x="125.70" y="119.25" font-size="5.3" text-anchor="end" font-weight="normal" fill="#444" class="tk">1.0</text>
<line x1="144.60" y1="182.70" x2="144.60" y2="184.30" stroke="#333" stroke-width="0.8"/>
<line x1="177.60" y1="182.70" x2="177.60" y2="184.30" stroke="#333" stroke-width="0.8"/>
<text x="144.60" y="189.70" font-size="5.4" text-anchor="middle" font-weight="normal" fill="#333" class="gl">WT</text>
<text x="177.60" y="189.70" font-size="5.4" text-anchor="middle" font-weight="normal" fill="#333" class="gl">NHD13</text>
<text transform="translate(115.07,151.00) rotate(-90)" font-size="5.37" text-anchor="middle" fill="#555" class="tk">% of Lin-/CD45- cells</text>
<line x1="144.75" y1="171.70" x2="144.75" y2="175.30" stroke="#222" stroke-width="1.0"/>
<line x1="139.50" y1="171.70" x2="150.00" y2="171.70" stroke="#222" stroke-width="1.0"/>
<line x1="139.50" y1="175.30" x2="150.00" y2="175.30" stroke="#222" stroke-width="1.0"/>
<line x1="134.30" y1="173.90" x2="156.10" y2="173.90" stroke="#222" stroke-width="1.0"/>
<line x1="177.65" y1="156.20" x2="177.65" y2="166.50" stroke="#222" stroke-width="1.0"/>
<line x1="172.50" y1="156.20" x2="182.80" y2="156.20" stroke="#222" stroke-width="1.0"/>
<line x1="172.50" y1="166.50" x2="182.80" y2="166.50" stroke="#222" stroke-width="1.0"/>
<line x1="166.40" y1="161.30" x2="188.80" y2="161.30" stroke="#222" stroke-width="1.0"/>
<circle cx="138.40" cy="168.70" r="1.5" fill="#111"/>
<circle cx="142.40" cy="179.10" r="1.5" fill="#111"/>
<circle cx="147.00" cy="178.40" r="1.5" fill="#111"/>
<circle cx="140.60" cy="172.90" r="1.5" fill="#111"/>
<circle cx="144.10" cy="172.50" r="1.5" fill="#111"/>
<circle cx="146.70" cy="172.20" r="1.5" fill="#111"/>
<circle cx="151.00" cy="171.80" r="1.5" fill="#111"/>
<rect x="176.30" y="129.10" width="2.60" height="2.60" fill="#b8162e"/>
<rect x="174.60" y="158.80" width="2.60" height="2.60" fill="#b8162e"/>
<rect x="172.90" y="162.60" width="2.60" height="2.60" fill="#b8162e"/>
<rect x="180.10" y="162.10" width="2.60" height="2.60" fill="#b8162e"/>
<rect x="176.30" y="165.20" width="2.60" height="2.60" fill="#b8162e"/>
<rect x="174.60" y="174.70" width="2.60" height="2.60" fill="#b8162e"/>
<rect x="178.90" y="173.80" width="2.60" height="2.60" fill="#b8162e"/>
<text x="213.50" y="106.40" font-size="11.4" text-anchor="start" font-weight="bold" fill="#000" >D</text>
<text x="269.70" y="106.40" font-size="9" text-anchor="middle" font-weight="normal" fill="#000" class="ttl">CFU-Crystal Violet</text>
<line x1="235.50" y1="116.70" x2="235.50" y2="183.30" stroke="#666" stroke-width="1.1"/>
<line x1="234.95" y1="182.80" x2="301.50" y2="182.80" stroke="#333" stroke-width="1.05"/>
<line x1="233.50" y1="182.80" x2="235.50" y2="182.80" stroke="#555" stroke-width="0.9"/>
<text x="233.20" y="184.65" font-size="5.3" text-anchor="end" font-weight="normal" fill="#444" class="tk">0.0</text>
<line x1="233.50" y1="166.40" x2="235.50" y2="166.40" stroke="#555" stroke-width="0.9"/>
<text x="233.20" y="168.25" font-size="5.3" text-anchor="end" font-weight="normal" fill="#444" class="tk">0.5</text>
<line x1="233.50" y1="150.00" x2="235.50" y2="150.00" stroke="#555" stroke-width="0.9"/>
<text x="233.20" y="151.85" font-size="5.3" text-anchor="end" font-weight="normal" fill="#444" class="tk">1.0</text>
<line x1="233.50" y1="133.60" x2="235.50" y2="133.60" stroke="#555" stroke-width="0.9"/>
<text x="233.20" y="135.45" font-size="5.3" text-anchor="end" font-weight="normal" fill="#444" class="tk">1.5</text>
<line x1="233.50" y1="117.20" x2="235.50" y2="117.20" stroke="#555" stroke-width="0.9"/>
<text x="233.20" y="119.05" font-size="5.3" text-anchor="end" font-weight="normal" fill="#444" class="tk">2.0</text>
<line x1="251.60" y1="182.80" x2="251.60" y2="184.40" stroke="#333" stroke-width="0.8"/>
<line x1="285.00" y1="182.80" x2="285.00" y2="184.40" stroke="#333" stroke-width="0.8"/>
<text x="251.60" y="189.80" font-size="5.4" text-anchor="middle" font-weight="normal" fill="#333" class="gl">WT</text>
<text x="285.00" y="189.80" font-size="5.4" text-anchor="middle" font-weight="normal" fill="#333" class="gl">NHD13</text>
<text transform="translate(222.35,150.30) rotate(-90)" font-size="5.3" text-anchor="middle" fill="#555" class="tk">Relative # of colonies</text>
<line x1="251.75" y1="144.50" x2="251.75" y2="155.00" stroke="#222" stroke-width="1.0"/>
<line x1="246.40" y1="144.50" x2="257.10" y2="144.50" stroke="#222" stroke-width="1.0"/>
<line x1="246.40" y1="155.00" x2="257.10" y2="155.00" stroke="#222" stroke-width="1.0"/>
<line x1="240.70" y1="149.80" x2="263.10" y2="149.80" stroke="#222" stroke-width="1.0"/>
<line x1="285.10" y1="151.50" x2="285.10" y2="159.30" stroke="#222" stroke-width="1.0"/>
<line x1="279.50" y1="151.50" x2="290.70" y2="151.50" stroke="#222" stroke-width="1.0"/>
<line x1="279.50" y1="159.30" x2="290.70" y2="159.30" stroke="#222" stroke-width="1.0"/>
<line x1="274.00" y1="155.30" x2="295.80" y2="155.30" stroke="#222" stroke-width="1.0"/>
<circle cx="251.60" cy="130.70" r="1.5" fill="#111"/>
<circle cx="251.60" cy="143.60" r="1.5" fill="#111"/>
<circle cx="248.10" cy="152.20" r="1.5" fill="#111"/>
<circle cx="255.70" cy="149.80" r="1.5" fill="#111"/>
<circle cx="251.90" cy="153.90" r="1.5" fill="#111"/>
<circle cx="251.60" cy="169.10" r="1.5" fill="#111"/>
<rect x="281.60" y="147.50" width="2.60" height="2.60" fill="#b8162e"/>
<rect x="285.90" y="145.40" width="2.60" height="2.60" fill="#b8162e"/>
<rect x="282.00" y="154.00" width="2.60" height="2.60" fill="#b8162e"/>
<rect x="285.60" y="156.10" width="2.60" height="2.60" fill="#b8162e"/>
<rect x="283.70" y="167.80" width="2.60" height="2.60" fill="#b8162e"/>
<text x="322.30" y="106.40" font-size="11.4" text-anchor="start" font-weight="bold" fill="#000" >E</text>
<text x="377.10" y="102.40" font-size="9" text-anchor="middle" font-weight="normal" fill="#000" class="ttl">CFU-Alkaline</text>
<text x="377.10" y="109.50" font-size="9" text-anchor="middle" font-weight="normal" fill="#000" class="ttl">Phosphatase</text>
<line x1="343.00" y1="116.90" x2="343.00" y2="183.10" stroke="#666" stroke-width="1.1"/>
<line x1="342.45" y1="182.60" x2="409.00" y2="182.60" stroke="#333" stroke-width="1.05"/>
<line x1="341.00" y1="182.60" x2="343.00" y2="182.60" stroke="#555" stroke-width="0.9"/>
<text x="340.70" y="184.45" font-size="5.3" text-anchor="end" font-weight="normal" fill="#444" class="tk">0.0</text>
<line x1="341.00" y1="160.87" x2="343.00" y2="160.87" stroke="#555" stroke-width="0.9"/>
<text x="340.70" y="162.72" font-size="5.3" text-anchor="end" font-weight="normal" fill="#444" class="tk">0.5</text>
<line x1="341.00" y1="139.13" x2="343.00" y2="139.13" stroke="#555" stroke-width="0.9"/>
<text x="340.70" y="140.98" font-size="5.3" text-anchor="end" font-weight="normal" fill="#444" class="tk">1.0</text>
<line x1="341.00" y1="117.40" x2="343.00" y2="117.40" stroke="#555" stroke-width="0.9"/>
<text x="340.70" y="119.25" font-size="5.3" text-anchor="end" font-weight="normal" fill="#444" class="tk">1.5</text>
<line x1="359.10" y1="182.60" x2="359.10" y2="184.20" stroke="#333" stroke-width="0.8"/>
<line x1="392.30" y1="182.60" x2="392.30" y2="184.20" stroke="#333" stroke-width="0.8"/>
<text x="359.10" y="189.60" font-size="5.4" text-anchor="middle" font-weight="normal" fill="#333" class="gl">WT</text>
<text x="392.30" y="189.60" font-size="5.4" text-anchor="middle" font-weight="normal" fill="#333" class="gl">NHD13</text>
<text transform="translate(330.35,150.30) rotate(-90)" font-size="5.3" text-anchor="middle" fill="#555" class="tk">Relative # of colonies</text>
<line x1="359.60" y1="134.70" x2="359.60" y2="143.30" stroke="#222" stroke-width="1.0"/>
<line x1="354.40" y1="134.70" x2="364.80" y2="134.70" stroke="#222" stroke-width="1.0"/>
<line x1="354.40" y1="143.30" x2="364.80" y2="143.30" stroke="#222" stroke-width="1.0"/>
<line x1="348.20" y1="138.60" x2="370.60" y2="138.60" stroke="#222" stroke-width="1.0"/>
<line x1="392.20" y1="145.50" x2="392.20" y2="158.40" stroke="#222" stroke-width="1.0"/>
<line x1="386.60" y1="145.50" x2="397.80" y2="145.50" stroke="#222" stroke-width="1.0"/>
<line x1="386.60" y1="158.40" x2="397.80" y2="158.40" stroke="#222" stroke-width="1.0"/>
<line x1="380.90" y1="151.90" x2="403.80" y2="151.90" stroke="#222" stroke-width="1.0"/>
<circle cx="359.10" cy="121.70" r="1.5" fill="#111"/>
<circle cx="359.10" cy="131.20" r="1.5" fill="#111"/>
<circle cx="359.10" cy="138.10" r="1.5" fill="#111"/>
<circle cx="355.60" cy="145.80" r="1.5" fill="#111"/>
<circle cx="359.10" cy="149.60" r="1.5" fill="#111"/>
<circle cx="363.00" cy="146.40" r="1.5" fill="#111"/>
<rect x="391.00" y="133.70" width="2.60" height="2.60" fill="#b8162e"/>
<rect x="391.00" y="140.20" width="2.60" height="2.60" fill="#b8162e"/>
<rect x="391.00" y="148.00" width="2.60" height="2.60" fill="#b8162e"/>
<rect x="391.00" y="160.90" width="2.60" height="2.60" fill="#b8162e"/>
<rect x="391.00" y="170.40" width="2.60" height="2.60" fill="#b8162e"/>
<text x="-1.00" y="217.20" font-size="12" text-anchor="start" font-weight="bold" fill="#000" >F</text>
<text x="57.60" y="217.70" font-size="9" text-anchor="middle" font-weight="normal" fill="#000" class="ttl">BM OBCs</text>
<line x1="24.50" y1="222.50" x2="24.50" y2="292.70" stroke="#666" stroke-width="1.1"/>
<line x1="23.95" y1="292.20" x2="92.00" y2="292.20" stroke="#333" stroke-width="1.05"/>
<line x1="22.50" y1="292.20" x2="24.50" y2="292.20" stroke="#555" stroke-width="0.9"/>
<text x="22.20" y="294.05" font-size="5.3" text-anchor="end" font-weight="normal" fill="#444" class="tk">0</text>
<line x1="22.50" y1="274.90" x2="24.50" y2="274.90" stroke="#555" stroke-width="0.9"/>
<text x="22.20" y="276.75" font-size="5.3" text-anchor="end" font-weight="normal" fill="#444" class="tk">1</text>
<line x1="22.50" y1="257.60" x2="24.50" y2="257.60" stroke="#555" stroke-width="0.9"/>
<text x="22.20" y="259.45" font-size="5.3" text-anchor="end" font-weight="normal" fill="#444" class="tk">2</text>
<line x1="22.50" y1="240.30" x2="24.50" y2="240.30" stroke="#555" stroke-width="0.9"/>
<text x="22.20" y="242.15" font-size="5.3" text-anchor="end" font-weight="normal" fill="#444" class="tk">3</text>
<line x1="22.50" y1="223.00" x2="24.50" y2="223.00" stroke="#555" stroke-width="0.9"/>
<text x="22.20" y="224.85" font-size="5.3" text-anchor="end" font-weight="normal" fill="#444" class="tk">4</text>
<line x1="41.00" y1="292.20" x2="41.00" y2="293.80" stroke="#333" stroke-width="0.8"/>
<line x1="76.20" y1="292.20" x2="76.20" y2="293.80" stroke="#333" stroke-width="0.8"/>
<text x="41.00" y="299.20" font-size="5.4" text-anchor="middle" font-weight="normal" fill="#333" class="gl">WT</text>
<text x="76.20" y="299.20" font-size="5.4" text-anchor="middle" font-weight="normal" fill="#333" class="gl">NHD13</text>
<text transform="translate(14.69,257.50) rotate(-90)" font-size="5.73" text-anchor="middle" fill="#555" class="tk">% of BM cells</text>
<line x1="41.00" y1="289.20" x2="41.00" y2="290.00" stroke="#222" stroke-width="1.0"/>
<line x1="37.00" y1="289.20" x2="45.00" y2="289.20" stroke="#222" stroke-width="1.0"/>
<line x1="37.00" y1="290.00" x2="45.00" y2="290.00" stroke="#222" stroke-width="1.0"/>
<line x1="29.50" y1="289.60" x2="53.10" y2="289.60" stroke="#999" stroke-width="1.0"/>
<line x1="76.30" y1="264.00" x2="76.30" y2="278.50" stroke="#222" stroke-width="1.0"/>
<line x1="70.40" y1="264.00" x2="82.20" y2="264.00" stroke="#222" stroke-width="1.0"/>
<line x1="70.40" y1="278.50" x2="82.20" y2="278.50" stroke="#222" stroke-width="1.0"/>
<line x1="64.40" y1="271.50" x2="88.00" y2="271.50" stroke="#222" stroke-width="1.0"/>
<circle cx="35.00" cy="290.00" r="1.5" fill="#111"/>
<circle cx="38.20" cy="290.00" r="1.5" fill="#111"/>
<circle cx="41.20" cy="290.00" r="1.5" fill="#111"/>
<circle cx="44.20" cy="290.00" r="1.5" fill="#111"/>
<circle cx="47.40" cy="290.00" r="1.5" fill="#111"/>
<circle cx="43.10" cy="287.60" r="1.5" fill="#111"/>
<rect x="74.90" y="234.20" width="2.60" height="2.60" fill="#b8162e"/>
<rect x="74.90" y="248.70" width="2.60" height="2.60" fill="#b8162e"/>
<rect x="74.90" y="257.80" width="2.60" height="2.60" fill="#b8162e"/>
<rect x="74.90" y="272.90" width="2.60" height="2.60" fill="#b8162e"/>
<rect x="72.20" y="282.00" width="2.60" height="2.60" fill="#b8162e"/>
<rect x="77.20" y="283.80" width="2.60" height="2.60" fill="#b8162e"/>
<rect x="76.90" y="289.20" width="2.60" height="2.60" fill="#b8162e"/>
<rect x="72.20" y="290.00" width="2.60" height="2.60" fill="#b8162e"/>
<circle cx="60.40" cy="226.00" r="1.05" fill="#111"/>
<line x1="51.30" y1="229.10" x2="70.40" y2="229.10" stroke="#333" stroke-width="0.9"/>
<text x="107.60" y="216.70" font-size="12" text-anchor="start" font-weight="bold" fill="#000" >G</text>
<text x="158.80" y="217.90" font-size="9" text-anchor="middle" font-weight="normal" fill="#000" class="ttl">BM OBCs</text>
<line x1="128.50" y1="223.70" x2="128.50" y2="292.70" stroke="#666" stroke-width="1.1"/>
<line x1="127.95" y1="292.20" x2="196.50" y2="292.20" stroke="#333" stroke-width="1.05"/>
<line x1="126.50" y1="292.20" x2="128.50" y2="292.20" stroke="#555" stroke-width="0.9"/>
<text x="126.20" y="294.05" font-size="5.3" text-anchor="end" font-weight="normal" fill="#444" class="tk">0</text>
<line x1="126.50" y1="278.60" x2="128.50" y2="278.60" stroke="#555" stroke-width="0.9"/>
<text x="126.20" y="280.45" font-size="5.3" text-anchor="end" font-weight="normal" fill="#444" class="tk">10</text>
<line x1="126.50" y1="265.00" x2="128.50" y2="265.00" stroke="#555" stroke-width="0.9"/>
<text x="126.20" y="266.85" font-size="5.3" text-anchor="end" font-weight="normal" fill="#444" class="tk">20</text>
<line x1="126.50" y1="251.40" x2="128.50" y2="251.40" stroke="#555" stroke-width="0.9"/>
<text x="126.20" y="253.25" font-size="5.3" text-anchor="end" font-weight="normal" fill="#444" class="tk">30</text>
<line x1="126.50" y1="237.80" x2="128.50" y2="237.80" stroke="#555" stroke-width="0.9"/>
<text x="126.20" y="239.65" font-size="5.3" text-anchor="end" font-weight="normal" fill="#444" class="tk">40</text>
<line x1="126.50" y1="224.20" x2="128.50" y2="224.20" stroke="#555" stroke-width="0.9"/>
<text x="126.20" y="226.05" font-size="5.3" text-anchor="end" font-weight="normal" fill="#444" class="tk">50</text>
<line x1="145.10" y1="292.20" x2="145.10" y2="293.80" stroke="#333" stroke-width="0.8"/>
<line x1="178.70" y1="292.20" x2="178.70" y2="293.80" stroke="#333" stroke-width="0.8"/>
<text x="145.10" y="299.20" font-size="5.4" text-anchor="middle" font-weight="normal" fill="#333" class="gl">WT</text>
<text x="178.70" y="299.20" font-size="5.4" text-anchor="middle" font-weight="normal" fill="#333" class="gl">NHD13</text>
<text transform="translate(116.51,255.90) rotate(-90)" font-size="5.17" text-anchor="middle" fill="#555" class="tk">% of Lin-/CD45- cells</text>
<line x1="145.05" y1="284.50" x2="145.05" y2="289.10" stroke="#222" stroke-width="1.0"/>
<line x1="139.60" y1="284.50" x2="150.50" y2="284.50" stroke="#222" stroke-width="1.0"/>
<line x1="139.60" y1="289.10" x2="150.50" y2="289.10" stroke="#222" stroke-width="1.0"/>
<line x1="134.20" y1="286.40" x2="156.90" y2="286.40" stroke="#222" stroke-width="1.0"/>
<line x1="178.90" y1="263.30" x2="178.90" y2="274.90" stroke="#222" stroke-width="1.0"/>
<line x1="173.30" y1="263.30" x2="184.50" y2="263.30" stroke="#222" stroke-width="1.0"/>
<line x1="173.30" y1="274.90" x2="184.50" y2="274.90" stroke="#222" stroke-width="1.0"/>
<line x1="168.20" y1="269.10" x2="190.00" y2="269.10" stroke="#222" stroke-width="1.0"/>
<circle cx="145.10" cy="277.30" r="1.5" fill="#111"/>
<circle cx="137.80" cy="286.90" r="1.5" fill="#111"/>
<circle cx="142.40" cy="288.20" r="1.5" fill="#111"/>
<circle cx="145.10" cy="289.50" r="1.5" fill="#111"/>
<circle cx="148.70" cy="287.60" r="1.5" fill="#111"/>
<circle cx="153.30" cy="287.30" r="1.5" fill="#111"/>
<rect x="177.40" y="239.10" width="2.60" height="2.60" fill="#b8162e"/>
<rect x="177.40" y="252.30" width="2.60" height="2.60" fill="#b8162e"/>
<rect x="177.40" y="267.80" width="2.60" height="2.60" fill="#b8162e"/>
<rect x="177.40" y="275.40" width="2.60" height="2.60" fill="#b8162e"/>
<rect x="175.60" y="288.70" width="2.60" height="2.60" fill="#b8162e"/>
<rect x="179.20" y="287.40" width="2.60" height="2.60" fill="#b8162e"/>
<circle cx="163.30" cy="229.70" r="1.05" fill="#111"/>
<line x1="155.50" y1="233.10" x2="171.50" y2="233.10" stroke="#333" stroke-width="0.9"/>
<text x="213.70" y="216.70" font-size="12" text-anchor="start" font-weight="bold" fill="#000" >H</text>
<text x="266.70" y="218.00" font-size="9" text-anchor="middle" font-weight="normal" fill="#000" class="ttl">Serum Osteocalcin</text>
<line x1="235.80" y1="226.70" x2="235.80" y2="292.70" stroke="#666" stroke-width="1.1"/>
<line x1="235.25" y1="292.20" x2="302.00" y2="292.20" stroke="#333" stroke-width="1.05"/>
<line x1="233.80" y1="292.20" x2="235.80" y2="292.20" stroke="#555" stroke-width="0.9"/>
<text x="233.50" y="294.05" font-size="5.3" text-anchor="end" font-weight="normal" fill="#444" class="tk">0</text>
<line x1="233.80" y1="279.20" x2="235.80" y2="279.20" stroke="#555" stroke-width="0.9"/>
<text x="233.50" y="281.05" font-size="5.3" text-anchor="end" font-weight="normal" fill="#444" class="tk">100</text>
<line x1="233.80" y1="266.20" x2="235.80" y2="266.20" stroke="#555" stroke-width="0.9"/>
<text x="233.50" y="268.05" font-size="5.3" text-anchor="end" font-weight="normal" fill="#444" class="tk">200</text>
<line x1="233.80" y1="253.20" x2="235.80" y2="253.20" stroke="#555" stroke-width="0.9"/>
<text x="233.50" y="255.05" font-size="5.3" text-anchor="end" font-weight="normal" fill="#444" class="tk">300</text>
<line x1="233.80" y1="240.20" x2="235.80" y2="240.20" stroke="#555" stroke-width="0.9"/>
<text x="233.50" y="242.05" font-size="5.3" text-anchor="end" font-weight="normal" fill="#444" class="tk">400</text>
<line x1="233.80" y1="227.20" x2="235.80" y2="227.20" stroke="#555" stroke-width="0.9"/>
<text x="233.50" y="229.05" font-size="5.3" text-anchor="end" font-weight="normal" fill="#444" class="tk">500</text>
<line x1="251.70" y1="292.20" x2="251.70" y2="293.80" stroke="#333" stroke-width="0.8"/>
<line x1="285.20" y1="292.20" x2="285.20" y2="293.80" stroke="#333" stroke-width="0.8"/>
<text x="251.70" y="299.20" font-size="5.4" text-anchor="middle" font-weight="normal" fill="#333" class="gl">WT</text>
<text x="285.20" y="299.20" font-size="5.4" text-anchor="middle" font-weight="normal" fill="#333" class="gl">NHD13</text>
<text transform="translate(219.47,259.00) rotate(-90)" font-size="5.66" text-anchor="middle" fill="#555" class="tk">PB serum conc. (ng/mL)</text>
<line x1="252.05" y1="264.50" x2="252.05" y2="272.70" stroke="#222" stroke-width="1.0"/>
<line x1="246.60" y1="264.50" x2="257.50" y2="264.50" stroke="#222" stroke-width="1.0"/>
<line x1="246.60" y1="272.70" x2="257.50" y2="272.70" stroke="#222" stroke-width="1.0"/>
<line x1="241.20" y1="268.70" x2="263.00" y2="268.70" stroke="#222" stroke-width="1.0"/>
<line x1="284.80" y1="263.60" x2="284.80" y2="272.40" stroke="#222" stroke-width="1.0"/>
<line x1="278.80" y1="263.60" x2="290.80" y2="263.60" stroke="#222" stroke-width="1.0"/>
<line x1="278.80" y1="272.40" x2="290.80" y2="272.40" stroke="#222" stroke-width="1.0"/>
<line x1="272.60" y1="268.20" x2="295.70" y2="268.20" stroke="#222" stroke-width="1.0"/>
<circle cx="251.70" cy="237.60" r="1.5" fill="#111"/>
<circle cx="251.70" cy="247.30" r="1.5" fill="#111"/>
<circle cx="251.70" cy="254.50" r="1.5" fill="#111"/>
<circle cx="246.60" cy="267.30" r="1.5" fill="#111"/>
<circle cx="251.20" cy="266.90" r="1.5" fill="#111"/>
<circle cx="256.30" cy="266.90" r="1.5" fill="#111"/>
<circle cx="250.30" cy="269.50" r="1.5" fill="#111"/>
<circle cx="254.80" cy="270.00" r="1.5" fill="#111"/>
<circle cx="256.30" cy="274.50" r="1.5" fill="#111"/>
<circle cx="248.50" cy="276.70" r="1.5" fill="#111"/>
<circle cx="252.10" cy="278.50" r="1.5" fill="#111"/>
<circle cx="248.50" cy="282.20" r="1.5" fill="#111"/>
<circle cx="256.30" cy="284.00" r="1.5" fill="#111"/>
<circle cx="252.10" cy="286.40" r="1.5" fill="#111"/>
<rect x="283.90" y="241.40" width="2.60" height="2.60" fill="#b8162e"/>
<rect x="283.90" y="256.50" width="2.60" height="2.60" fill="#b8162e"/>
<rect x="283.90" y="265.10" width="2.60" height="2.60" fill="#b8162e"/>
<rect x="281.70" y="267.40" width="2.60" height="2.60" fill="#b8162e"/>
<rect x="286.20" y="267.40" width="2.60" height="2.60" fill="#b8162e"/>
<rect x="279.90" y="273.20" width="2.60" height="2.60" fill="#b8162e"/>
<rect x="287.70" y="271.80" width="2.60" height="2.60" fill="#b8162e"/>
<rect x="283.90" y="276.00" width="2.60" height="2.60" fill="#b8162e"/>
<rect x="283.90" y="285.10" width="2.60" height="2.60" fill="#b8162e"/>
<text x="323.10" y="216.20" font-size="12" text-anchor="start" font-weight="bold" fill="#000" >I</text>
<text x="371.80" y="217.30" font-size="9" text-anchor="middle" font-weight="normal" fill="#000" class="ttl">Trabecular Number</text>
<line x1="342.90" y1="225.80" x2="342.90" y2="292.70" stroke="#666" stroke-width="1.1"/>
<line x1="342.35" y1="292.20" x2="410.00" y2="292.20" stroke="#333" stroke-width="1.05"/>
<line x1="340.90" y1="292.20" x2="342.90" y2="292.20" stroke="#555" stroke-width="0.9"/>
<text x="340.60" y="294.05" font-size="5.3" text-anchor="end" font-weight="normal" fill="#444" class="tk">2.5</text>
<line x1="340.90" y1="275.73" x2="342.90" y2="275.73" stroke="#555" stroke-width="0.9"/>
<text x="340.60" y="277.58" font-size="5.3" text-anchor="end" font-weight="normal" fill="#444" class="tk">3.0</text>
<line x1="340.90" y1="259.25" x2="342.90" y2="259.25" stroke="#555" stroke-width="0.9"/>
<text x="340.60" y="261.10" font-size="5.3" text-anchor="end" font-weight="normal" fill="#444" class="tk">3.5</text>
<line x1="340.90" y1="242.78" x2="342.90" y2="242.78" stroke="#555" stroke-width="0.9"/>
<text x="340.60" y="244.62" font-size="5.3" text-anchor="end" font-weight="normal" fill="#444" class="tk">4.0</text>
<line x1="340.90" y1="226.30" x2="342.90" y2="226.30" stroke="#555" stroke-width="0.9"/>
<text x="340.60" y="228.15" font-size="5.3" text-anchor="end" font-weight="normal" fill="#444" class="tk">4.5</text>
<line x1="359.10" y1="292.20" x2="359.10" y2="293.80" stroke="#333" stroke-width="0.8"/>
<line x1="392.40" y1="292.20" x2="392.40" y2="293.80" stroke="#333" stroke-width="0.8"/>
<text x="359.10" y="299.20" font-size="5.4" text-anchor="middle" font-weight="normal" fill="#333" class="gl">WT</text>
<text x="392.40" y="299.20" font-size="5.4" text-anchor="middle" font-weight="normal" fill="#333" class="gl">NHD13</text>
<text transform="translate(330.00,258.80) rotate(-90)" font-size="5.44" text-anchor="middle" fill="#555" class="tk">Number/mm</text>
<line x1="359.55" y1="257.60" x2="359.55" y2="267.60" stroke="#222" stroke-width="1.0"/>
<line x1="354.20" y1="257.60" x2="364.90" y2="257.60" stroke="#222" stroke-width="1.0"/>
<line x1="354.20" y1="267.60" x2="364.90" y2="267.60" stroke="#222" stroke-width="1.0"/>
<line x1="348.20" y1="262.70" x2="370.90" y2="262.70" stroke="#222" stroke-width="1.0"/>
<line x1="392.30" y1="256.40" x2="392.30" y2="264.20" stroke="#222" stroke-width="1.0"/>
<line x1="386.40" y1="256.40" x2="398.20" y2="256.40" stroke="#222" stroke-width="1.0"/>
<line x1="386.40" y1="264.20" x2="398.20" y2="264.20" stroke="#222" stroke-width="1.0"/>
<line x1="380.90" y1="260.40" x2="404.00" y2="260.40" stroke="#222" stroke-width="1.0"/>
<circle cx="359.10" cy="241.80" r="1.5" fill="#111"/>
<circle cx="359.10" cy="253.30" r="1.5" fill="#111"/>
<circle cx="360.90" cy="258.20" r="1.5" fill="#111"/>
<circle cx="357.30" cy="261.80" r="1.5" fill="#111"/>
<circle cx="359.10" cy="266.90" r="1.5" fill="#111"/>
<circle cx="360.90" cy="276.00" r="1.5" fill="#111"/>
<circle cx="357.30" cy="279.60" r="1.5" fill="#111"/>
<rect x="391.10" y="238.30" width="2.60" height="2.60" fill="#b8162e"/>
<rect x="386.90" y="244.20" width="2.60" height="2.60" fill="#b8162e"/>
<rect x="395.10" y="246.30" width="2.60" height="2.60" fill="#b8162e"/>
<rect x="391.10" y="247.80" width="2.60" height="2.60" fill="#b8162e"/>
<rect x="391.10" y="257.80" width="2.60" height="2.60" fill="#b8162e"/>
<rect x="386.90" y="263.80" width="2.60" height="2.60" fill="#b8162e"/>
<rect x="391.40" y="265.60" width="2.60" height="2.60" fill="#b8162e"/>
<rect x="385.10" y="267.40" width="2.60" height="2.60" fill="#b8162e"/>
<rect x="389.20" y="268.70" width="2.60" height="2.60" fill="#b8162e"/>
<rect x="392.90" y="270.00" width="2.60" height="2.60" fill="#b8162e"/>
<rect x="396.90" y="268.70" width="2.60" height="2.60" fill="#b8162e"/>
<rect x="391.10" y="274.20" width="2.60" height="2.60" fill="#b8162e"/>
<text x="419.90" y="216.70" font-size="12" text-anchor="start" font-weight="bold" fill="#000" >J</text>
<text x="476.70" y="217.30" font-size="9" text-anchor="middle" font-weight="normal" fill="#000" class="ttl">Trabecular Thickness</text>
<line x1="446.50" y1="227.70" x2="446.50" y2="292.50" stroke="#666" stroke-width="1.1"/>
<line x1="445.95" y1="292.00" x2="508.50" y2="292.00" stroke="#333" stroke-width="1.05"/>
<line x1="444.50" y1="292.00" x2="446.50" y2="292.00" stroke="#555" stroke-width="0.9"/>
<text x="444.20" y="293.85" font-size="4.9" text-anchor="end" font-weight="normal" fill="#444" class="tk">0.040</text>
<line x1="444.50" y1="279.24" x2="446.50" y2="279.24" stroke="#555" stroke-width="0.9"/>
<text x="444.20" y="281.09" font-size="4.9" text-anchor="end" font-weight="normal" fill="#444" class="tk">0.045</text>
<line x1="444.50" y1="266.48" x2="446.50" y2="266.48" stroke="#555" stroke-width="0.9"/>
<text x="444.20" y="268.33" font-size="4.9" text-anchor="end" font-weight="normal" fill="#444" class="tk">0.050</text>
<line x1="444.50" y1="253.72" x2="446.50" y2="253.72" stroke="#555" stroke-width="0.9"/>
<text x="444.20" y="255.57" font-size="4.9" text-anchor="end" font-weight="normal" fill="#444" class="tk">0.055</text>
<line x1="444.50" y1="240.96" x2="446.50" y2="240.96" stroke="#555" stroke-width="0.9"/>
<text x="444.20" y="242.81" font-size="4.9" text-anchor="end" font-weight="normal" fill="#444" class="tk">0.060</text>
<line x1="444.50" y1="228.20" x2="446.50" y2="228.20" stroke="#555" stroke-width="0.9"/>
<text x="444.20" y="230.05" font-size="4.9" text-anchor="end" font-weight="normal" fill="#444" class="tk">0.065</text>
<line x1="462.20" y1="292.00" x2="462.20" y2="293.60" stroke="#333" stroke-width="0.8"/>
<line x1="493.50" y1="292.00" x2="493.50" y2="293.60" stroke="#333" stroke-width="0.8"/>
<text x="462.20" y="299.00" font-size="5.4" text-anchor="middle" font-weight="normal" fill="#333" class="gl">WT</text>
<text x="493.50" y="299.00" font-size="5.4" text-anchor="middle" font-weight="normal" fill="#333" class="gl">NHD13</text>
<text transform="translate(428.41,259.80) rotate(-90)" font-size="5.18" text-anchor="middle" fill="#555" class="tk">Thickness (mm)</text>
<line x1="462.35" y1="263.10" x2="462.35" y2="270.00" stroke="#222" stroke-width="1.0"/>
<line x1="457.10" y1="263.10" x2="467.60" y2="263.10" stroke="#222" stroke-width="1.0"/>
<line x1="457.10" y1="270.00" x2="467.60" y2="270.00" stroke="#222" stroke-width="1.0"/>
<line x1="451.30" y1="266.00" x2="473.10" y2="266.00" stroke="#222" stroke-width="1.0"/>
<line x1="493.50" y1="259.10" x2="493.50" y2="265.50" stroke="#222" stroke-width="1.0"/>
<line x1="488.50" y1="259.10" x2="498.50" y2="259.10" stroke="#222" stroke-width="1.0"/>
<line x1="488.50" y1="265.50" x2="498.50" y2="265.50" stroke="#222" stroke-width="1.0"/>
<line x1="482.50" y1="262.40" x2="504.00" y2="262.40" stroke="#222" stroke-width="1.0"/>
<circle cx="460.40" cy="257.30" r="1.5" fill="#111"/>
<circle cx="464.00" cy="258.50" r="1.5" fill="#111"/>
<circle cx="458.50" cy="262.40" r="1.5" fill="#111"/>
<circle cx="462.20" cy="263.60" r="1.5" fill="#111"/>
<circle cx="466.20" cy="262.70" r="1.5" fill="#111"/>
<circle cx="462.20" cy="273.60" r="1.5" fill="#111"/>
<circle cx="462.20" cy="285.80" r="1.5" fill="#111"/>
<rect x="492.20" y="239.60" width="2.60" height="2.60" fill="#b8162e"/>
<rect x="494.50" y="248.20" width="2.60" height="2.60" fill="#b8162e"/>
<rect x="490.30" y="250.50" width="2.60" height="2.60" fill="#b8162e"/>
<rect x="492.20" y="257.80" width="2.60" height="2.60" fill="#b8162e"/>
<rect x="490.30" y="260.50" width="2.60" height="2.60" fill="#b8162e"/>
<rect x="494.50" y="262.30" width="2.60" height="2.60" fill="#b8162e"/>
<rect x="490.30" y="266.30" width="2.60" height="2.60" fill="#b8162e"/>
<rect x="495.80" y="266.90" width="2.60" height="2.60" fill="#b8162e"/>
<rect x="488.20" y="268.20" width="2.60" height="2.60" fill="#b8162e"/>
<rect x="492.20" y="269.20" width="2.60" height="2.60" fill="#b8162e"/>
<rect x="490.30" y="273.60" width="2.60" height="2.60" fill="#b8162e"/>
<rect x="494.50" y="273.20" width="2.60" height="2.60" fill="#b8162e"/>
<text x="-1.00" y="332.60" font-size="12" text-anchor="start" font-weight="bold" fill="#000" >K</text>
<text x="57.30" y="326.50" font-size="9" text-anchor="middle" font-weight="normal" fill="#000" class="ttl">CFU-OB: Alkaline</text>
<text x="57.30" y="334.10" font-size="9" text-anchor="middle" font-weight="normal" fill="#000" class="ttl">Phosphatase+</text>
<line x1="24.20" y1="341.30" x2="24.20" y2="410.80" stroke="#666" stroke-width="1.1"/>
<line x1="23.65" y1="410.30" x2="91.50" y2="410.30" stroke="#333" stroke-width="1.05"/>
<line x1="22.20" y1="410.30" x2="24.20" y2="410.30" stroke="#555" stroke-width="0.9"/>
<text x="21.90" y="412.15" font-size="5.3" text-anchor="end" font-weight="normal" fill="#444" class="tk">0</text>
<line x1="22.20" y1="396.60" x2="24.20" y2="396.60" stroke="#555" stroke-width="0.9"/>
<text x="21.90" y="398.45" font-size="5.3" text-anchor="end" font-weight="normal" fill="#444" class="tk">5</text>
<line x1="22.20" y1="382.90" x2="24.20" y2="382.90" stroke="#555" stroke-width="0.9"/>
<text x="21.90" y="384.75" font-size="5.3" text-anchor="end" font-weight="normal" fill="#444" class="tk">10</text>
<line x1="22.20" y1="369.20" x2="24.20" y2="369.20" stroke="#555" stroke-width="0.9"/>
<text x="21.90" y="371.05" font-size="5.3" text-anchor="end" font-weight="normal" fill="#444" class="tk">15</text>
<line x1="22.20" y1="355.50" x2="24.20" y2="355.50" stroke="#555" stroke-width="0.9"/>
<text x="21.90" y="357.35" font-size="5.3" text-anchor="end" font-weight="normal" fill="#444" class="tk">20</text>
<line x1="22.20" y1="341.80" x2="24.20" y2="341.80" stroke="#555" stroke-width="0.9"/>
<text x="21.90" y="343.65" font-size="5.3" text-anchor="end" font-weight="normal" fill="#444" class="tk">25</text>
<line x1="40.90" y1="410.30" x2="40.90" y2="411.90" stroke="#333" stroke-width="0.8"/>
<line x1="74.50" y1="410.30" x2="74.50" y2="411.90" stroke="#333" stroke-width="0.8"/>
<text x="40.90" y="417.30" font-size="5.4" text-anchor="middle" font-weight="normal" fill="#333" class="gl">WT</text>
<text x="74.50" y="417.30" font-size="5.4" text-anchor="middle" font-weight="normal" fill="#333" class="gl">NHD13</text>
<text transform="translate(12.37,376.60) rotate(-90)" font-size="5.37" text-anchor="middle" fill="#555" class="tk"># of colonies/4x10^6 BM cells</text>
<line x1="40.80" y1="364.00" x2="40.80" y2="385.60" stroke="#222" stroke-width="1.0"/>
<line x1="34.90" y1="364.00" x2="46.70" y2="364.00" stroke="#222" stroke-width="1.0"/>
<line x1="34.90" y1="385.60" x2="46.70" y2="385.60" stroke="#222" stroke-width="1.0"/>
<line x1="29.50" y1="374.70" x2="52.70" y2="374.70" stroke="#222" stroke-width="1.0"/>
<line x1="74.75" y1="365.30" x2="74.75" y2="387.10" stroke="#222" stroke-width="1.0"/>
<line x1="69.10" y1="365.30" x2="80.40" y2="365.30" stroke="#222" stroke-width="1.0"/>
<line x1="69.10" y1="387.10" x2="80.40" y2="387.10" stroke="#222" stroke-width="1.0"/>
<line x1="63.10" y1="376.20" x2="86.20" y2="376.20" stroke="#222" stroke-width="1.0"/>
<circle cx="38.90" cy="351.60" r="1.5" fill="#111"/>
<circle cx="43.10" cy="353.50" r="1.5" fill="#111"/>
<circle cx="40.90" cy="371.60" r="1.5" fill="#111"/>
<circle cx="40.90" cy="390.70" r="1.5" fill="#111"/>
<circle cx="40.90" cy="406.70" r="1.5" fill="#111"/>
<rect x="73.20" y="349.40" width="2.60" height="2.60" fill="#b8162e"/>
<rect x="71.40" y="360.90" width="2.60" height="2.60" fill="#b8162e"/>
<rect x="75.40" y="363.10" width="2.60" height="2.60" fill="#b8162e"/>
<rect x="71.40" y="400.70" width="2.60" height="2.60" fill="#b8162e"/>
<rect x="75.40" y="400.00" width="2.60" height="2.60" fill="#b8162e"/>
<text x="107.60" y="332.60" font-size="12" text-anchor="start" font-weight="bold" fill="#000" >L</text>
<text x="162.00" y="326.60" font-size="9" text-anchor="middle" font-weight="normal" fill="#000" class="ttl">CFU-OB:</text>
<text x="162.00" y="333.80" font-size="9" text-anchor="middle" font-weight="normal" fill="#000" class="ttl">Von Kossa+</text>
<line x1="129.10" y1="341.80" x2="129.10" y2="410.50" stroke="#666" stroke-width="1.1"/>
<line x1="128.55" y1="410.00" x2="196.50" y2="410.00" stroke="#333" stroke-width="1.05"/>
<line x1="127.10" y1="410.00" x2="129.10" y2="410.00" stroke="#555" stroke-width="0.9"/>
<text x="126.80" y="411.85" font-size="5.3" text-anchor="end" font-weight="normal" fill="#444" class="tk">0</text>
<line x1="127.10" y1="387.43" x2="129.10" y2="387.43" stroke="#555" stroke-width="0.9"/>
<text x="126.80" y="389.28" font-size="5.3" text-anchor="end" font-weight="normal" fill="#444" class="tk">5</text>
<line x1="127.10" y1="364.87" x2="129.10" y2="364.87" stroke="#555" stroke-width="0.9"/>
<text x="126.80" y="366.72" font-size="5.3" text-anchor="end" font-weight="normal" fill="#444" class="tk">10</text>
<line x1="127.10" y1="342.30" x2="129.10" y2="342.30" stroke="#555" stroke-width="0.9"/>
<text x="126.80" y="344.15" font-size="5.3" text-anchor="end" font-weight="normal" fill="#444" class="tk">15</text>
<line x1="145.60" y1="410.00" x2="145.60" y2="411.60" stroke="#333" stroke-width="0.8"/>
<line x1="179.30" y1="410.00" x2="179.30" y2="411.60" stroke="#333" stroke-width="0.8"/>
<text x="145.60" y="417.00" font-size="5.4" text-anchor="middle" font-weight="normal" fill="#333" class="gl">WT</text>
<text x="179.30" y="417.00" font-size="5.4" text-anchor="middle" font-weight="normal" fill="#333" class="gl">NHD13</text>
<text transform="translate(117.16,376.80) rotate(-90)" font-size="5.33" text-anchor="middle" fill="#555" class="tk"># of colonies/4x10^6 BM cells</text>
<line x1="146.00" y1="395.30" x2="146.00" y2="402.50" stroke="#222" stroke-width="1.0"/>
<line x1="140.50" y1="395.30" x2="151.50" y2="395.30" stroke="#222" stroke-width="1.0"/>
<line x1="140.50" y1="402.50" x2="151.50" y2="402.50" stroke="#222" stroke-width="1.0"/>
<line x1="134.20" y1="398.40" x2="157.80" y2="398.40" stroke="#222" stroke-width="1.0"/>
<line x1="179.35" y1="371.30" x2="179.35" y2="394.40" stroke="#222" stroke-width="1.0"/>
<line x1="173.60" y1="371.30" x2="185.10" y2="371.30" stroke="#222" stroke-width="1.0"/>
<line x1="173.60" y1="394.40" x2="185.10" y2="394.40" stroke="#222" stroke-width="1.0"/>
<line x1="167.50" y1="382.90" x2="191.10" y2="382.90" stroke="#222" stroke-width="1.0"/>
<circle cx="143.80" cy="392.00" r="1.5" fill="#111"/>
<circle cx="147.80" cy="389.30" r="1.5" fill="#111"/>
<circle cx="145.60" cy="398.00" r="1.5" fill="#111"/>
<circle cx="143.30" cy="400.70" r="1.5" fill="#111"/>
<circle cx="146.90" cy="402.00" r="1.5" fill="#111"/>
<circle cx="145.60" cy="409.80" r="1.5" fill="#111"/>
<rect x="178.00" y="347.20" width="2.60" height="2.60" fill="#b8162e"/>
<rect x="178.00" y="365.40" width="2.60" height="2.60" fill="#b8162e"/>
<rect x="178.00" y="383.60" width="2.60" height="2.60" fill="#b8162e"/>
<rect x="178.00" y="404.00" width="2.60" height="2.60" fill="#b8162e"/>
<rect x="178.00" y="408.00" width="2.60" height="2.60" fill="#b8162e"/>
<text x="214.50" y="332.60" font-size="12" text-anchor="start" font-weight="bold" fill="#000" >M</text>
<text x="267.40" y="332.10" font-size="9" text-anchor="middle" font-weight="normal" fill="#000" class="ttl">CCL3</text>
<line x1="235.50" y1="341.50" x2="235.50" y2="410.50" stroke="#666" stroke-width="1.1"/>
<line x1="234.95" y1="410.00" x2="300.00" y2="410.00" stroke="#333" stroke-width="1.05"/>
<line x1="233.50" y1="410.00" x2="235.50" y2="410.00" stroke="#555" stroke-width="0.9"/>
<text x="233.20" y="411.85" font-size="5.3" text-anchor="end" font-weight="normal" fill="#444" class="tk">0</text>
<line x1="233.50" y1="387.33" x2="235.50" y2="387.33" stroke="#555" stroke-width="0.9"/>
<text x="233.20" y="389.18" font-size="5.3" text-anchor="end" font-weight="normal" fill="#444" class="tk">50</text>
<line x1="233.50" y1="364.67" x2="235.50" y2="364.67" stroke="#555" stroke-width="0.9"/>
<text x="233.20" y="366.52" font-size="5.3" text-anchor="end" font-weight="normal" fill="#444" class="tk">100</text>
<line x1="233.50" y1="342.00" x2="235.50" y2="342.00" stroke="#555" stroke-width="0.9"/>
<text x="233.20" y="343.85" font-size="5.3" text-anchor="end" font-weight="normal" fill="#444" class="tk">150</text>
<line x1="251.20" y1="410.00" x2="251.20" y2="411.60" stroke="#333" stroke-width="0.8"/>
<line x1="283.50" y1="410.00" x2="283.50" y2="411.60" stroke="#333" stroke-width="0.8"/>
<text x="251.20" y="417.00" font-size="5.4" text-anchor="middle" font-weight="normal" fill="#333" class="gl">WT</text>
<text x="283.50" y="417.00" font-size="5.4" text-anchor="middle" font-weight="normal" fill="#333" class="gl">NHD13</text>
<text transform="translate(221.02,375.90) rotate(-90)" font-size="5.2" text-anchor="middle" fill="#555" class="tk">pg/mL</text>
<line x1="251.35" y1="388.50" x2="251.35" y2="395.80" stroke="#222" stroke-width="1.0"/>
<line x1="246.10" y1="388.50" x2="256.60" y2="388.50" stroke="#222" stroke-width="1.0"/>
<line x1="246.10" y1="395.80" x2="256.60" y2="395.80" stroke="#222" stroke-width="1.0"/>
<line x1="240.30" y1="392.90" x2="262.50" y2="392.90" stroke="#222" stroke-width="1.0"/>
<line x1="283.95" y1="372.00" x2="283.95" y2="376.50" stroke="#222" stroke-width="1.0"/>
<line x1="278.50" y1="372.00" x2="289.40" y2="372.00" stroke="#222" stroke-width="1.0"/>
<line x1="278.50" y1="376.50" x2="289.40" y2="376.50" stroke="#222" stroke-width="1.0"/>
<line x1="272.60" y1="374.40" x2="294.80" y2="374.40" stroke="#222" stroke-width="1.0"/>
<circle cx="251.20" cy="357.60" r="1.5" fill="#111"/>
<circle cx="251.20" cy="376.20" r="1.5" fill="#111"/>
<circle cx="251.20" cy="381.30" r="1.5" fill="#111"/>
<circle cx="253.40" cy="382.50" r="1.5" fill="#111"/>
<circle cx="249.40" cy="386.20" r="1.5" fill="#111"/>
<circle cx="245.40" cy="395.30" r="1.5" fill="#111"/>
<circle cx="249.40" cy="398.00" r="1.5" fill="#111"/>
<circle cx="253.40" cy="398.00" r="1.5" fill="#111"/>
<circle cx="256.30" cy="395.80" r="1.5" fill="#111"/>
<circle cx="257.50" cy="406.20" r="1.5" fill="#111"/>
<circle cx="245.40" cy="409.30" r="1.5" fill="#111"/>
<circle cx="249.40" cy="409.30" r="1.5" fill="#111"/>
<circle cx="253.40" cy="409.30" r="1.5" fill="#111"/>
<rect x="282.20" y="356.30" width="2.60" height="2.60" fill="#b8162e"/>
<rect x="278.10" y="368.00" width="2.60" height="2.60" fill="#b8162e"/>
<rect x="282.20" y="367.60" width="2.60" height="2.60" fill="#b8162e"/>
<rect x="286.20" y="368.00" width="2.60" height="2.60" fill="#b8162e"/>
<rect x="278.10" y="372.20" width="2.60" height="2.60" fill="#b8162e"/>
<rect x="282.20" y="372.20" width="2.60" height="2.60" fill="#b8162e"/>
<rect x="286.20" y="373.10" width="2.60" height="2.60" fill="#b8162e"/>
<rect x="280.40" y="374.90" width="2.60" height="2.60" fill="#b8162e"/>
<rect x="284.40" y="375.20" width="2.60" height="2.60" fill="#b8162e"/>
<rect x="278.10" y="381.20" width="2.60" height="2.60" fill="#b8162e"/>
<rect x="282.20" y="381.20" width="2.60" height="2.60" fill="#b8162e"/>
<rect x="286.20" y="381.20" width="2.60" height="2.60" fill="#b8162e"/>
<circle cx="266.05" cy="344.60" r="1.05" fill="#111"/>
<circle cx="269.75" cy="344.60" r="1.05" fill="#111"/>
<line x1="259.40" y1="347.80" x2="276.60" y2="347.80" stroke="#999" stroke-width="0.9"/>
<text x="322.00" y="332.60" font-size="12" text-anchor="start" font-weight="bold" fill="#000" >N</text>
<text x="373.50" y="326.20" font-size="9" text-anchor="middle" font-weight="normal" fill="#000" class="ttl">TRAP+</text>
<text x="373.50" y="334.30" font-size="9" text-anchor="middle" font-weight="normal" fill="#000" class="ttl">Osteoclasts</text>
<line x1="342.90" y1="343.30" x2="342.90" y2="409.80" stroke="#666" stroke-width="1.1"/>
<line x1="342.35" y1="409.30" x2="408.50" y2="409.30" stroke="#333" stroke-width="1.05"/>
<line x1="340.90" y1="409.30" x2="342.90" y2="409.30" stroke="#555" stroke-width="0.9"/>
<text x="340.60" y="411.15" font-size="5.3" text-anchor="end" font-weight="normal" fill="#444" class="tk">0</text>
<line x1="340.90" y1="396.20" x2="342.90" y2="396.20" stroke="#555" stroke-width="0.9"/>
<text x="340.60" y="398.05" font-size="5.3" text-anchor="end" font-weight="normal" fill="#444" class="tk">20</text>
<line x1="340.90" y1="383.10" x2="342.90" y2="383.10" stroke="#555" stroke-width="0.9"/>
<text x="340.60" y="384.95" font-size="5.3" text-anchor="end" font-weight="normal" fill="#444" class="tk">40</text>
<line x1="340.90" y1="370.00" x2="342.90" y2="370.00" stroke="#555" stroke-width="0.9"/>
<text x="340.60" y="371.85" font-size="5.3" text-anchor="end" font-weight="normal" fill="#444" class="tk">60</text>
<line x1="340.90" y1="356.90" x2="342.90" y2="356.90" stroke="#555" stroke-width="0.9"/>
<text x="340.60" y="358.75" font-size="5.3" text-anchor="end" font-weight="normal" fill="#444" class="tk">80</text>
<line x1="340.90" y1="343.80" x2="342.90" y2="343.80" stroke="#555" stroke-width="0.9"/>
<text x="340.60" y="345.65" font-size="5.3" text-anchor="end" font-weight="normal" fill="#444" class="tk">100</text>
<line x1="359.10" y1="409.30" x2="359.10" y2="410.90" stroke="#333" stroke-width="0.8"/>
<line x1="391.80" y1="409.30" x2="391.80" y2="410.90" stroke="#333" stroke-width="0.8"/>
<text x="359.10" y="416.30" font-size="5.4" text-anchor="middle" font-weight="normal" fill="#333" class="gl">WT</text>
<text x="391.80" y="416.30" font-size="5.4" text-anchor="middle" font-weight="normal" fill="#333" class="gl">NHD13</text>
<text transform="translate(328.23,376.70) rotate(-90)" font-size="5.25" text-anchor="middle" fill="#555" class="tk"># of cells</text>
<line x1="359.05" y1="379.80" x2="359.05" y2="385.60" stroke="#222" stroke-width="1.0"/>
<line x1="354.50" y1="379.80" x2="363.60" y2="379.80" stroke="#222" stroke-width="1.0"/>
<line x1="354.50" y1="385.60" x2="363.60" y2="385.60" stroke="#222" stroke-width="1.0"/>
<line x1="348.20" y1="382.50" x2="370.50" y2="382.50" stroke="#222" stroke-width="1.0"/>
<line x1="392.10" y1="372.20" x2="392.10" y2="380.70" stroke="#222" stroke-width="1.0"/>
<line x1="386.40" y1="372.20" x2="397.80" y2="372.20" stroke="#222" stroke-width="1.0"/>
<line x1="386.40" y1="380.70" x2="397.80" y2="380.70" stroke="#222" stroke-width="1.0"/>
<line x1="380.40" y1="376.50" x2="402.70" y2="376.50" stroke="#222" stroke-width="1.0"/>
<circle cx="357.30" cy="375.30" r="1.5" fill="#111"/>
<circle cx="361.50" cy="376.50" r="1.5" fill="#111"/>
<circle cx="359.10" cy="380.20" r="1.5" fill="#111"/>
<circle cx="354.90" cy="384.40" r="1.5" fill="#111"/>
<circle cx="362.70" cy="385.60" r="1.5" fill="#111"/>
<circle cx="359.10" cy="389.30" r="1.5" fill="#111"/>
<rect x="390.50" y="354.90" width="2.60" height="2.60" fill="#b8162e"/>
<rect x="390.50" y="364.90" width="2.60" height="2.60" fill="#b8162e"/>
<rect x="386.30" y="378.20" width="2.60" height="2.60" fill="#b8162e"/>
<rect x="394.70" y="377.60" width="2.60" height="2.60" fill="#b8162e"/>
<rect x="390.50" y="378.90" width="2.60" height="2.60" fill="#b8162e"/>
<rect x="392.30" y="383.10" width="2.60" height="2.60" fill="#b8162e"/>
<rect x="388.70" y="386.70" width="2.60" height="2.60" fill="#b8162e"/>
<text x="419.40" y="333.10" font-size="12" text-anchor="start" font-weight="bold" fill="#000" >O</text>
<text x="480.30" y="332.00" font-size="9" text-anchor="middle" font-weight="normal" fill="#000" class="ttl">Serum CTX</text>
<line x1="446.50" y1="343.30" x2="446.50" y2="410.00" stroke="#666" stroke-width="1.1"/>
<line x1="445.95" y1="409.50" x2="511.50" y2="409.50" stroke="#333" stroke-width="1.05"/>
<line x1="444.50" y1="409.50" x2="446.50" y2="409.50" stroke="#555" stroke-width="0.9"/>
<text x="444.20" y="411.35" font-size="5.3" text-anchor="end" font-weight="normal" fill="#444" class="tk">0</text>
<line x1="444.50" y1="393.07" x2="446.50" y2="393.07" stroke="#555" stroke-width="0.9"/>
<text x="444.20" y="394.93" font-size="5.3" text-anchor="end" font-weight="normal" fill="#444" class="tk">50</text>
<line x1="444.50" y1="376.65" x2="446.50" y2="376.65" stroke="#555" stroke-width="0.9"/>
<text x="444.20" y="378.50" font-size="5.3" text-anchor="end" font-weight="normal" fill="#444" class="tk">100</text>
<line x1="444.50" y1="360.23" x2="446.50" y2="360.23" stroke="#555" stroke-width="0.9"/>
<text x="444.20" y="362.08" font-size="5.3" text-anchor="end" font-weight="normal" fill="#444" class="tk">150</text>
<line x1="444.50" y1="343.80" x2="446.50" y2="343.80" stroke="#555" stroke-width="0.9"/>
<text x="444.20" y="345.65" font-size="5.3" text-anchor="end" font-weight="normal" fill="#444" class="tk">200</text>
<line x1="462.50" y1="409.50" x2="462.50" y2="411.10" stroke="#333" stroke-width="0.8"/>
<line x1="495.30" y1="409.50" x2="495.30" y2="411.10" stroke="#333" stroke-width="0.8"/>
<text x="462.50" y="416.50" font-size="5.4" text-anchor="middle" font-weight="normal" fill="#333" class="gl">WT</text>
<text x="495.30" y="416.50" font-size="5.4" text-anchor="middle" font-weight="normal" fill="#333" class="gl">NHD13</text>
<text transform="translate(432.49,377.30) rotate(-90)" font-size="5.13" text-anchor="middle" fill="#555" class="tk">PB serum conc. (ng/mL)</text>
<line x1="462.55" y1="384.00" x2="462.55" y2="391.10" stroke="#222" stroke-width="1.0"/>
<line x1="457.10" y1="384.00" x2="468.00" y2="384.00" stroke="#222" stroke-width="1.0"/>
<line x1="457.10" y1="391.10" x2="468.00" y2="391.10" stroke="#222" stroke-width="1.0"/>
<line x1="451.30" y1="387.10" x2="473.50" y2="387.10" stroke="#222" stroke-width="1.0"/>
<line x1="495.40" y1="382.20" x2="495.40" y2="393.50" stroke="#222" stroke-width="1.0"/>
<line x1="489.50" y1="382.20" x2="501.30" y2="382.20" stroke="#222" stroke-width="1.0"/>
<line x1="489.50" y1="393.50" x2="501.30" y2="393.50" stroke="#222" stroke-width="1.0"/>
<line x1="483.60" y1="388.00" x2="506.70" y2="388.00" stroke="#222" stroke-width="1.0"/>
<circle cx="462.50" cy="364.90" r="1.5" fill="#111"/>
<circle cx="460.70" cy="374.40" r="1.5" fill="#111"/>
<circle cx="464.90" cy="374.00" r="1.5" fill="#111"/>
<circle cx="460.70" cy="379.50" r="1.5" fill="#111"/>
<circle cx="464.90" cy="380.20" r="1.5" fill="#111"/>
<circle cx="462.50" cy="385.60" r="1.5" fill="#111"/>
<circle cx="460.70" cy="387.10" r="1.5" fill="#111"/>
<circle cx="465.80" cy="386.70" r="1.5" fill="#111"/>
<circle cx="462.50" cy="394.70" r="1.5" fill="#111"/>
<circle cx="455.30" cy="397.60" r="1.5" fill="#111"/>
<circle cx="470.90" cy="399.50" r="1.5" fill="#111"/>
<circle cx="458.50" cy="400.20" r="1.5" fill="#111"/>
<circle cx="462.50" cy="400.70" r="1.5" fill="#111"/>
<circle cx="466.70" cy="400.70" r="1.5" fill="#111"/>
<rect x="494.00" y="346.70" width="2.60" height="2.60" fill="#b8162e"/>
<rect x="494.00" y="373.40" width="2.60" height="2.60" fill="#b8162e"/>
<rect x="489.60" y="388.50" width="2.60" height="2.60" fill="#b8162e"/>
<rect x="498.20" y="389.40" width="2.60" height="2.60" fill="#b8162e"/>
<rect x="494.00" y="390.30" width="2.60" height="2.60" fill="#b8162e"/>
<rect x="491.80" y="395.20" width="2.60" height="2.60" fill="#b8162e"/>
<rect x="496.30" y="396.70" width="2.60" height="2.60" fill="#b8162e"/>
<rect x="494.50" y="398.50" width="2.60" height="2.60" fill="#b8162e"/>
<rect x="491.80" y="401.80" width="2.60" height="2.60" fill="#b8162e"/>
</g>
</svg>
</body></html>
